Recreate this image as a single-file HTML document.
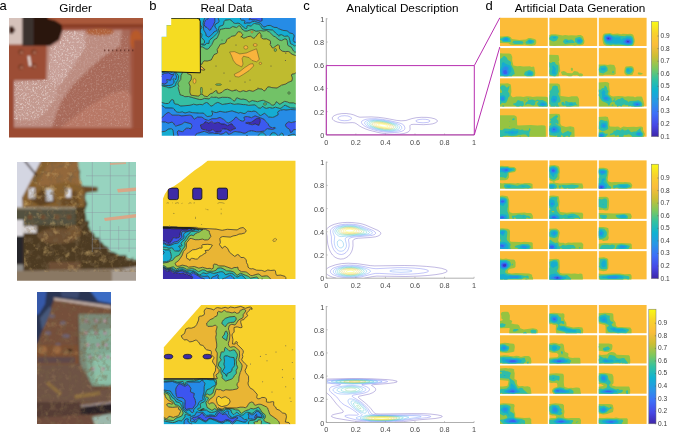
<!DOCTYPE html>
<html><head><meta charset="utf-8"><style>
html,body{margin:0;padding:0;background:#fff;width:685px;height:432px;overflow:hidden}
svg{display:block;will-change:transform;filter:blur(0.3px)}
</style></head><body>
<svg width="685" height="432" viewBox="0 0 685 432" font-family='"Liberation Sans", sans-serif'><text x="-0.6" y="9.9" font-size="13" text-anchor="start" fill="#000">a</text>
<text x="75.7" y="11.8" font-size="11.75" text-anchor="middle" fill="#000">Girder</text>
<text x="149.2" y="9.8" font-size="13" text-anchor="start" fill="#000">b</text>
<text x="226.5" y="11.8" font-size="11.75" text-anchor="middle" fill="#000">Real Data</text>
<text x="303.2" y="9.8" font-size="13" text-anchor="start" fill="#000">c</text>
<text x="402.5" y="11.8" font-size="11.75" text-anchor="middle" fill="#000">Analytical Description</text>
<text x="485.6" y="9.8" font-size="13" text-anchor="start" fill="#000">d</text>
<text x="580" y="11.8" font-size="11.75" text-anchor="middle" fill="#000">Artificial Data Generation</text>
<defs><filter id="bl1" x="-5%" y="-5%" width="110%" height="110%"><feGaussianBlur stdDeviation="1.2"/></filter><filter id="spk" x="0" y="0" width="100%" height="100%"><feTurbulence type="fractalNoise" baseFrequency="0.55" numOctaves="2" seed="4"/><feColorMatrix type="matrix" values="0 0 0 0 0.93  0 0 0 0 0.85  0 0 0 0 0.83  2.6 0 0 0 -1.25"/><feGaussianBlur stdDeviation="0.35"/></filter><filter id="mot" x="0" y="0" width="100%" height="100%"><feTurbulence type="fractalNoise" baseFrequency="0.16" numOctaves="3" seed="9"/><feColorMatrix type="matrix" values="0 0 0 0 0.18  0 0 0 0 0.12  0 0 0 0 0.06  2.2 0 0 0 -1.0"/></filter><filter id="mot2" x="0" y="0" width="100%" height="100%"><feTurbulence type="fractalNoise" baseFrequency="0.14" numOctaves="3" seed="21"/><feColorMatrix type="matrix" values="0 0 0 0 0.75  0 0 0 0 0.52  0 0 0 0 0.2  2.4 0 0 0 -1.3"/></filter></defs><clipPath id="cp1"><rect x="9" y="18" width="134" height="119.6"/></clipPath><g clip-path="url(#cp1)"><g filter="url(#bl1)"><rect x="5" y="14" width="142" height="128" fill="#a0543f"/><path d="M46 30 L130 30 L132 128 L14 128 L14 80 L46 80 Z" fill="#a86a5a"/><path d="M48 31 L122 30 L120 46 L104 56 L88 70 L72 86 L62 100 L56 114 L52 127 L14 127 L14 80 L46 80 Z" fill="#bc8c80"/><path d="M50 47.5 L60.5 41 L63.5 31 L84 31 L86 46 L76 62 L64 80 L54 92 L48 80 Z" fill="#c8a098"/><path d="M14 82 L46 79 L58 84 L56 98 L46 112 L36 120 L14 120 Z" fill="#c49a90"/><path d="M60 128 L86 108 L110 94 L126 90 L131 96 L131 128 Z" fill="#b87866"/><rect x="44" y="14" width="104" height="12" fill="#a9593a"/><rect x="60" y="24" width="84" height="4" fill="#8a3e28"/><ellipse cx="136" cy="40" rx="6" ry="10" fill="#b85a2c"/><ellipse cx="100" cy="32" rx="14" ry="3.5" fill="#b0643c"/><rect x="134" y="40" width="13" height="100" fill="#9a4e36"/><rect x="5" y="128" width="142" height="14" fill="#9c4c30"/><rect x="5" y="44" width="41" height="36" fill="#9c4e34"/><rect x="5" y="80" width="9" height="50" fill="#9a4a32"/><circle cx="21" cy="52" r="2.8" fill="#7a3a26"/><circle cx="21.6" cy="52.6" r="1.4" fill="#b87860"/><circle cx="34" cy="52" r="2.8" fill="#7a3a26"/><circle cx="34.6" cy="52.6" r="1.4" fill="#b87860"/><circle cx="21" cy="67" r="2.8" fill="#7a3a26"/><circle cx="21.6" cy="67.6" r="1.4" fill="#b87860"/><circle cx="34" cy="66" r="2.8" fill="#7a3a26"/><circle cx="34.6" cy="66.6" r="1.4" fill="#b87860"/><path d="M27.5 56 L30 56 L31.5 66 L29 66 Z" fill="#e8d8d4"/><rect x="5" y="14" width="17.8" height="30.5" fill="#d6c2bb"/><path d="M9 27 L12.5 26 L15.3 30 L12.5 34 L9 33 Z" fill="#3a1c16"/><path d="M22.6 14 L47.5 14 L48 18.8 L55 20.5 L61.5 24.5 L62.5 30 L59 40 L50 45.8 L22.6 45.8 Z" fill="#2c130e"/><rect x="22.6" y="14" width="11.2" height="31.8" fill="#3a302d"/></g><clipPath id="cp1b"><path d="M63 30 L104 29 L128 36 L130 126 L16 126 L16 82 L48 80 L50 47.5 L60.5 41 Z"/></clipPath><clipPath id="cp1c"><path d="M14 82 L46 79 L58 84 L56 98 L46 112 L36 120 L14 120 Z M50 47.5 L60.5 41 L63.5 31 L84 31 L86 46 L76 62 L64 80 L54 92 L48 80 Z"/></clipPath><rect x="9" y="18" width="134" height="120" filter="url(#spk)" clip-path="url(#cp1b)" opacity="0.25"/><rect x="9" y="18" width="134" height="120" filter="url(#spk)" clip-path="url(#cp1c)" opacity="0.5"/><rect x="104" y="49.5" width="1.4" height="1.8" fill="#5a2a20" opacity="0.7"/><rect x="108" y="49.5" width="1.4" height="1.8" fill="#5a2a20" opacity="0.7"/><rect x="112" y="49.5" width="1.4" height="1.8" fill="#5a2a20" opacity="0.7"/><rect x="116" y="49.5" width="1.4" height="1.8" fill="#5a2a20" opacity="0.7"/><rect x="120" y="49.5" width="1.4" height="1.8" fill="#5a2a20" opacity="0.7"/><rect x="124" y="49.5" width="1.4" height="1.8" fill="#5a2a20" opacity="0.7"/><rect x="128" y="49.5" width="1.4" height="1.8" fill="#5a2a20" opacity="0.7"/><rect x="132" y="49.5" width="1.4" height="1.8" fill="#5a2a20" opacity="0.7"/></g><clipPath id="cp2"><rect x="17" y="162" width="119" height="118.7"/></clipPath><g clip-path="url(#cp2)"><g filter="url(#bl1)"><rect x="13" y="158" width="127" height="127" fill="#4e3a24"/><path d="M76 158 L140 158 L138.9 261.1 L138.4 259.7 L137.2 259.2 L133.9 260.7 L132.7 260.0 L133.6 257.3 L129.4 259.7 L126.7 258.6 L126.3 255.1 L122.4 255.1 L118.8 254.9 L116.3 253.5 L113.9 252.1 L110.8 251.8 L108.4 250.8 L108.5 247.4 L106.2 246.3 L103.8 245.3 L102.8 242.9 L100.0 241.3 L99.4 237.6 L95.1 237.6 L94.2 234.1 L92.1 231.9 L89.7 229.9 L89.8 227.2 L88.1 226.4 L89.2 222.7 L88.8 220.6 L85.9 221.0 L86.3 218.0 L85.6 214.3 L85.0 210.6 L87.4 203.7 L85.9 200.8 L85.0 197.4 L86.5 191.5 L84.1 190.6 L85.2 186.1 L82.1 185.9 L80.6 184.1 L80.1 181.3 L79.5 178.5 L79.4 175.4 L80.3 171.4 L79.1 169.4 L77.5 167.8 L76.0 166.2 L77.0 162.0 L76 158 Z" fill="#97d3bf"/><path d="M83 186 L97.6 187 L97.6 191.6 L84 193 Z" fill="#6a4a28"/><path d="M13 158 L42.5 158 L42.5 162.3 L22.2 197.6 L23.5 208 L13 208 Z" fill="#d4d6e2"/><path d="M42.5 158 L76.5 158 L79.5 178 L84.5 192 L84.5 207 L22.5 207 L22.2 197.6 Z" fill="#86602e"/><path d="M48 164 L78 160 L80 185 L64 182 L50 186 L36 186 Z" fill="#93683a"/><path d="M30 200 L46 186 L56 202 L40 206 Z" fill="#5e4224"/><path d="M60 200 L76 190 L80 205 L62 206 Z" fill="#6a4c28"/><line x1="24" y1="160" x2="37" y2="176" stroke="#3a2a24" stroke-width="1.5"/><rect x="28.6" y="188" width="6.5" height="10.5" fill="#d8d8e0"/><rect x="46" y="188.6" width="6.8" height="12.5" fill="#c4c8d2"/><rect x="65.7" y="188.6" width="5.5" height="9" fill="#dcdce4"/><rect x="13" y="207.6" width="62.8" height="17.5" fill="#52513f"/><rect x="13" y="207" width="62.8" height="2.2" fill="#9a8e78"/><circle cx="30" cy="217" r="2.6" fill="#6e4e30"/><circle cx="43" cy="217" r="2.6" fill="#6e4e30"/><circle cx="57" cy="217" r="2.6" fill="#6e4e30"/><circle cx="69" cy="217" r="2.6" fill="#6e4e30"/><rect x="13" y="220" width="10.4" height="16" fill="#dedbe0"/><rect x="22" y="226" width="14.7" height="7" fill="#d6d2d2"/><rect x="13" y="236" width="10.4" height="28.4" fill="#25252b"/><rect x="13" y="264.4" width="10.4" height="20" fill="#8e8c8a"/><ellipse cx="58" cy="236" rx="20" ry="8" fill="#6c5030"/><ellipse cx="74" cy="232" rx="7" ry="7" fill="#745430"/><rect x="48.6" y="262" width="32" height="9" fill="#6e5036"/><path d="M13 271 L140 268 L140 285 L13 285 Z" fill="#8a7864"/><path d="M112 270 L140 266 L140 285 L112 285 Z" fill="#a89e94"/></g><clipPath id="cp2b"><path d="M42.5 162 L77 162 L80 178 L85 189 L84.4 217.9 L90.2 229.4 L101.8 243.9 L113.4 252.6 L130.7 258.4 L136 260 L136 272 L24 272 L24 207 L22.2 197.6 Z"/></clipPath><rect x="17" y="162" width="119" height="119" filter="url(#mot)" clip-path="url(#cp2b)" opacity="0.7"/><rect x="17" y="162" width="119" height="119" filter="url(#mot2)" clip-path="url(#cp2b)" opacity="0.6"/><line x1="92.3" y1="162" x2="92.3" y2="252" stroke="#8a8f9e" stroke-width="0.7" opacity="0.65"/><line x1="110.3" y1="162" x2="110.3" y2="252" stroke="#8a8f9e" stroke-width="0.7" opacity="0.65"/><line x1="129.1" y1="162" x2="129.1" y2="252" stroke="#8a8f9e" stroke-width="0.7" opacity="0.65"/><line x1="86" y1="175.8" x2="136" y2="175.8" stroke="#8a8f9e" stroke-width="0.7" opacity="0.55"/><line x1="86" y1="194.6" x2="136" y2="194.6" stroke="#8a8f9e" stroke-width="0.7" opacity="0.55"/><line x1="86" y1="212.6" x2="136" y2="212.6" stroke="#8a8f9e" stroke-width="0.7" opacity="0.55"/><line x1="92" y1="230.4" x2="136" y2="230.4" stroke="#8a8f9e" stroke-width="0.7" opacity="0.55"/><line x1="92" y1="239.3" x2="136" y2="239.3" stroke="#8a8f9e" stroke-width="0.7" opacity="0.55"/><line x1="92" y1="248.1" x2="136" y2="248.1" stroke="#8a8f9e" stroke-width="0.7" opacity="0.55"/><line x1="100" y1="226" x2="100" y2="250" stroke="#8a8f9e" stroke-width="0.7" opacity="0.55"/><line x1="118.7" y1="226" x2="118.7" y2="250" stroke="#8a8f9e" stroke-width="0.7" opacity="0.55"/><path d="M117 189 L136 187.5 L136 191 L118 192.5 Z" fill="#e0a282" opacity="0.9"/><path d="M104 218 L136 214 L136 217.5 L105 221 Z" fill="#e0a282" opacity="0.9"/><path d="M110 163 L126 162.3 L126 164 L110 165 Z" fill="#e0a282" opacity="0.8"/></g><clipPath id="cp3"><rect x="37" y="292" width="74" height="132"/></clipPath><g clip-path="url(#cp3)"><g filter="url(#bl1)"><rect x="33" y="288" width="82" height="140" fill="#6a4a38"/><path d="M33 288 L115 288 L115 307 L54.3 298.5 L37.1 344.6 L33 346 Z" fill="#2b3552"/><path d="M33 288 L47 288 L45 304 L39 314 L33 316 Z" fill="#3558a8"/><path d="M40 318 L50 306 L53 312 L42 330 Z" fill="#46587a"/><path d="M88 288 L115 288 L115 304 L98 301 Z" fill="#3b6cc4"/><path d="M60 290 L80 290 L78 298 L62 297 Z" fill="#3a4a70"/><path d="M53.5 297.5 L111 305.6 L111 309 L54.5 300.8 Z" fill="#b7a49c"/><path d="M55 300.5 L111 309 L111 316 L78 314 L76 345 L37.1 345 Z" fill="#74503a"/><ellipse cx="52" cy="316" rx="3" ry="2" fill="#6e6270"/><ellipse cx="63" cy="323" rx="3" ry="2" fill="#6e6270"/><ellipse cx="48" cy="333" rx="3" ry="2" fill="#6e6270"/><ellipse cx="66" cy="336" rx="4" ry="2" fill="#6e6270"/><ellipse cx="58" cy="345" rx="3" ry="2" fill="#6e6270"/><ellipse cx="44" cy="354" rx="3" ry="2" fill="#6e6270"/><path d="M78.6 314 L115 314 L115 386 L88 386 L80 362 Z" fill="#7a8a78"/><path d="M86 332 L115 328 L115 386 L90 386 L86 360 Z" fill="#80a892"/><path d="M93 356 L115 352 L115 384 L95 384 Z" fill="#8cc0a8"/><circle cx="86" cy="321" r="1.7" fill="#b08aa0"/><circle cx="96" cy="321" r="1.7" fill="#b08aa0"/><circle cx="105" cy="321" r="1.7" fill="#b08aa0"/><circle cx="86" cy="333" r="1.7" fill="#b08aa0"/><circle cx="96" cy="333" r="1.7" fill="#b08aa0"/><circle cx="105" cy="333" r="1.7" fill="#b08aa0"/><circle cx="88" cy="345" r="1.7" fill="#b08aa0"/><circle cx="98" cy="345" r="1.7" fill="#b08aa0"/><circle cx="106" cy="345" r="1.7" fill="#b08aa0"/><circle cx="90" cy="357" r="1.7" fill="#b08aa0"/><circle cx="100" cy="357" r="1.7" fill="#b08aa0"/><circle cx="108" cy="357" r="1.7" fill="#b08aa0"/><circle cx="93" cy="369" r="1.7" fill="#b08aa0"/><circle cx="103" cy="369" r="1.7" fill="#b08aa0"/><rect x="33" y="345" width="45" height="19" fill="#7c5032"/><circle cx="43" cy="350" r="4" fill="#9c6a40"/><circle cx="57" cy="350" r="4" fill="#9a6840"/><ellipse cx="69.8" cy="350.5" rx="2.5" ry="1.6" fill="#1e1414"/><rect x="37" y="357" width="38" height="6" fill="#5e4a48"/><path d="M33 364 L80 364 L95 390 L115 388 L115 402 L33 402 Z" fill="#6e5244"/><path d="M48 381 L62 393 L60 396 L46 384 Z" fill="#9a7a40" opacity="0.7"/><path d="M74 395 L100 391 L100 395 L75 399 Z" fill="#9a7a40" opacity="0.7"/><path d="M33 402 L80 402 L82 417 L33 419 Z" fill="#563e36"/><path d="M80 405 L115 402 L115 413 L82 417 Z" fill="#2c2426"/><path d="M80 405 L115 401 L115 403 L82 407 Z" fill="#a09090"/><path d="M33 418 L115 413 L115 428 L33 428 Z" fill="#6e4c3c"/><path d="M92 417 L115 413 L115 428 L96 428 Z" fill="#9cb8ac"/></g><clipPath id="cp3b"><path d="M55 301 L111 309 L111 424 L37 424 L37 345 Z"/></clipPath><rect x="37" y="292" width="74" height="132" filter="url(#mot)" clip-path="url(#cp3b)" opacity="0.6"/><rect x="37" y="292" width="74" height="132" filter="url(#mot2)" clip-path="url(#cp3b)" opacity="0.22"/></g>
<g><clipPath id="cb1"><rect x="161.5" y="18.0" width="134.5" height="118.0"/></clipPath><g clip-path="url(#cb1)"><path d="M256.4 118.5L259.0 118.4L259.8 118.6L260.2 119.2L260.4 120.8L259.0 125.4L255.2 124.0L252.2 124.8L245.7 123.0L247.8 122.3L250.0 122.5L251.4 122.2L256.4 118.5ZM211.6 121.5L212.2 121.5L213.2 123.0L214.0 123.3L217.8 122.3L220.0 122.9L220.8 123.9L224.5 124.1L227.5 125.6L231.2 123.8L232.0 123.9L234.2 127.0L235.9 128.2L232.0 129.9L230.5 131.0L226.8 129.3L223.0 128.7L221.5 129.8L220.8 131.7L217.0 132.0L215.5 131.9L213.2 129.8L212.5 129.6L209.7 131.2L208.8 131.3L205.0 129.6L202.8 129.5L201.8 129.0L200.5 126.0L200.5 124.9L203.5 124.0L205.0 121.9L205.8 121.9L208.8 123.1L211.6 121.5Z" fill="#3d2fb4" fill-rule="evenodd"/>
<path d="M208.1 18.8L208.9 18.0L214.8 18.0L214.8 21.8L213.2 25.7L211.6 27.8L210.4 30.0L209.5 30.4L207.4 27.8L205.0 26.7L204.2 25.5L204.3 23.2L205.5 20.2L206.5 19.3L208.1 18.8ZM249.6 18.8L250.1 18.0L261.9 18.0L262.2 20.2L261.7 21.0L260.5 21.3L256.0 19.8L252.2 19.9L250.8 19.3L249.2 19.7L249.6 18.8ZM168.1 72.8L169.8 73.3L172.0 74.8L173.5 73.8L173.7 75.0L172.0 76.9L170.5 80.3L166.7 79.5L166.6 80.2L167.5 81.8L166.6 83.2L164.5 84.0L161.5 83.3L161.5 74.9L164.3 73.5L168.1 72.8ZM168.0 112.5L169.0 112.6L171.2 114.6L172.8 115.2L178.8 115.2L181.8 115.9L189.2 115.2L190.8 115.4L192.2 116.1L193.5 118.5L194.5 119.0L197.5 117.1L202.0 117.2L204.7 119.2L208.0 120.4L208.8 120.4L211.8 118.7L216.2 118.7L220.0 117.4L223.8 119.5L226.6 122.2L228.2 123.0L230.2 122.2L233.3 120.0L235.8 117.0L236.5 117.1L239.5 120.2L242.5 121.2L244.0 120.9L244.8 120.0L244.0 117.7L244.2 117.0L244.8 116.7L247.8 116.6L251.5 117.7L255.2 115.8L264.2 119.3L265.8 121.5L268.1 123.8L269.1 126.0L269.8 126.8L272.5 127.8L274.8 127.4L275.5 128.2L272.5 129.5L267.2 128.7L264.2 131.1L259.0 131.8L256.8 131.8L251.5 130.7L248.5 131.4L245.5 133.0L244.0 133.3L241.0 132.3L235.0 131.5L233.5 132.0L231.2 133.5L228.2 134.1L226.8 132.0L226.0 131.7L223.8 133.4L220.8 134.3L218.5 133.5L214.8 133.5L212.5 132.9L208.8 133.1L204.2 131.3L197.5 133.4L196.0 134.2L195.2 135.8L178.1 135.8L177.2 132.0L178.0 130.8L178.8 130.6L181.0 131.5L182.5 131.6L184.0 130.7L185.1 129.0L186.3 128.3L188.5 128.2L190.8 128.9L191.8 126.7L191.6 124.5L190.8 123.4L187.8 123.1L184.8 122.1L181.8 124.2L175.8 126.1L174.6 125.2L173.5 123.0L172.0 122.1L168.2 123.1L165.2 122.0L161.5 121.8L161.5 117.8L162.9 117.0L165.5 114.0L168.0 112.5ZM211.7 121.3L208.8 123.1L205.8 121.9L205.0 121.9L203.5 124.0L200.5 124.9L200.5 126.0L201.8 129.0L202.8 129.5L205.0 129.6L208.8 131.3L209.7 131.2L212.5 129.6L213.2 129.8L215.5 131.9L217.0 132.0L220.8 131.7L221.5 129.8L223.0 128.7L226.8 129.3L230.5 131.0L232.0 129.9L235.9 128.2L234.2 127.0L232.0 123.9L231.2 123.8L227.5 125.6L224.5 124.1L220.8 123.9L220.0 122.9L217.8 122.3L214.0 123.3L211.7 121.3ZM256.8 118.4L251.4 122.2L250.0 122.5L247.8 122.3L245.7 123.0L252.2 124.8L255.2 124.0L259.0 125.4L260.4 120.8L260.2 119.2L259.7 118.5L256.8 118.4ZM288.1 122.2L289.0 121.9L290.5 122.5L292.0 122.6L295.8 121.5L295.8 129.6L293.5 129.7L292.1 132.0L291.2 132.4L290.5 132.5L290.1 130.5L289.2 129.0L286.8 127.6L285.5 126.0L285.5 124.5L286.0 123.8L288.1 122.2Z" fill="#3c5af0" fill-rule="evenodd"/>
<path d="M204.9 18.0L208.9 18.0L208.1 18.8L206.5 19.3L205.5 20.2L204.5 22.5L204.2 24.8L205.0 26.7L207.2 27.6L209.5 30.4L210.4 30.0L211.6 27.8L213.2 25.7L214.8 21.8L214.8 18.0L218.1 18.0L218.9 20.2L218.9 21.8L218.5 22.5L215.6 24.0L214.9 25.5L215.0 27.0L216.8 29.2L216.7 30.8L214.0 31.9L211.8 34.6L208.8 37.0L206.3 36.0L205.6 33.0L203.7 30.0L203.1 23.2L203.8 20.2L204.9 18.0ZM240.3 18.0L250.1 18.0L249.1 19.5L249.2 19.7L250.8 19.3L252.2 19.9L256.0 19.8L260.5 21.3L261.7 21.0L262.2 20.2L261.9 18.0L295.8 18.0L295.8 42.3L294.2 42.1L293.3 40.5L293.3 39.0L294.3 36.0L293.5 34.4L292.8 33.7L289.8 33.0L287.1 30.8L283.0 30.4L278.5 28.7L277.0 27.5L274.0 27.4L270.2 25.4L267.2 25.6L265.0 26.9L263.5 27.0L260.3 23.2L254.5 21.4L252.2 21.7L250.0 23.0L247.0 22.9L244.8 23.5L244.1 23.2L244.8 21.7L244.8 20.8L244.0 20.3L241.5 20.2L240.7 19.5L240.3 18.0ZM166.5 71.2L168.2 70.6L169.0 70.7L171.3 72.0L172.0 72.0L172.8 71.4L174.2 71.8L176.6 76.5L176.5 78.1L175.8 79.5L175.0 79.5L174.2 78.7L173.5 78.9L173.2 79.5L174.1 81.0L173.5 83.5L172.0 84.8L169.8 85.6L163.8 85.3L161.5 84.6L161.5 83.3L164.5 84.0L166.6 83.2L167.5 81.8L166.6 80.2L166.8 79.5L170.5 80.3L172.0 76.9L173.7 75.0L173.5 73.8L172.0 74.8L168.3 72.7L164.3 73.5L161.5 74.9L161.5 72.8L166.5 71.2ZM161.5 76.5L161.5 76.2L161.5 76.9L161.5 76.5ZM161.5 105.8L161.5 105.4L162.5 105.8L165.2 107.9L172.0 108.0L173.5 108.4L174.2 109.0L175.3 111.0L177.2 112.2L179.5 112.4L182.5 111.9L184.0 112.7L185.5 112.9L189.2 111.9L192.2 112.6L199.8 113.2L202.8 113.1L204.2 113.5L206.4 116.2L207.2 116.5L210.6 116.2L212.0 115.5L212.6 114.0L212.3 112.5L211.7 111.8L211.8 110.9L214.0 112.2L216.2 112.6L220.0 111.3L225.2 112.3L232.0 110.9L238.8 113.1L240.2 112.4L244.0 113.6L245.5 113.2L247.8 111.2L251.5 111.6L253.8 111.1L255.2 111.3L256.8 112.1L259.0 114.8L260.3 115.5L261.2 115.4L264.2 113.3L265.0 113.6L268.6 117.0L272.5 117.4L274.0 117.0L278.1 114.8L278.3 114.0L277.6 112.5L277.8 111.8L280.3 110.2L283.8 109.6L286.0 110.0L290.5 109.5L295.8 109.8L295.8 121.5L291.2 122.6L289.0 121.9L288.2 122.1L286.0 123.8L285.4 125.2L286.6 127.5L289.0 128.9L289.8 129.8L290.5 132.5L292.1 132.0L293.5 129.7L295.8 129.6L295.8 135.3L294.2 134.3L292.8 134.3L287.7 135.8L283.7 135.8L283.0 133.8L281.5 133.2L278.6 135.8L278.0 135.8L275.5 133.2L273.2 132.7L271.8 133.0L269.8 135.8L266.1 135.8L264.2 133.4L263.2 132.8L262.0 132.6L260.5 133.1L257.6 135.8L195.2 135.8L196.0 134.2L197.5 133.4L204.2 131.3L208.8 133.1L212.5 132.9L214.8 133.5L218.5 133.5L220.8 134.3L223.8 133.4L226.0 131.7L226.8 132.0L228.2 134.1L229.0 134.1L231.2 133.5L233.5 132.0L235.0 131.5L241.0 132.3L244.0 133.3L245.5 133.0L248.5 131.4L251.5 130.7L256.8 131.8L259.0 131.8L264.2 131.1L267.2 128.7L272.5 129.5L275.5 128.2L274.8 127.4L272.5 127.8L269.8 126.8L269.1 126.0L268.1 123.8L265.8 121.5L264.2 119.3L255.2 115.8L251.5 117.7L247.8 116.6L244.8 116.7L244.2 117.0L244.0 117.8L244.8 120.0L244.0 120.9L242.5 121.2L239.5 120.2L236.5 117.1L235.8 117.0L233.3 120.0L230.2 122.2L228.2 123.0L226.6 122.2L223.8 119.5L220.0 117.4L216.2 118.7L211.8 118.7L208.8 120.4L208.0 120.4L204.7 119.2L202.0 117.2L197.5 117.1L194.5 119.0L193.5 118.5L192.2 116.1L190.8 115.4L189.2 115.2L181.8 115.9L178.8 115.2L172.8 115.2L172.0 115.1L169.8 113.1L168.2 112.4L165.5 114.0L162.9 117.0L161.5 117.8L161.5 105.8ZM161.5 122.2L161.5 121.8L164.5 121.9L168.2 123.1L172.0 122.1L173.5 123.0L175.0 125.7L176.5 126.1L178.8 125.0L182.5 123.9L184.8 122.1L187.8 123.1L190.8 123.4L191.6 124.5L191.8 126.8L190.8 128.9L188.5 128.2L186.2 128.3L185.1 129.0L184.0 130.7L182.5 131.6L181.0 131.5L178.8 130.6L178.0 130.8L177.2 132.0L178.1 135.8L173.7 135.8L173.1 130.5L172.1 129.0L171.2 128.6L168.2 129.2L165.2 131.3L161.5 131.8L161.5 122.2Z" fill="#268ce6" fill-rule="evenodd"/>
<path d="M161.5 18.0L174.7 18.0L175.0 24.8L176.3 27.0L176.1 33.0L177.7 36.8L177.4 40.5L177.8 43.5L177.1 45.8L176.9 48.8L175.1 53.2L175.2 54.8L176.5 58.5L174.8 61.5L175.3 66.8L174.7 69.0L174.9 70.5L176.2 72.8L178.6 75.8L178.4 78.8L177.9 80.2L175.9 83.2L175.6 85.5L170.5 87.7L168.2 87.7L166.8 86.9L163.0 86.2L161.5 85.5L161.5 84.6L163.8 85.3L169.0 85.6L172.0 84.8L173.7 83.2L174.1 81.0L173.2 79.5L173.5 78.9L174.2 78.7L175.0 79.5L175.7 79.5L176.6 77.2L176.3 75.8L174.5 72.0L173.5 71.5L172.8 71.4L172.0 72.0L171.2 72.0L169.0 70.7L167.5 70.7L164.8 72.0L161.5 72.8L161.5 18.0ZM199.6 18.0L204.9 18.0L203.8 20.2L203.1 23.2L203.7 30.0L205.6 33.0L206.3 36.0L208.0 36.9L208.8 37.0L211.1 35.2L214.0 31.9L216.7 30.8L216.8 29.2L215.0 27.0L214.9 25.5L215.6 24.0L218.5 22.5L218.9 21.8L218.9 20.2L218.1 18.0L240.3 18.0L240.7 19.5L241.5 20.2L244.0 20.3L244.8 20.8L244.8 21.8L244.1 23.2L244.8 23.5L247.0 22.9L250.0 23.0L252.2 21.7L254.5 21.4L260.3 23.2L263.5 27.0L265.0 26.9L267.2 25.6L270.2 25.4L274.0 27.4L277.0 27.5L278.5 28.7L283.0 30.4L286.0 30.5L287.5 30.9L289.8 33.0L292.8 33.7L294.1 35.2L294.2 36.8L293.3 39.0L293.3 40.5L294.2 42.1L295.8 42.3L295.8 45.7L294.2 45.8L292.8 44.6L290.5 43.6L289.1 37.5L288.2 36.3L287.5 36.0L284.5 36.4L281.5 34.7L278.5 35.4L275.5 33.0L273.7 30.8L272.5 30.0L263.5 29.2L261.9 28.5L260.3 25.5L259.0 24.4L254.5 23.5L253.4 24.0L251.5 25.7L250.8 26.0L247.8 25.5L246.9 26.2L246.9 27.8L246.5 28.5L245.5 28.5L243.2 27.0L240.2 23.8L238.0 23.1L235.8 23.5L234.2 23.2L232.8 22.2L231.2 20.2L229.8 19.6L225.0 20.2L223.9 21.8L223.6 24.0L223.0 25.2L219.2 26.5L217.8 32.6L213.2 37.1L209.9 39.8L209.4 40.5L208.9 43.5L206.5 43.3L205.1 45.0L202.8 45.0L201.3 44.2L203.5 43.8L204.2 43.2L204.6 42.0L204.3 40.5L201.5 37.5L202.0 34.2L201.6 33.8L199.8 33.5L199.1 33.0L198.2 31.5L198.3 30.8L198.9 30.0L201.2 28.8L201.8 27.8L201.2 25.6L199.4 24.0L199.7 21.8L199.3 19.5L199.6 18.0ZM176.9 21.0L178.0 20.3L178.8 20.6L179.2 21.8L178.8 22.4L177.7 22.5L176.7 21.8L176.9 21.0ZM171.5 99.8L172.8 99.6L173.5 100.2L174.2 103.3L175.0 104.0L178.0 104.4L180.0 105.8L181.0 106.0L190.0 105.3L193.8 104.2L196.8 104.9L199.8 104.4L202.8 104.7L205.0 103.0L206.5 102.5L208.0 103.0L210.2 105.7L211.8 106.0L213.2 105.2L215.2 103.5L217.8 102.4L219.1 102.8L222.2 104.5L230.5 103.2L234.2 104.4L238.0 103.9L243.2 104.6L245.5 104.6L248.5 105.4L254.5 104.9L256.0 105.6L258.2 107.7L260.5 108.4L262.0 106.6L262.8 106.5L265.0 108.0L266.5 108.4L269.5 107.5L272.5 108.2L275.5 107.2L280.0 108.5L281.5 108.0L283.8 105.7L285.2 105.2L290.5 107.8L295.8 108.2L295.8 109.8L290.5 109.5L286.0 110.0L283.8 109.6L280.3 110.2L277.8 111.8L277.6 112.5L278.3 114.0L278.1 114.8L274.0 117.0L272.5 117.4L268.6 117.0L265.0 113.6L264.2 113.3L261.2 115.4L260.3 115.5L259.0 114.8L256.8 112.1L255.2 111.3L253.8 111.1L251.5 111.6L247.8 111.2L245.5 113.2L244.0 113.6L240.2 112.4L238.8 113.1L232.0 110.9L225.2 112.3L220.0 111.3L216.2 112.6L214.0 112.2L211.8 110.9L211.7 111.7L212.3 112.5L212.6 114.0L212.0 115.5L210.6 116.2L207.2 116.5L206.4 116.2L204.2 113.5L202.8 113.1L199.8 113.2L192.2 112.6L189.2 111.9L185.5 112.9L184.0 112.7L182.5 111.9L179.5 112.4L177.2 112.2L175.3 111.0L174.2 109.0L173.5 108.4L172.0 108.0L165.2 107.9L163.0 106.1L161.5 105.4L161.5 102.3L165.3 103.5L168.2 103.5L169.0 103.2L170.5 100.6L171.5 99.8ZM168.6 129.0L171.2 128.6L172.8 129.7L173.4 132.0L173.7 135.8L161.5 135.8L161.5 131.8L163.8 131.7L165.4 131.2L167.1 129.8L168.6 129.0ZM261.4 132.8L263.5 132.9L266.1 135.8L257.6 135.8L259.9 133.5L261.4 132.8ZM272.5 132.8L275.5 133.2L278.0 135.8L269.8 135.8L271.3 133.5L272.5 132.8ZM281.0 133.5L281.5 133.2L282.7 133.5L283.7 135.8L278.6 135.8L281.0 133.5ZM293.4 134.2L294.2 134.3L295.8 135.3L295.8 135.8L287.7 135.8L291.2 134.5L293.4 134.2ZM246.2 135.8L247.7 135.8L246.2 135.8Z" fill="#15acd2" fill-rule="evenodd"/>
<path d="M174.7 18.0L184.3 18.0L185.0 20.2L185.5 23.2L185.3 24.8L183.2 27.8L182.8 30.0L183.2 32.2L185.8 36.0L185.9 40.5L185.5 41.6L184.4 42.8L185.2 44.2L185.2 45.8L183.2 48.8L182.1 51.8L182.3 52.5L184.3 54.0L183.6 58.5L184.3 63.0L184.5 67.5L184.0 69.5L181.0 75.6L180.7 79.5L178.4 82.5L177.9 84.0L178.9 86.2L178.2 87.8L180.2 94.9L183.2 95.7L184.8 96.7L188.5 96.5L199.8 99.6L202.0 99.5L204.2 98.4L208.8 98.9L209.5 98.7L211.0 97.2L214.0 97.4L215.5 97.1L218.5 98.1L222.2 97.3L229.0 97.6L230.8 98.2L233.1 100.5L234.2 101.0L235.3 100.5L236.3 98.2L237.2 97.9L241.0 99.4L243.2 99.1L246.4 99.8L247.5 100.5L248.5 101.9L249.2 102.0L252.2 100.5L257.5 101.7L262.0 100.4L263.5 100.4L269.5 103.1L271.8 105.0L272.5 105.2L273.9 105.0L274.9 104.2L276.2 101.9L277.0 101.8L279.2 104.1L280.0 104.1L283.8 101.6L285.2 101.4L289.0 102.8L293.5 102.9L295.8 103.9L295.8 108.2L290.5 107.8L285.2 105.2L283.8 105.7L281.5 108.0L280.0 108.5L275.5 107.2L272.5 108.2L269.5 107.5L266.5 108.4L265.0 108.0L262.8 106.5L262.0 106.6L260.5 108.4L258.2 107.7L256.0 105.6L254.5 104.9L248.5 105.4L245.5 104.6L243.2 104.6L238.0 103.9L234.2 104.4L230.5 103.2L222.2 104.5L219.1 102.8L217.8 102.4L215.2 103.5L213.2 105.2L211.8 106.0L210.2 105.7L208.0 103.0L206.5 102.5L205.0 103.0L202.8 104.7L199.8 104.4L196.8 104.9L193.7 104.2L190.0 105.3L181.0 106.0L180.0 105.8L178.0 104.4L175.0 104.0L174.2 103.3L173.5 100.2L172.0 99.5L170.6 100.5L169.4 102.8L168.2 103.5L165.3 103.5L161.5 102.3L161.5 85.5L163.0 86.2L166.8 86.9L168.2 87.7L171.2 87.6L175.6 85.5L175.9 83.2L177.9 80.2L178.4 78.8L178.6 75.8L176.5 73.3L174.7 69.8L175.3 66.8L174.8 61.5L176.5 58.5L175.2 54.8L175.1 53.2L176.9 48.8L177.1 45.8L177.9 42.8L177.4 40.5L177.7 36.8L176.1 33.0L176.3 27.0L175.0 24.8L174.7 18.0ZM177.2 20.7L176.7 21.8L177.7 22.5L178.8 22.4L179.2 21.8L178.8 20.6L178.0 20.3L177.2 20.7ZM195.1 18.0L199.6 18.0L199.3 19.5L199.7 21.8L199.4 24.0L201.2 25.6L201.8 27.8L201.2 28.8L198.9 30.0L198.3 30.8L198.2 31.5L199.1 33.0L199.8 33.5L201.6 33.8L202.0 34.2L201.5 37.5L204.3 40.5L204.6 42.0L204.2 43.2L203.5 43.8L201.3 44.2L202.8 45.0L205.1 45.0L206.5 43.3L208.9 43.5L209.4 40.5L209.9 39.8L213.2 37.1L217.8 32.6L219.2 26.5L223.0 25.2L223.6 24.0L223.9 21.8L225.0 20.2L229.8 19.6L231.2 20.2L232.8 22.2L234.2 23.2L235.8 23.5L238.0 23.1L240.2 23.8L243.2 27.0L245.5 28.5L246.5 28.5L246.9 27.8L246.9 26.2L247.7 25.5L250.8 26.0L252.2 25.3L253.8 23.8L255.2 23.5L259.6 24.8L260.5 25.9L261.2 27.8L262.8 28.9L272.6 30.0L273.7 30.8L275.5 33.0L278.5 35.4L281.5 34.7L284.5 36.4L287.5 36.0L288.2 36.3L289.1 37.5L290.5 43.6L292.8 44.6L294.2 45.8L295.8 45.7L295.8 52.1L294.2 51.8L293.5 51.1L291.3 47.2L288.4 45.8L287.7 45.0L287.2 40.5L286.2 39.0L284.5 39.0L281.5 40.6L279.2 40.0L275.5 37.0L273.2 35.8L269.5 32.2L266.5 30.5L263.5 31.0L260.5 30.6L256.0 31.3L253.0 29.8L251.5 29.5L247.0 31.1L244.8 31.0L242.0 29.2L240.3 26.2L239.5 25.8L238.8 25.8L236.5 27.6L232.8 26.5L229.8 28.4L225.2 28.4L220.0 29.5L219.0 33.8L217.0 38.2L214.1 39.8L211.8 44.6L208.8 48.4L207.2 49.3L205.8 49.0L202.8 47.2L200.5 46.6L199.4 45.8L197.8 43.5L196.6 40.5L196.4 38.2L197.1 34.5L196.3 31.5L196.3 28.5L195.5 27.0L193.8 25.4L193.1 23.2L195.1 18.0Z" fill="#36bea2" fill-rule="evenodd"/>
<path d="M184.3 18.0L191.9 18.0L191.1 19.5L188.8 20.2L188.1 21.0L188.3 22.5L189.4 24.0L189.8 25.5L189.6 27.0L188.2 30.0L188.5 30.8L191.5 31.2L192.1 32.2L191.5 33.5L189.2 35.0L188.8 36.0L188.8 38.2L189.9 45.0L188.3 48.8L188.1 50.2L188.9 53.2L191.5 55.3L192.0 56.2L191.6 57.8L188.6 60.0L188.3 60.8L188.7 62.2L190.0 64.1L190.3 65.2L189.8 66.8L187.5 69.8L187.1 72.0L187.8 73.9L190.8 74.8L191.5 76.5L191.2 79.5L189.2 82.3L189.0 83.2L190.2 86.2L189.8 92.2L190.9 95.2L198.2 96.2L199.0 96.0L200.1 94.5L201.3 94.0L202.0 94.1L204.3 96.0L207.2 96.7L210.2 93.8L212.7 93.0L215.5 90.7L216.2 90.5L216.9 90.8L217.2 93.0L219.2 93.4L222.2 92.2L224.5 89.8L227.5 89.2L232.0 91.0L236.5 90.0L238.8 91.5L240.2 91.8L243.2 90.6L246.2 91.6L249.2 90.4L253.0 91.4L258.2 88.7L262.0 89.0L263.8 90.8L265.0 90.8L266.9 87.8L268.0 86.9L269.5 86.9L271.8 87.6L277.0 88.0L281.5 85.2L285.8 84.0L287.9 82.5L292.0 80.8L292.4 78.0L291.3 75.0L292.0 74.1L294.2 73.8L295.8 72.8L295.8 103.9L293.5 102.9L289.8 102.9L286.0 101.5L284.5 101.4L280.0 104.1L279.2 104.1L277.0 101.8L276.2 101.9L274.9 104.2L273.9 105.0L272.5 105.2L271.8 105.0L269.5 103.1L263.5 100.4L262.0 100.4L257.5 101.7L252.2 100.5L249.2 102.0L248.5 101.9L247.5 100.5L246.4 99.8L243.2 99.1L241.0 99.4L237.2 97.9L236.3 98.2L235.3 100.5L234.2 101.0L233.1 100.5L230.8 98.2L227.5 97.4L222.2 97.3L218.5 98.1L216.2 97.2L213.2 97.4L211.8 97.1L211.0 97.2L209.5 98.7L208.8 98.9L204.2 98.4L202.0 99.5L199.8 99.6L188.5 96.5L184.8 96.7L183.2 95.7L180.2 94.9L178.2 87.8L178.9 86.2L177.9 84.0L178.4 82.5L180.7 79.5L181.0 75.6L184.0 69.5L184.5 67.5L184.3 63.0L183.6 58.5L184.3 54.0L182.3 52.5L182.1 51.8L183.2 48.8L185.2 45.8L185.2 44.2L184.4 42.8L185.5 41.6L185.9 40.5L185.8 36.0L183.6 33.0L182.8 30.8L183.2 27.8L185.5 24.0L185.2 21.0L184.3 18.0ZM193.6 18.0L195.1 18.0L193.1 23.2L193.8 25.4L195.5 27.0L196.3 28.5L196.3 31.5L197.1 34.5L196.4 38.2L196.8 40.9L197.8 43.5L199.4 45.8L200.5 46.6L202.8 47.2L205.8 49.0L207.2 49.3L208.8 48.4L211.8 44.6L214.1 39.8L217.0 38.2L219.0 33.8L220.0 29.5L225.2 28.4L229.8 28.4L232.8 26.5L236.5 27.6L238.8 25.8L239.5 25.8L240.3 26.2L242.0 29.2L244.8 31.0L247.0 31.1L251.5 29.5L253.0 29.8L256.0 31.3L260.5 30.6L263.5 31.0L266.5 30.5L269.5 32.2L273.2 35.8L275.5 37.0L279.2 40.0L281.5 40.6L284.5 39.0L286.2 39.0L287.2 40.5L287.7 45.0L288.4 45.8L291.3 47.2L293.5 51.1L294.3 51.8L295.8 52.1L295.8 55.7L291.2 53.9L290.3 52.5L288.2 51.4L285.2 51.7L282.2 51.2L279.5 48.8L279.4 45.8L278.5 44.9L277.3 45.0L273.2 48.0L272.5 48.0L270.2 44.6L270.6 42.0L270.2 40.6L266.5 38.9L263.5 39.0L261.7 38.2L261.2 37.5L260.9 34.5L259.8 32.5L258.6 33.0L255.0 37.5L253.8 38.2L253.0 38.1L250.8 36.3L250.0 36.3L247.8 36.6L244.8 38.0L243.2 38.1L241.8 36.8L240.8 36.8L242.5 35.6L242.7 34.5L242.3 33.8L240.6 32.2L238.8 31.7L237.6 32.2L236.3 34.5L235.0 35.7L231.2 36.4L230.3 37.5L227.5 38.8L226.7 39.8L226.0 42.0L225.2 43.1L224.5 43.5L220.3 44.2L217.2 49.5L217.6 52.5L217.3 53.2L214.0 54.7L211.2 60.0L207.2 61.0L204.0 60.8L202.8 62.2L202.0 64.2L200.5 64.4L199.6 63.0L199.3 61.5L196.5 58.5L196.2 54.8L196.6 50.2L194.7 45.8L192.9 42.8L192.9 42.0L194.2 39.8L194.1 36.0L194.8 31.5L194.3 29.2L192.2 26.0L191.6 23.2L193.6 18.0Z" fill="#72c267" fill-rule="evenodd"/>
<path d="M191.9 18.0L193.6 18.0L191.6 23.2L192.2 26.0L194.3 29.2L194.8 31.5L194.1 36.0L194.2 39.8L192.9 42.0L192.9 42.8L194.7 45.8L196.6 50.2L196.2 54.8L196.5 58.5L199.3 61.5L199.6 63.0L200.5 64.4L202.0 64.2L202.8 62.2L204.0 60.8L207.2 61.0L211.2 60.0L214.0 54.7L217.3 53.2L217.6 52.5L217.2 49.5L220.3 44.2L224.5 43.5L225.2 43.1L226.0 42.0L226.7 39.8L227.5 38.8L230.3 37.5L231.2 36.4L235.0 35.7L236.3 34.5L238.0 31.9L240.2 32.1L241.7 33.0L242.7 34.5L242.6 35.2L240.8 36.8L241.8 36.8L243.2 38.1L244.8 38.0L247.8 36.6L250.0 36.3L250.8 36.3L253.0 38.1L253.8 38.3L255.0 37.5L258.6 33.0L259.8 32.5L260.9 34.5L261.2 37.5L261.7 38.2L263.5 39.0L266.5 38.9L270.2 40.6L270.6 42.0L270.2 44.6L272.5 48.0L273.2 48.0L277.3 45.0L278.5 44.9L279.4 45.8L279.5 48.8L282.2 51.2L285.2 51.7L288.2 51.4L290.3 52.5L291.2 53.9L295.8 55.7L295.8 72.8L294.2 73.8L292.0 74.1L291.3 75.0L292.4 78.0L292.0 80.8L287.9 82.5L285.8 84.0L281.5 85.2L277.0 88.0L271.8 87.6L269.5 86.9L268.0 86.9L266.9 87.8L265.0 90.8L263.8 90.8L262.0 89.0L258.2 88.7L253.0 91.4L249.2 90.4L246.2 91.6L243.2 90.6L240.2 91.8L238.8 91.5L236.5 90.0L232.0 91.0L227.5 89.2L224.5 89.8L222.2 92.2L219.2 93.4L217.2 93.0L216.9 90.8L216.2 90.5L215.5 90.7L212.7 93.0L210.2 93.8L207.2 96.7L204.3 96.0L202.0 94.1L201.2 94.0L200.1 94.5L199.0 96.0L198.2 96.2L190.9 95.2L189.8 92.2L190.2 86.2L189.0 83.2L189.2 82.3L191.2 79.5L191.5 76.5L190.8 74.8L187.8 73.9L187.1 72.0L187.5 69.8L189.8 66.8L190.3 65.2L190.0 64.1L188.7 62.2L188.3 60.8L188.6 60.0L191.6 57.8L192.0 56.2L191.5 55.3L188.9 53.2L188.1 50.2L188.3 48.8L189.9 45.0L188.8 38.2L188.8 36.0L189.2 35.0L191.5 33.5L192.1 32.2L191.5 31.2L188.5 30.8L188.2 30.0L189.6 27.0L189.8 25.5L189.4 24.0L188.3 22.5L188.1 21.0L188.8 20.2L191.1 19.5L191.9 18.0ZM200.5 65.9L199.9 66.0L199.7 67.5L199.8 68.2L200.5 69.2L202.0 69.9L204.2 70.1L204.8 69.8L204.4 69.0L200.5 65.9Z" fill="#bfbb2f" fill-rule="evenodd"/>
<path d="M199.9 66.0L200.8 66.0L202.8 68.0L204.4 69.0L204.8 69.8L204.2 70.1L201.2 69.8L199.8 68.2L199.9 66.0Z" fill="#f9b43c" fill-rule="evenodd"/>
<path d="M256.8 118.4L251.4 122.2L250.0 122.5L247.8 122.3L245.7 123.0L252.2 124.8L255.2 124.0L259.0 125.4L260.4 120.8L260.2 119.2L259.7 118.5L256.8 118.4M211.7 121.3L208.8 123.1L205.8 121.9L205.0 121.9L203.5 124.0L200.5 124.9L200.5 126.0L201.8 129.0L202.8 129.5L205.0 129.6L208.8 131.3L209.7 131.2L212.5 129.6L213.2 129.8L215.5 131.9L217.0 132.0L220.8 131.7L221.5 129.8L223.0 128.7L226.8 129.3L230.5 131.0L232.0 129.9L235.9 128.2L234.2 127.0L232.0 123.9L231.2 123.8L227.5 125.6L224.5 124.1L220.8 123.9L220.0 122.9L217.8 122.3L214.0 123.3L211.7 121.3M208.9 18.0L208.1 18.8L206.5 19.3L205.5 20.2L204.5 22.5L204.2 24.8L205.0 26.7L207.2 27.6L209.5 30.4L210.4 30.0L211.6 27.8L213.2 25.7L214.8 21.8L214.8 18.0M250.1 18.0L249.1 19.5L249.2 19.7L250.8 19.3L252.2 19.9L256.0 19.8L260.5 21.3L261.7 21.0L262.2 20.2L261.9 18.0M161.5 76.2L161.5 76.9M161.5 83.3L164.5 84.0L166.6 83.2L167.5 81.8L166.6 80.2L166.7 79.5L170.5 80.3L172.0 76.9L173.7 75.0L173.5 73.8L172.0 74.8L168.3 72.7L164.3 73.5L161.5 74.9M161.5 121.8L165.2 122.0L168.2 123.1L172.0 122.1L173.5 123.0L174.6 125.2L175.8 126.1L181.8 124.2L184.8 122.1L191.1 123.8L191.8 125.2L191.8 126.8L190.8 128.9L188.5 128.2L186.2 128.3L185.1 129.0L184.0 130.7L182.5 131.6L181.0 131.5L178.8 130.6L178.0 130.8L177.2 132.0L178.1 135.8M295.8 121.5L291.2 122.6L289.0 121.9L288.2 122.1L286.0 123.8L285.4 125.2L286.6 127.5L289.0 128.9L289.8 129.8L290.5 132.5L292.1 132.0L293.5 129.7L295.8 129.6M195.2 135.8L196.0 134.2L197.5 133.4L204.2 131.3L208.8 133.1L212.5 132.9L214.8 133.5L218.5 133.5L220.8 134.3L223.8 133.4L226.0 131.7L226.8 132.0L228.2 134.1L229.0 134.1L231.2 133.5L233.5 132.0L235.0 131.5L241.0 132.3L244.0 133.3L245.5 133.0L248.5 131.4L251.5 130.7L256.8 131.8L259.0 131.8L264.2 131.1L267.2 128.7L272.5 129.5L275.5 128.2L274.8 127.4L272.5 127.8L269.8 126.8L269.1 126.0L268.1 123.8L265.8 121.5L264.2 119.3L255.2 115.8L251.5 117.7L247.8 116.6L244.8 116.7L244.2 117.0L244.0 117.8L244.8 120.0L244.0 120.9L242.5 121.2L239.5 120.2L236.5 117.1L235.8 117.0L233.3 120.0L230.2 122.2L228.2 123.0L226.6 122.2L223.8 119.5L220.0 117.4L216.2 118.7L211.8 118.7L208.8 120.4L208.0 120.4L204.7 119.2L202.0 117.2L197.5 117.1L194.5 119.0L193.5 118.5L192.2 116.1L190.8 115.4L189.2 115.2L181.8 115.9L178.8 115.2L172.8 115.2L172.0 115.1L169.8 113.1L168.2 112.4L165.5 114.0L162.9 117.0L161.5 117.8M204.9 18.0L203.8 20.2L203.1 23.2L203.7 30.0L205.6 33.0L206.3 36.0L208.8 37.0L211.8 34.6L214.0 31.9L216.7 30.8L216.8 29.2L215.0 27.0L214.9 25.5L215.6 24.0L218.5 22.5L218.9 21.8L218.9 20.2L218.1 18.0M240.3 18.0L240.7 19.5L241.5 20.2L244.0 20.3L244.8 20.8L244.8 21.8L244.1 23.2L244.8 23.5L247.0 22.9L250.0 23.0L252.2 21.7L254.5 21.4L260.3 23.2L263.5 27.0L265.0 26.9L267.2 25.6L270.2 25.4L274.0 27.4L277.0 27.5L278.5 28.7L283.0 30.4L287.1 30.8L289.8 33.0L292.8 33.7L293.5 34.4L294.3 36.0L293.3 39.0L293.3 40.5L294.2 42.1L295.8 42.3M161.5 84.6L163.8 85.3L169.0 85.6L172.0 84.8L173.7 83.2L174.1 81.0L173.2 79.5L173.5 78.9L174.2 78.7L175.0 79.5L175.7 79.5L176.6 77.2L176.3 75.8L174.5 72.0L173.5 71.5L172.8 71.4L172.0 72.0L171.2 72.0L169.0 70.7L167.5 70.7L164.8 72.0L161.5 72.8M295.8 109.8L290.5 109.5L286.0 110.0L283.8 109.6L280.3 110.2L277.8 111.8L277.6 112.5L278.3 114.0L278.1 114.8L274.0 117.0L272.5 117.4L268.6 117.0L265.0 113.6L264.2 113.3L261.2 115.4L260.3 115.5L259.0 114.8L256.8 112.1L255.2 111.3L253.8 111.1L251.5 111.6L247.8 111.2L245.5 113.2L244.0 113.6L240.2 112.4L238.8 113.1L232.0 110.9L225.2 112.3L220.0 111.3L216.2 112.6L214.0 112.2L211.8 110.9L211.7 111.7L212.3 112.5L212.6 114.0L212.0 115.5L210.6 116.2L207.2 116.5L206.4 116.2L204.2 113.5L202.8 113.1L199.8 113.2L192.2 112.6L189.2 111.9L185.5 112.9L184.0 112.7L182.5 111.9L179.5 112.4L177.2 112.2L175.3 111.0L174.2 109.0L173.5 108.4L172.0 108.0L165.2 107.9L163.0 106.1L161.5 105.4M161.5 131.8L165.2 131.3L168.2 129.2L171.2 128.6L172.1 129.0L173.1 130.5L173.7 135.8M246.2 135.8L247.7 135.7M257.6 135.8L260.5 133.1L262.0 132.6L263.2 132.8L264.2 133.4L266.1 135.8M269.8 135.8L271.8 133.0L273.2 132.7L275.5 133.2L278.0 135.8M278.6 135.8L281.5 133.2L283.0 133.8L283.7 135.8M287.7 135.8L292.8 134.3L294.2 134.3L295.8 135.3M199.6 18.0L199.3 19.5L199.7 21.8L199.4 24.0L201.2 25.6L201.8 27.8L201.2 28.8L198.9 30.0L198.3 30.8L198.2 31.5L199.1 33.0L199.8 33.5L201.6 33.8L202.0 34.2L201.5 37.5L204.3 40.5L204.6 42.0L204.2 43.2L203.5 43.8L201.3 44.2L202.8 45.0L205.1 45.0L206.5 43.3L208.9 43.5L209.4 40.5L209.9 39.8L213.2 37.1L217.8 32.6L219.2 26.5L223.0 25.2L223.6 24.0L223.9 21.8L225.0 20.2L229.8 19.6L231.2 20.2L232.8 22.2L234.2 23.2L235.8 23.5L238.0 23.1L240.2 23.8L243.2 27.0L245.5 28.5L246.5 28.5L246.9 27.8L246.9 26.2L247.8 25.5L250.8 26.0L251.5 25.7L253.4 24.0L254.5 23.5L259.0 24.4L260.3 25.5L261.9 28.5L263.5 29.2L272.5 30.0L273.7 30.8L275.5 33.0L278.5 35.4L281.5 34.7L284.5 36.4L287.5 36.0L288.2 36.3L289.1 37.5L290.5 43.6L292.8 44.6L294.2 45.8L295.8 45.7M177.2 20.7L176.7 21.8L177.7 22.5L178.8 22.4L179.2 21.8L178.8 20.6L178.0 20.3L177.2 20.7M161.5 85.5L163.0 86.2L166.8 86.9L168.2 87.7L171.2 87.6L175.6 85.5L175.9 83.2L177.9 80.2L178.4 78.8L178.6 75.8L176.5 73.3L174.7 69.8L175.3 66.8L174.8 61.5L176.5 58.5L175.2 54.8L175.1 53.2L176.9 48.8L177.1 45.8L177.9 42.8L177.4 40.5L177.7 36.8L176.1 33.0L176.3 27.0L175.0 24.8L174.7 18.0M295.8 108.2L290.5 107.8L285.2 105.2L283.8 105.7L281.5 108.0L280.0 108.5L275.5 107.2L272.5 108.2L269.5 107.5L266.5 108.4L265.0 108.0L262.8 106.5L262.0 106.6L260.5 108.4L258.2 107.7L256.0 105.6L254.5 104.9L248.5 105.4L245.5 104.6L243.2 104.6L238.0 103.9L234.2 104.4L230.5 103.2L222.2 104.5L219.1 102.8L217.8 102.4L215.2 103.5L213.2 105.2L211.8 106.0L210.2 105.7L208.0 103.0L206.5 102.5L205.0 103.0L202.8 104.7L199.8 104.4L196.8 104.9L193.7 104.2L190.0 105.3L181.0 106.0L180.0 105.8L178.0 104.4L175.0 104.0L174.2 103.3L173.5 100.2L172.0 99.5L170.6 100.5L169.4 102.8L168.2 103.5L165.3 103.5L161.5 102.3M195.1 18.0L193.1 23.2L193.8 25.4L195.5 27.0L196.3 28.5L196.3 31.5L197.1 34.5L196.4 38.2L196.6 40.5L197.8 43.5L199.4 45.8L200.5 46.6L202.8 47.2L205.8 49.0L207.2 49.3L208.8 48.4L211.8 44.6L214.1 39.8L217.0 38.2L219.0 33.8L220.0 29.5L225.2 28.4L229.8 28.4L232.8 26.5L236.5 27.6L238.8 25.8L239.5 25.8L240.3 26.2L242.0 29.2L244.8 31.0L247.0 31.1L251.5 29.5L253.0 29.8L256.0 31.3L260.5 30.6L263.5 31.0L266.5 30.5L269.5 32.2L273.2 35.8L275.5 37.0L279.2 40.0L281.5 40.6L284.5 39.0L286.2 39.0L287.2 40.5L287.7 45.0L288.4 45.8L291.3 47.2L293.5 51.1L294.3 51.8L295.8 52.1M295.8 103.9L293.5 102.9L289.8 102.9L286.0 101.5L284.5 101.4L280.0 104.1L279.2 104.1L277.0 101.8L276.2 101.9L274.9 104.2L273.9 105.0L272.5 105.2L271.8 105.0L269.5 103.1L263.5 100.4L262.0 100.4L257.5 101.7L252.2 100.5L249.2 102.0L248.5 101.9L247.5 100.5L246.4 99.8L243.2 99.1L241.0 99.4L237.2 97.9L236.3 98.2L235.3 100.5L234.2 101.0L233.1 100.5L230.8 98.2L227.5 97.4L222.2 97.3L218.5 98.1L216.2 97.2L213.2 97.4L211.8 97.1L211.0 97.2L209.5 98.7L208.8 98.9L204.2 98.4L202.0 99.5L199.8 99.6L188.5 96.5L184.8 96.7L183.2 95.7L180.2 94.9L178.2 87.8L178.9 86.2L177.9 84.0L178.4 82.5L180.7 79.5L181.0 75.6L184.0 69.5L184.5 67.5L184.3 63.0L183.6 58.5L184.3 54.0L182.3 52.5L182.1 51.8L183.2 48.8L185.2 45.8L185.2 44.2L184.4 42.8L185.5 41.6L185.9 40.5L185.8 36.0L183.6 33.0L182.8 30.8L183.2 27.8L185.5 24.0L185.2 21.0L184.3 18.0M193.6 18.0L191.6 23.2L192.2 26.0L194.3 29.2L194.8 31.5L194.1 36.0L194.2 39.8L192.9 42.0L192.9 42.8L194.7 45.8L196.6 50.2L196.2 54.8L196.5 58.5L199.3 61.5L199.6 63.0L200.5 64.4L202.0 64.2L202.8 62.2L204.0 60.8L207.2 61.0L211.2 60.0L214.0 54.7L217.3 53.2L217.6 52.5L217.2 49.5L220.3 44.2L224.5 43.5L225.2 43.1L226.0 42.0L226.7 39.8L227.5 38.8L230.3 37.5L231.2 36.4L235.0 35.7L236.3 34.5L237.6 32.2L238.8 31.7L240.6 32.2L242.3 33.8L242.7 34.5L242.5 35.6L240.8 36.8L241.8 36.8L243.2 38.1L244.8 38.0L247.8 36.6L250.0 36.3L250.8 36.3L253.0 38.1L253.8 38.3L255.0 37.5L258.6 33.0L259.8 32.5L260.9 34.5L261.2 37.5L261.7 38.2L263.5 39.0L266.5 38.9L270.2 40.6L270.6 42.0L270.2 44.6L272.5 48.0L273.2 48.0L277.3 45.0L278.5 44.9L279.4 45.8L279.5 48.8L282.2 51.2L285.2 51.7L288.2 51.4L290.3 52.5L291.2 53.9L295.8 55.7M295.8 72.8L294.2 73.8L292.0 74.1L291.3 75.0L292.4 78.0L292.0 80.8L287.9 82.5L285.8 84.0L281.5 85.2L277.0 88.0L271.8 87.6L269.5 86.9L268.0 86.9L266.9 87.8L265.0 90.8L263.8 90.8L262.0 89.0L258.2 88.7L253.0 91.4L249.2 90.4L246.2 91.6L243.2 90.6L240.2 91.8L238.8 91.5L236.5 90.0L232.0 91.0L227.5 89.2L224.5 89.8L222.2 92.2L219.2 93.4L217.2 93.0L216.9 90.8L216.2 90.5L215.5 90.7L212.7 93.0L210.2 93.8L207.2 96.7L204.3 96.0L202.0 94.1L201.2 94.0L200.1 94.5L199.0 96.0L198.2 96.2L190.9 95.2L189.8 92.2L190.2 86.2L189.0 83.2L189.2 82.3L191.2 79.5L191.5 76.5L190.8 74.8L187.8 73.9L187.1 72.0L187.5 69.8L189.8 66.8L190.3 65.2L190.0 64.1L188.7 62.2L188.3 60.8L188.6 60.0L191.6 57.8L192.0 56.2L191.5 55.3L188.9 53.2L188.1 50.2L188.3 48.8L189.9 45.0L188.8 38.2L188.8 36.0L189.2 35.0L191.5 33.5L192.1 32.2L191.5 31.2L188.5 30.8L188.2 30.0L189.6 27.0L189.8 25.5L189.4 24.0L188.3 22.5L188.1 21.0L188.8 20.2L191.1 19.5L191.9 18.0M199.9 66.0L200.8 66.0L202.8 68.0L204.4 69.0L204.8 69.8L204.2 70.1L201.2 69.8L199.8 68.2L199.9 66.0" fill="none" stroke="#1a1a1a" stroke-width="0.7" stroke-opacity="0.95" stroke-linejoin="round"/>
<path d="M229.6 52L234.3 51.6L239.8 53.9L246.3 53L251.9 50.6L256.5 48.8L257.9 53.9L259.3 59.4L256.5 61.8L251.9 60.4L249.1 57.6L243.5 56.2L242.1 58.5L243 64.1L241.7 66.9L236.1 64.1L233.3 60.4L231.5 55.7Z" fill="#f9b43c" stroke="#222" stroke-width="0.45" stroke-opacity="0.8" stroke-linejoin="round"/>
<path d="M234.3 74.3L239.8 71.5L244.4 67.8L250 64.1L252.8 63.6L253.7 65.9L249.1 70.6L243.5 74.3L238.9 77L235.2 76.6Z" fill="#f9b43c" stroke="#222" stroke-width="0.45" stroke-opacity="0.8" stroke-linejoin="round"/>
<ellipse cx="245.8" cy="47.4" rx="2" ry="1.8" fill="#f9b43c" stroke="#222" stroke-width="0.4" stroke-opacity="0.8"/>
<ellipse cx="255.2" cy="45" rx="2" ry="1.4" fill="#f9b43c" stroke="#222" stroke-width="0.4" stroke-opacity="0.8"/>
<ellipse cx="260.4" cy="63.4" rx="1.2" ry="1.1" fill="#f9b43c" stroke="#222" stroke-width="0.4" stroke-opacity="0.8"/>
<ellipse cx="194.5" cy="81" rx="1.5" ry="2.6" fill="#f9b43c" stroke="#222" stroke-width="0.4" stroke-opacity="0.8"/>
<ellipse cx="252" cy="32" rx="1.2" ry="1" fill="#f9b43c" stroke="#222" stroke-width="0.4" stroke-opacity="0.8"/>
<ellipse cx="218.5" cy="84.6" rx="3.0" ry="0.8" fill="#72c267" stroke="#222" stroke-width="0.45"/>
<ellipse cx="201.4" cy="90.6" rx="1.0" ry="3.6" fill="#72c267" stroke="#222" stroke-width="0.45"/>
<ellipse cx="275.3" cy="50" rx="1.2" ry="1.5" fill="#72c267" stroke="#222" stroke-width="0.45"/>
<ellipse cx="265" cy="104" rx="1.5" ry="1.2" fill="#72c267" stroke="#222" stroke-width="0.45"/>
<ellipse cx="289" cy="93" rx="1.2" ry="1.2" fill="#72c267" stroke="#222" stroke-width="0.45"/>
<circle cx="270.6" cy="43.3" r="0.6" fill="#444" fill-opacity="0.8"/>
<circle cx="285.8" cy="53.2" r="0.6" fill="#444" fill-opacity="0.8"/>
<circle cx="285.5" cy="60.5" r="0.6" fill="#444" fill-opacity="0.8"/>
<circle cx="271" cy="66" r="0.6" fill="#444" fill-opacity="0.8"/>
<circle cx="211" cy="89" r="0.6" fill="#444" fill-opacity="0.8"/>
<circle cx="245" cy="82" r="0.6" fill="#444" fill-opacity="0.8"/>
<circle cx="222" cy="40" r="0.6" fill="#444" fill-opacity="0.8"/>
<circle cx="236" cy="45" r="0.6" fill="#444" fill-opacity="0.8"/>
<circle cx="262" cy="36" r="0.6" fill="#444" fill-opacity="0.8"/>
<circle cx="279" cy="36" r="0.6" fill="#444" fill-opacity="0.8"/>
<circle cx="230" cy="81" r="0.6" fill="#444" fill-opacity="0.8"/>
<circle cx="250" cy="80" r="0.6" fill="#444" fill-opacity="0.8"/>
<circle cx="216" cy="66" r="0.6" fill="#444" fill-opacity="0.8"/>
<circle cx="258" cy="88" r="0.6" fill="#444" fill-opacity="0.8"/>
<circle cx="235" cy="90" r="0.6" fill="#444" fill-opacity="0.8"/>
<circle cx="224" cy="73" r="0.6" fill="#444" fill-opacity="0.8"/>
<path d="M171 18.2 L197 18.2 Q200 18.2 200.2 21.5 L200.4 72.8 L161.5 71.6 L161.5 36.8 L166.3 36.8 L166.3 25.2 L171 25.2 Z" fill="#f5dc22"/>
<path d="M171 18.2 L197 18.2 Q200 18.2 200.2 21.5 L200.4 72.8 L161.5 71.6" fill="none" stroke="#141414" stroke-width="1.0"/></g><path d="M160 17 L171.2 17 L171.2 25.1 L166.5 25.1 L166.5 36.7 L160 36.7 Z" fill="#fff"/></g>
<g><clipPath id="cb2"><path d="M207.9 160.6 L295.8 160.6 L295.8 279.6 L162.8 279.6 L162.8 199 L164.9 193.9 L168.3 189 L173.9 186.3 L180.8 181.4 L187.8 175.8 L194.7 170.3 L201.7 165.4 Z"/></clipPath><g clip-path="url(#cb2)"><path d="M162.8 228.1L170.2 228.1L171.1 228.6L173.3 228.8L188.7 228.8L185.8 230.4L182.3 230.0L180.8 230.7L179.3 237.4L176.3 238.1L173.3 237.5L171.1 241.8L169.2 243.1L168.1 243.2L165.1 241.1L162.8 240.9L162.8 228.1ZM162.8 269.4L162.8 268.9L164.3 269.3L166.6 271.3L167.3 271.5L168.8 270.8L170.3 270.7L171.8 272.0L174.8 273.2L177.1 273.0L180.8 273.7L183.1 273.1L192.1 276.2L192.8 276.9L192.6 277.6L192.0 279.1L162.8 279.1L162.8 269.4Z" fill="#3b2ba8" fill-rule="evenodd"/>
<path d="M162.8 228.1L169.6 227.9L177.8 228.5L187.6 228.4L190.5 228.8L191.9 229.6L186.1 231.4L182.3 231.5L181.8 231.8L181.5 233.3L182.0 236.3L181.6 237.8L179.3 239.4L177.8 241.3L174.1 242.0L170.3 244.4L168.1 244.7L164.3 242.8L162.8 242.8L162.8 240.9L165.1 241.1L167.8 243.1L169.2 243.1L171.2 241.6L173.3 237.5L176.3 238.1L179.3 237.4L180.8 230.7L182.3 230.0L185.8 230.3L188.7 228.8L173.3 228.8L171.1 228.6L170.2 228.1L162.8 228.1ZM162.8 268.6L162.8 268.0L164.3 268.4L167.3 270.2L170.3 269.8L172.6 271.2L174.8 272.0L182.3 271.0L185.3 272.5L188.1 273.1L189.8 274.2L191.3 274.1L192.8 273.2L193.6 273.2L201.1 277.7L204.8 279.1L192.0 279.1L192.8 276.9L192.1 276.2L190.6 275.9L188.0 274.6L183.1 273.1L180.0 273.7L177.8 273.0L174.1 273.1L170.3 270.7L168.8 270.8L167.3 271.5L166.6 271.3L164.5 269.4L162.8 268.9L162.8 268.6Z" fill="#3c55f0" fill-rule="evenodd"/>
<path d="M162.8 227.9L188.3 228.2L195.2 229.6L194.0 230.3L190.6 230.8L186.8 231.8L184.0 233.3L183.6 234.1L183.9 237.1L183.4 238.6L180.1 240.4L178.8 242.3L177.8 243.2L174.8 243.5L171.1 245.2L168.1 245.6L164.3 243.9L162.8 244.0L162.8 242.8L164.3 242.8L167.3 244.5L168.8 244.7L171.1 244.0L174.1 242.0L177.8 241.3L179.3 239.4L181.6 237.8L182.0 237.1L181.4 234.1L181.8 231.8L183.1 231.4L186.1 231.4L191.9 229.6L190.5 228.8L188.3 228.5L162.8 227.9ZM162.8 251.3L162.8 250.8L164.1 252.1L164.0 252.9L162.8 254.8L162.8 251.3ZM162.8 267.9L162.8 267.3L164.3 267.7L167.3 269.3L171.1 269.2L175.6 271.2L182.3 270.1L186.1 271.9L188.3 272.1L189.8 273.1L190.6 273.1L192.1 272.0L193.6 271.9L199.6 275.9L204.1 276.4L207.8 276.1L208.9 276.9L209.9 279.1L204.8 279.1L201.8 278.1L193.6 273.2L192.8 273.2L191.3 274.1L189.8 274.2L188.1 273.1L185.3 272.5L182.3 271.0L174.8 272.0L172.6 271.2L170.3 269.8L167.3 270.2L166.6 270.0L164.3 268.4L162.8 267.9ZM215.9 275.4L217.6 274.7L218.3 275.1L217.9 277.6L218.3 278.4L219.5 279.1L211.1 279.1L212.3 276.9L214.6 276.3L215.9 275.4ZM230.2 275.4L231.1 275.6L232.1 276.9L234.1 278.1L234.3 279.1L222.0 279.1L224.3 278.4L230.2 275.4Z" fill="#2589e6" fill-rule="evenodd"/>
<path d="M162.8 227.7L189.1 228.0L198.2 229.6L199.1 230.3L198.1 231.2L191.3 231.5L190.5 231.8L188.9 234.1L186.8 235.6L185.0 239.3L182.3 241.6L181.2 243.1L181.1 243.9L182.0 245.4L181.6 246.1L180.8 246.3L179.3 245.6L178.7 246.1L178.9 246.8L180.1 247.7L180.4 249.1L179.7 250.6L178.6 251.3L174.1 250.6L172.7 248.3L171.8 247.8L168.8 248.3L166.6 247.4L162.8 247.1L162.8 244.0L164.3 243.9L166.6 245.1L168.8 245.6L171.1 245.2L174.8 243.5L177.8 243.2L178.8 242.3L180.1 240.4L183.4 238.6L183.9 237.1L183.6 234.1L184.0 233.4L186.8 231.8L190.6 230.8L194.0 230.3L195.2 229.6L188.3 228.2L162.8 227.7ZM162.8 249.8L162.8 249.2L163.6 249.2L165.1 249.9L169.6 249.9L170.2 250.6L170.1 251.3L171.3 255.1L171.2 258.1L170.4 259.6L168.3 261.1L166.6 261.6L162.8 261.9L162.8 254.8L164.0 252.8L164.1 252.1L162.8 250.8L162.8 249.8ZM162.8 267.1L162.8 266.6L163.6 266.8L167.3 268.8L171.8 268.4L175.6 270.3L177.1 270.4L179.3 269.2L181.6 269.0L183.1 269.1L186.1 270.8L191.3 270.7L193.6 271.0L195.1 271.5L198.8 274.6L199.6 274.7L200.9 274.6L202.6 272.9L203.3 272.8L206.3 273.7L210.1 272.4L213.8 273.5L220.6 271.7L222.1 271.7L223.8 272.4L225.1 274.3L225.8 274.6L229.6 273.3L231.8 273.4L233.3 274.1L235.5 276.4L237.1 277.0L238.0 276.9L240.2 275.4L241.6 275.2L243.1 276.1L245.9 279.1L234.3 279.1L234.1 278.1L230.3 275.3L223.6 278.6L222.0 279.1L219.5 279.1L218.3 278.4L217.9 277.6L218.4 275.4L217.6 274.7L214.6 276.3L212.3 276.8L211.1 279.1L209.9 279.1L208.9 276.9L207.8 276.1L204.1 276.4L199.6 275.9L193.6 271.9L192.1 272.0L190.5 273.1L189.8 273.1L188.3 272.1L186.1 271.9L182.3 270.1L175.6 271.2L171.1 269.2L166.6 269.2L162.8 267.1Z" fill="#14aad4" fill-rule="evenodd"/>
<path d="M162.8 227.6L189.1 227.8L192.8 228.1L198.1 229.2L202.9 229.6L198.8 232.4L197.6 232.6L194.7 234.1L193.6 235.7L191.3 235.1L189.1 236.0L187.3 239.4L184.8 242.3L185.0 245.3L184.6 247.0L182.3 249.9L179.3 255.0L175.6 256.8L172.6 260.4L170.3 261.0L168.1 262.3L162.8 263.1L162.8 261.9L166.6 261.6L169.4 260.4L171.1 258.5L171.4 256.6L171.1 254.3L170.1 251.3L170.2 250.6L169.6 249.9L165.1 249.9L164.3 249.4L162.8 249.2L162.8 247.1L166.6 247.4L168.8 248.3L171.8 247.8L172.7 248.3L173.5 249.8L174.8 250.9L179.3 251.1L180.2 249.8L180.3 248.3L180.1 247.7L178.9 246.8L178.7 246.1L179.3 245.6L180.8 246.3L181.6 246.1L182.0 245.4L181.1 243.8L181.2 243.1L182.3 241.6L185.0 239.3L186.8 235.6L188.9 234.1L190.5 231.8L191.3 231.5L198.1 231.2L199.1 230.3L198.2 229.6L189.1 228.0L162.8 227.6ZM162.8 266.4L162.8 265.6L164.3 265.8L167.2 267.9L168.1 268.0L173.3 266.8L176.3 269.1L180.1 267.3L183.1 267.4L186.8 269.4L191.3 268.6L192.8 268.7L195.1 269.4L198.1 271.5L198.8 271.6L202.6 269.7L204.8 270.1L207.1 271.6L210.1 271.1L213.1 271.3L216.0 270.2L217.6 268.1L220.6 267.8L223.0 268.6L226.6 270.8L230.3 271.0L233.3 271.8L234.8 272.8L236.2 274.6L237.1 275.1L237.8 275.0L240.1 273.3L240.8 273.3L248.3 276.4L250.6 278.1L256.6 277.0L257.3 277.3L258.7 279.1L245.9 279.1L243.1 276.1L241.6 275.2L240.2 275.4L238.0 276.9L237.1 277.0L235.6 276.4L233.3 274.1L231.8 273.4L229.6 273.3L225.8 274.6L225.1 274.3L223.8 272.4L222.1 271.7L220.6 271.7L213.8 273.5L210.1 272.4L206.3 273.7L203.3 272.8L202.6 272.9L200.9 274.6L199.6 274.7L198.8 274.6L195.1 271.5L193.6 271.0L191.3 270.7L186.1 270.8L183.1 269.1L181.6 269.0L179.3 269.2L177.1 270.4L175.6 270.3L171.8 268.4L168.1 268.9L166.6 268.7L165.1 267.4L162.8 266.6L162.8 266.4ZM261.4 279.1L262.8 279.1L261.4 279.1Z" fill="#33bda6" fill-rule="evenodd"/>
<path d="M162.8 227.3L162.8 227.1L169.6 227.0L177.8 227.5L192.8 227.7L198.1 228.9L205.6 229.4L209.3 231.1L209.4 232.6L210.9 236.3L208.6 239.5L207.8 239.8L204.8 240.0L202.6 239.1L198.8 239.7L195.1 239.7L191.3 238.5L189.8 238.5L188.9 240.1L186.8 242.3L186.4 243.8L186.4 247.6L185.6 249.1L183.5 251.4L181.9 255.8L178.8 260.4L175.0 263.4L176.3 265.8L177.1 266.3L179.3 266.1L182.3 265.1L186.8 266.1L188.3 267.2L194.3 266.5L198.8 268.1L202.6 267.3L207.1 268.6L210.1 268.3L211.6 269.0L213.1 268.3L213.4 267.1L213.3 264.9L213.8 264.3L214.6 264.1L216.8 264.5L218.3 265.6L219.8 265.9L224.3 266.0L231.8 268.7L234.1 267.5L236.3 267.5L237.8 267.1L238.2 269.4L240.0 270.9L241.6 271.7L245.3 271.8L246.8 272.3L250.6 275.4L252.1 275.7L257.3 274.1L258.8 274.0L261.8 276.4L266.3 275.8L267.8 276.0L270.8 279.1L258.7 279.1L257.3 277.3L256.6 277.0L250.6 278.1L248.3 276.4L240.8 273.3L240.1 273.3L237.8 275.0L237.1 275.1L236.2 274.6L234.8 272.8L233.3 271.8L230.3 271.0L226.6 270.8L223.0 268.6L220.6 267.8L217.6 268.1L216.1 270.2L213.1 271.3L210.1 271.1L207.1 271.6L204.8 270.1L202.6 269.7L198.8 271.6L193.6 268.9L191.3 268.6L186.8 269.4L183.1 267.4L180.1 267.3L176.3 269.1L173.3 266.8L168.8 267.9L167.2 267.9L164.3 265.8L162.8 265.6L162.8 263.1L168.1 262.3L170.3 261.0L172.6 260.4L175.5 256.8L179.3 255.0L182.3 249.9L184.6 247.0L185.0 245.3L184.8 242.4L187.3 239.3L189.1 236.0L191.3 235.1L193.6 235.7L194.7 234.1L197.6 232.6L198.8 232.4L202.9 229.6L198.1 229.2L189.8 227.8L162.8 227.3Z" fill="#98c44e" fill-rule="evenodd"/>
<path d="M168.7 226.6L169.6 226.2L170.2 226.6L176.3 226.7L177.8 227.4L196.6 227.4L198.1 228.1L216.1 229.1L222.1 230.3L227.3 229.3L237.1 229.9L240.1 228.1L243.1 227.5L244.6 228.6L246.0 230.3L245.8 231.9L244.6 233.0L241.6 233.9L239.0 234.1L236.3 235.4L233.3 235.9L230.3 237.1L222.8 236.5L220.6 237.4L219.8 238.6L220.4 242.4L219.5 244.6L222.1 248.3L224.3 246.5L225.1 246.3L227.6 248.3L229.6 252.4L234.8 256.5L235.6 256.2L236.3 255.0L237.8 254.5L239.0 255.1L240.8 257.5L243.8 257.5L246.2 259.6L246.5 262.6L247.8 264.9L248.0 267.1L249.8 268.6L251.3 268.9L252.8 268.6L256.6 270.2L261.8 270.4L264.8 271.5L267.8 270.0L270.8 270.5L274.6 270.1L275.4 270.9L275.9 273.9L276.7 275.4L280.6 275.1L285.0 276.4L285.8 277.6L285.9 279.1L270.8 279.1L267.8 276.0L266.3 275.8L261.8 276.4L258.8 274.0L251.3 275.7L250.4 275.4L246.8 272.3L245.3 271.8L241.6 271.7L240.0 270.9L238.2 269.4L237.8 267.1L236.3 267.5L234.1 267.5L231.8 268.7L224.3 266.0L219.8 265.9L215.3 264.2L213.8 264.3L213.3 264.9L213.3 267.9L212.3 268.9L211.6 269.0L210.1 268.3L207.1 268.6L202.6 267.3L198.8 268.1L194.3 266.5L188.3 267.2L186.8 266.1L182.3 265.1L179.3 266.1L177.1 266.3L176.3 265.8L175.0 263.4L178.8 260.4L181.9 255.8L183.5 251.4L185.6 249.1L186.4 247.6L186.4 243.9L186.8 242.3L188.9 240.1L189.8 238.5L191.3 238.5L195.1 239.7L198.8 239.7L202.6 239.1L204.8 240.0L207.8 239.8L208.6 239.5L210.9 236.3L209.4 232.6L209.3 231.1L205.6 229.4L198.1 228.9L195.1 228.0L192.1 227.7L162.8 227.1L162.8 226.6L168.7 226.6ZM203.3 244.4L201.8 245.3L202.1 247.6L201.8 248.1L199.6 248.0L195.8 249.5L192.6 249.8L188.4 252.8L187.6 253.1L186.7 254.3L186.6 258.1L189.3 259.6L189.8 260.5L190.5 258.9L191.3 258.4L192.8 258.4L195.8 259.2L197.3 259.0L198.6 258.1L199.6 256.4L201.8 255.5L204.1 253.8L206.0 252.8L206.0 252.1L205.0 250.6L208.6 250.1L209.8 249.1L212.4 245.4L210.8 244.6L203.3 244.4Z" fill="#e9b534" fill-rule="evenodd"/>
<path d="M162.8 160.6L295.6 160.6L295.6 279.1L285.9 279.1L285.8 277.6L285.1 276.4L280.6 275.1L276.7 275.4L275.9 273.9L275.4 270.9L274.6 270.1L270.8 270.5L267.8 270.0L264.8 271.5L261.8 270.4L256.6 270.2L252.8 268.6L251.3 268.9L249.8 268.6L248.0 267.1L247.8 264.9L246.5 262.6L246.2 259.6L243.8 257.5L240.8 257.5L239.0 255.1L237.8 254.5L236.3 255.0L235.6 256.2L234.8 256.5L229.6 252.4L227.6 248.3L225.1 246.3L224.3 246.5L222.1 248.3L219.5 244.6L220.4 242.3L219.8 238.6L220.6 237.4L222.8 236.5L230.3 237.1L233.3 235.9L236.3 235.4L239.0 234.1L241.6 233.9L244.6 233.0L245.8 231.9L246.0 230.3L244.6 228.6L243.1 227.5L240.1 228.1L237.1 229.9L227.3 229.3L222.1 230.3L216.1 229.1L198.1 228.1L196.6 227.4L177.8 227.3L177.1 226.8L170.2 226.6L169.6 226.2L168.7 226.6L162.8 226.6L162.8 160.6ZM202.6 244.6L207.8 244.3L210.8 244.6L212.4 245.3L209.8 249.1L208.6 250.1L205.0 250.6L206.0 252.1L206.0 252.8L204.1 253.8L201.8 255.5L199.6 256.4L198.6 258.1L197.3 259.0L195.8 259.2L192.8 258.4L191.3 258.4L190.5 258.9L189.8 260.5L189.3 259.6L186.8 258.3L186.5 257.4L186.7 254.3L187.6 253.1L188.4 252.8L192.6 249.8L195.8 249.5L199.6 248.0L201.8 248.1L202.1 247.6L201.8 245.3L202.6 244.6Z" fill="#f8d12b" fill-rule="evenodd"/>
<path d="M162.8 240.9L165.1 241.1L167.8 243.1L169.2 243.1L171.2 241.6L173.3 237.5L176.3 238.1L179.3 237.4L180.8 230.7L182.3 230.0L185.8 230.3L188.7 228.8L173.3 228.8L171.1 228.6L170.2 228.1L162.8 228.1M192.0 279.1L192.8 276.9L192.1 276.2L190.6 275.9L186.8 274.2L184.6 273.8L183.1 273.1L180.0 273.7L177.8 273.0L174.1 273.1L170.3 270.7L168.8 270.8L167.3 271.5L166.6 271.3L164.5 269.4L162.8 268.9M162.8 242.8L164.3 242.8L167.3 244.5L168.8 244.7L171.1 244.0L174.1 242.0L177.8 241.3L179.3 239.4L181.6 237.8L182.0 237.1L181.4 234.1L181.8 231.8L183.1 231.4L186.1 231.4L191.9 229.6L190.5 228.8L188.3 228.5L162.8 227.9M204.8 279.1L201.1 277.7L193.6 273.2L192.8 273.2L191.3 274.1L189.8 274.2L188.1 273.1L185.3 272.5L182.3 271.0L174.8 272.0L172.6 271.2L170.3 269.8L167.3 270.2L166.6 270.0L164.3 268.4L162.8 268.0M162.8 244.0L164.3 243.9L166.6 245.1L168.8 245.6L171.1 245.2L174.8 243.5L177.8 243.2L178.8 242.3L180.1 240.4L183.4 238.6L183.9 237.1L183.6 234.1L184.0 233.4L186.8 231.8L190.6 230.8L194.0 230.3L195.2 229.6L188.3 228.2L162.8 227.7M162.8 254.8L164.0 252.8L164.1 252.1L162.8 250.8M209.9 279.1L208.9 276.9L207.8 276.1L204.1 276.4L199.6 275.9L193.6 271.9L192.1 272.0L190.5 273.1L189.8 273.1L188.3 272.1L186.1 271.9L182.3 270.1L175.6 271.2L171.1 269.2L166.6 269.2L164.7 267.9L162.8 267.3M219.5 279.1L218.3 278.4L217.9 277.6L218.4 275.4L217.6 274.7L214.6 276.3L212.3 276.9L211.1 279.1M234.3 279.1L234.1 278.1L230.3 275.3L224.3 278.4L222.0 279.1M162.8 247.1L166.6 247.4L168.8 248.3L171.8 247.8L172.7 248.3L173.5 249.8L174.8 250.9L179.3 251.1L180.2 249.8L180.3 248.3L180.1 247.7L178.9 246.8L178.7 246.1L179.3 245.6L180.8 246.3L181.6 246.1L182.0 245.4L181.1 243.8L181.2 243.1L182.3 241.6L185.0 239.3L186.8 235.6L188.9 234.1L190.5 231.8L191.3 231.5L198.1 231.2L199.1 230.3L198.2 229.6L189.1 228.0L162.8 227.6M162.8 261.9L166.6 261.6L168.3 261.1L170.4 259.6L171.2 258.1L171.4 256.6L171.1 254.3L170.1 251.3L170.2 250.6L169.6 249.9L165.1 249.9L164.3 249.4L162.8 249.2M245.9 279.1L243.1 276.1L241.6 275.2L240.2 275.4L238.0 276.9L237.1 277.0L235.6 276.4L233.3 274.1L231.8 273.4L229.6 273.3L225.8 274.6L225.1 274.3L223.8 272.4L222.1 271.7L220.6 271.7L213.8 273.5L210.1 272.4L206.3 273.7L203.3 272.8L202.6 272.9L200.9 274.6L199.6 274.7L198.8 274.6L195.1 271.5L193.6 271.0L191.3 270.7L186.1 270.8L183.1 269.1L181.6 269.0L179.3 269.2L177.1 270.4L175.6 270.3L171.8 268.4L168.1 268.9L166.6 268.7L165.1 267.4L162.8 266.6M162.8 263.1L168.1 262.3L170.3 261.0L172.6 260.4L175.5 256.8L179.3 255.0L182.3 249.9L184.6 247.0L185.0 245.3L184.8 242.4L187.3 239.3L189.1 236.0L191.3 235.1L193.6 235.7L194.7 234.1L197.6 232.6L198.8 232.4L202.9 229.6L198.1 229.2L189.8 227.8L162.8 227.4M258.7 279.1L257.3 277.3L256.6 277.0L250.6 278.1L248.3 276.4L240.8 273.3L240.1 273.3L237.8 275.0L237.1 275.1L236.2 274.6L234.8 272.8L233.3 271.8L230.3 271.0L226.6 270.8L223.0 268.6L220.6 267.8L217.6 268.1L216.1 270.2L213.1 271.3L210.1 271.1L207.1 271.6L204.8 270.1L202.6 269.7L198.8 271.6L198.1 271.5L195.1 269.4L192.8 268.7L191.3 268.6L186.8 269.4L183.1 267.4L180.1 267.3L176.3 269.1L173.3 266.8L168.8 267.9L167.3 267.9L164.3 265.8L162.8 265.6M262.8 279.1L261.4 279.1M270.8 279.1L267.8 276.0L266.3 275.8L261.8 276.4L258.8 274.0L257.3 274.1L252.1 275.7L250.6 275.4L246.8 272.3L245.3 271.8L241.6 271.7L240.0 270.9L238.2 269.4L237.8 267.1L236.3 267.5L234.1 267.5L231.8 268.7L224.3 266.0L219.8 265.9L218.3 265.6L216.8 264.5L214.6 264.1L213.8 264.3L213.3 264.9L213.4 267.1L213.1 268.3L211.6 269.0L210.1 268.3L207.1 268.6L202.6 267.3L198.8 268.1L194.3 266.5L188.3 267.2L186.8 266.1L182.3 265.1L179.3 266.1L177.1 266.3L176.3 265.8L175.0 263.4L178.8 260.4L181.9 255.8L183.5 251.4L185.6 249.1L186.4 247.6L186.4 243.9L186.8 242.3L188.9 240.1L189.8 238.5L191.3 238.5L195.1 239.7L198.8 239.7L202.6 239.1L204.8 240.0L207.8 239.8L208.6 239.5L210.9 236.3L209.4 232.6L209.3 231.1L205.6 229.4L198.1 228.9L192.8 227.7L162.8 227.1M202.6 244.6L207.8 244.3L210.8 244.6L212.4 245.3L209.8 249.1L208.6 250.1L205.0 250.6L206.0 252.1L206.0 252.8L204.1 253.8L201.8 255.5L199.6 256.4L198.6 258.1L197.3 259.0L195.8 259.2L192.8 258.4L191.3 258.4L190.5 258.9L189.8 260.5L189.3 259.6L186.8 258.3L186.5 257.4L186.7 254.3L187.6 253.1L188.4 252.8L192.6 249.8L195.8 249.5L199.6 248.0L201.8 248.1L202.1 247.6L201.8 245.3L202.6 244.6M285.9 279.1L285.8 277.6L285.1 276.4L280.6 275.1L276.7 275.4L275.9 273.9L275.4 270.9L274.6 270.1L270.8 270.5L267.8 270.0L264.8 271.5L261.8 270.4L256.6 270.2L252.8 268.6L251.3 268.9L249.8 268.6L248.0 267.1L247.8 264.9L246.5 262.6L246.2 259.6L243.8 257.5L240.8 257.5L239.0 255.1L237.8 254.5L236.3 255.0L235.6 256.2L234.8 256.5L229.6 252.4L227.6 248.3L225.1 246.3L224.3 246.5L222.1 248.3L219.5 244.6L220.4 242.3L219.8 238.6L220.6 237.4L222.8 236.5L230.3 237.1L233.3 235.9L236.3 235.4L239.0 234.1L241.6 233.9L244.6 233.0L245.8 231.9L246.0 230.3L244.6 228.6L243.1 227.5L240.1 228.1L237.1 229.9L227.3 229.3L222.1 230.3L216.1 229.1L198.1 228.1L196.6 227.4L177.8 227.3L177.1 226.8L170.2 226.6L169.6 226.2L168.7 226.6L162.8 226.6" fill="none" stroke="#1a1a1a" stroke-width="0.7" stroke-opacity="0.95" stroke-linejoin="round"/>
<ellipse cx="274.7" cy="240" rx="2" ry="1.3" transform="rotate(-30 274.7 240)" fill="#f3c630" stroke="#333" stroke-width="0.4"/>
<path d="M166.5 203.2 L168 202.6 L169 203.4 M172 203.2 L172.6 202.8 M175 203.4 L177.5 202.7 L179 203.3 M181.5 203.5 L182.5 203.2 M188.5 203.6 L190 202.7 L191.5 203.2 M193.5 203 L195 202.8 M217.5 203.4 L219.5 202.6 L222 202.7 L224.5 203.4 M205.5 209 L206.5 209.4 M207 209.6 L208.5 209.8 M173 213.4 L174.5 213.5 M195.5 216.8 L195.5 219 M221.2 208.5 L221.2 209.8 M221.2 212.8 L221.2 214.4 M201.4 224 L201.8 225" fill="none" stroke="#333" stroke-width="0.5" stroke-opacity="0.7"/>
<rect x="168.2" y="188.1" width="10.2" height="11.5" rx="1.8" fill="#3d2ba6" stroke="#111" stroke-width="0.8"/>
<rect x="192.7" y="188.1" width="9.2" height="11.5" rx="1.8" fill="#3d2ba6" stroke="#111" stroke-width="0.8"/>
<rect x="217.3" y="188.1" width="10.2" height="11.5" rx="1.8" fill="#3d2ba6" stroke="#111" stroke-width="0.8"/></g></g>
<g><clipPath id="cb3"><path d="M201.2 305 L295.9 305 L295.9 424.6 L163.6 424.6 L163.6 347.5 Z"/></clipPath><g clip-path="url(#cb3)"><path d="M178.3 384.5L180.1 383.8L183.8 385.8L185.3 386.2L187.6 384.7L188.3 384.7L190.9 388.2L190.4 391.2L190.7 392.0L194.4 393.5L193.6 396.5L195.3 400.2L195.7 403.2L195.2 404.8L192.8 408.5L192.1 408.8L188.3 408.6L186.1 409.6L185.1 407.8L184.8 406.2L185.2 401.0L184.6 399.7L183.0 398.0L180.8 397.5L177.8 397.7L176.6 396.5L175.8 392.8L175.7 389.0L176.6 386.8L178.3 384.5ZM201.6 413.0L202.6 413.3L204.4 416.0L205.6 417.0L210.1 416.1L215.3 416.5L216.4 416.0L218.3 413.0L219.1 412.3L220.6 412.9L222.1 414.5L225.9 413.9L226.6 414.3L228.1 416.8L229.6 417.8L231.8 418.6L236.3 417.2L237.7 417.5L237.2 419.0L236.3 419.3L232.6 422.4L228.9 420.0L225.8 419.9L223.6 421.3L221.3 421.9L218.9 421.2L216.9 420.0L210.8 418.3L208.6 418.4L206.7 420.5L205.6 420.9L204.0 420.5L200.4 418.0L198.1 417.9L196.6 418.8L195.1 420.3L194.3 420.3L192.5 419.0L192.2 418.2L192.7 417.5L195.8 417.1L199.6 415.4L200.7 414.5L201.6 413.0ZM256.3 414.5L256.6 414.2L256.9 416.0L256.1 417.5L255.1 418.1L254.5 417.5L256.3 414.5Z" fill="#3c55f0" fill-rule="evenodd"/>
<path d="M201.6 380.0L202.7 380.0L203.3 381.5L204.8 383.0L204.9 383.8L204.2 386.8L204.1 391.8L202.8 396.5L202.7 398.0L203.3 399.5L202.7 400.2L200.3 401.2L198.8 402.4L197.8 405.5L195.1 407.9L193.5 410.0L193.6 411.9L192.8 412.7L191.3 412.3L189.8 410.0L188.3 409.9L186.1 411.1L184.6 410.1L183.9 409.3L182.9 404.8L182.8 402.5L182.3 401.8L178.3 400.2L175.5 398.0L172.9 395.0L170.3 391.0L163.6 390.0L163.6 382.2L172.4 381.5L177.1 383.2L180.8 382.7L184.6 384.9L185.8 384.5L188.3 382.2L199.6 382.0L201.1 381.1L201.6 380.0ZM178.6 384.2L176.6 386.8L175.7 389.0L175.8 392.8L176.6 396.5L177.8 397.7L180.8 397.5L183.0 398.0L184.6 399.7L185.2 401.0L184.8 406.2L185.1 407.8L186.1 409.6L188.4 408.6L192.1 408.8L192.8 408.5L195.2 404.8L195.7 403.2L195.3 400.2L193.6 396.5L194.4 393.5L190.7 392.0L190.4 391.2L190.9 388.2L188.3 384.7L187.6 384.7L185.3 386.2L183.8 385.8L180.1 383.8L178.6 384.2ZM218.7 411.5L220.6 411.2L222.8 413.0L223.6 413.1L226.6 411.1L228.1 411.0L228.9 411.5L228.5 413.0L228.9 414.5L231.1 417.1L232.6 417.5L237.1 415.6L238.6 415.6L241.5 416.8L243.3 419.0L244.6 419.7L246.8 419.4L247.3 419.8L246.1 421.8L245.3 422.1L243.2 422.0L237.8 420.5L236.4 420.6L232.6 424.0L231.8 423.7L229.6 421.5L227.3 420.7L225.7 421.2L222.9 423.0L222.1 423.0L219.8 422.5L213.1 419.7L210.1 418.9L209.2 419.0L206.3 421.8L205.6 421.9L204.1 421.5L199.6 418.9L198.5 419.0L197.4 419.8L195.8 422.3L192.8 421.5L191.3 421.9L190.3 421.2L190.9 419.0L190.8 418.2L190.1 417.5L190.3 416.8L195.0 415.2L196.6 411.9L198.8 412.4L201.8 412.2L203.3 412.4L205.6 415.1L206.3 415.4L208.6 415.3L210.1 414.8L214.6 415.5L215.2 415.2L216.8 412.2L218.7 411.5ZM201.8 413.0L199.6 415.4L195.8 417.1L192.7 417.5L192.2 418.2L192.5 419.0L194.3 420.3L195.1 420.3L196.6 418.8L198.1 417.9L200.3 418.0L204.0 420.5L205.6 420.9L206.7 420.5L208.6 418.4L210.8 418.3L216.9 420.0L218.9 421.2L221.3 421.9L223.6 421.3L225.8 419.9L228.9 420.0L232.6 422.4L236.3 419.3L237.2 419.0L237.7 417.5L236.3 417.2L231.8 418.6L229.6 417.8L228.1 416.8L226.6 414.3L225.9 413.9L222.1 414.5L220.6 412.9L219.1 412.3L218.3 413.0L216.4 416.0L215.4 416.5L210.1 416.1L205.6 417.0L204.4 416.0L202.6 413.3L201.8 413.0ZM256.4 411.5L258.1 411.4L260.1 413.0L261.9 416.0L261.9 417.2L261.1 417.4L258.9 416.8L257.4 417.0L255.1 419.1L253.6 419.4L250.6 418.8L248.3 418.8L248.9 416.0L248.0 413.8L249.8 413.7L251.3 414.7L252.9 414.7L254.3 413.8L256.4 411.5ZM256.6 414.2L255.8 414.9L254.5 417.5L255.1 418.1L256.6 416.8L256.9 416.0L256.6 414.2ZM185.8 419.0L187.6 418.7L188.3 419.0L187.9 420.5L188.2 422.0L190.4 423.5L192.2 424.2L184.1 424.2L184.2 421.2L184.9 419.8L185.8 419.0Z" fill="#2589e6" fill-rule="evenodd"/>
<path d="M224.7 356.0L227.4 355.9L230.3 357.2L233.9 357.5L234.2 358.2L234.7 363.5L234.4 365.8L232.1 368.8L231.7 371.0L231.2 371.8L227.3 373.5L226.6 376.4L225.3 374.0L222.8 372.3L222.4 371.0L224.3 368.4L224.7 367.2L223.9 364.2L224.5 361.2L224.1 356.8L224.7 356.0ZM199.8 379.2L206.3 379.2L210.1 379.8L213.9 379.8L215.3 382.3L215.7 383.8L215.7 384.5L214.6 385.7L212.2 386.8L210.1 388.6L207.1 389.8L204.3 395.8L204.4 397.2L205.3 398.8L205.2 400.2L204.1 401.8L201.1 403.1L200.1 404.0L200.7 407.0L200.5 407.8L198.1 408.5L197.4 409.2L198.3 410.0L201.8 410.6L206.3 410.0L209.3 412.1L211.6 412.5L213.8 412.1L219.1 410.0L223.6 411.1L225.8 409.3L228.8 409.3L230.8 410.0L231.8 413.0L233.3 414.4L234.1 414.5L236.3 412.3L237.1 412.3L239.6 414.5L241.6 415.2L243.1 415.0L245.4 412.8L246.8 412.2L249.1 412.5L251.3 413.4L252.8 413.2L254.2 412.2L255.8 410.3L257.4 410.1L259.6 411.3L261.5 413.0L263.6 416.0L263.8 417.5L261.9 418.2L258.1 417.3L257.4 417.5L255.1 419.7L253.6 420.3L249.8 420.4L248.6 422.0L248.5 424.2L192.2 424.2L190.4 423.5L188.2 422.0L187.9 420.5L188.3 419.0L187.6 418.7L186.1 418.9L184.6 420.2L184.2 421.2L184.1 424.2L163.6 424.2L163.6 420.9L172.6 422.6L174.1 422.5L178.6 420.6L181.6 420.9L182.3 420.4L184.9 416.8L184.9 415.3L185.3 414.3L186.8 414.3L188.3 415.4L190.7 415.2L188.7 414.5L187.1 413.0L185.3 412.6L182.5 409.2L182.1 407.0L180.1 403.2L179.3 402.6L176.3 401.9L175.1 399.5L171.8 397.2L169.8 393.5L165.1 391.3L163.6 391.1L163.6 390.0L170.3 391.0L172.9 395.0L175.5 398.0L178.3 400.2L182.3 401.8L182.8 402.5L182.9 404.8L183.9 409.2L184.6 410.1L186.1 411.1L188.3 409.9L189.8 410.0L191.3 412.3L192.8 412.7L193.6 411.9L193.5 410.0L195.1 407.9L197.8 405.5L198.8 402.4L200.4 401.2L202.7 400.2L203.3 399.5L202.7 398.0L202.8 396.5L204.1 391.8L204.2 386.8L204.9 383.8L204.8 383.0L203.3 381.5L202.7 380.0L201.8 379.9L200.7 381.5L199.6 382.0L188.4 382.2L185.8 384.5L184.6 384.9L180.8 382.7L177.1 383.2L171.8 381.5L163.6 382.2L163.6 381.3L172.6 380.7L177.8 382.1L183.1 381.4L183.8 382.2L183.3 383.0L183.7 383.8L184.6 384.1L185.4 383.8L185.8 382.2L186.8 381.6L194.9 380.8L199.8 379.2ZM219.1 411.2L216.8 412.2L215.2 415.2L214.6 415.5L210.1 414.8L208.6 415.3L206.3 415.4L205.6 415.1L203.3 412.4L201.8 412.2L198.8 412.4L196.6 411.9L195.0 415.2L190.3 416.8L190.1 417.5L190.8 418.2L190.9 419.0L190.3 421.2L191.3 421.9L192.9 421.5L195.8 422.3L197.4 419.8L198.5 419.0L199.6 418.9L204.1 421.5L205.6 421.9L206.3 421.8L209.2 419.0L210.1 418.9L213.1 419.7L219.8 422.5L222.1 423.0L222.8 423.0L225.7 421.2L227.3 420.7L229.6 421.5L231.8 423.7L232.6 424.0L236.4 420.6L237.8 420.5L243.2 422.0L245.3 422.1L246.1 421.8L247.3 419.8L246.8 419.4L244.6 419.7L243.3 419.0L241.5 416.8L238.6 415.6L237.1 415.6L232.6 417.5L231.1 417.1L228.9 414.5L228.5 413.0L228.9 411.5L228.1 411.0L226.6 411.1L223.6 413.1L222.8 413.0L220.6 411.2L219.1 411.2ZM256.6 411.4L254.3 413.8L252.9 414.7L251.3 414.7L249.8 413.7L248.0 413.8L248.9 416.0L248.3 418.8L250.6 418.8L253.6 419.4L255.1 419.1L257.4 417.0L258.9 416.8L261.1 417.4L261.9 417.2L261.9 416.0L260.1 413.0L258.1 411.4L256.6 411.4Z" fill="#14aad4" fill-rule="evenodd"/>
<path d="M229.3 317.0L234.8 316.4L236.0 317.8L236.3 319.2L234.2 322.2L230.3 322.5L228.1 323.3L226.7 324.5L225.8 326.3L225.1 326.8L224.4 325.7L221.9 323.8L221.8 323.0L222.4 321.5L223.3 320.0L225.8 318.1L229.3 317.0ZM225.5 331.2L226.7 331.2L227.8 334.2L226.6 340.5L222.8 338.0L222.4 337.2L222.5 336.5L224.1 335.0L225.5 331.2ZM224.8 347.8L225.8 347.6L229.1 350.8L230.3 350.8L233.3 349.9L234.8 350.1L237.1 353.8L237.5 355.2L236.1 359.8L236.5 362.0L236.4 364.2L237.6 367.2L237.5 368.0L236.2 370.2L236.4 373.5L234.3 375.5L233.4 377.5L231.8 379.0L225.8 381.1L223.3 379.2L222.1 377.8L222.4 375.5L221.3 373.7L220.8 371.8L221.1 368.0L218.9 366.5L218.3 365.0L219.1 362.2L221.1 360.5L221.2 359.8L219.9 357.5L221.2 352.2L221.3 351.9L223.6 351.8L224.3 351.3L224.8 347.8ZM225.1 355.9L224.3 356.3L224.1 357.5L224.5 361.2L223.9 364.2L224.6 366.5L224.6 368.0L222.4 371.0L222.8 372.3L225.3 374.0L226.6 376.4L227.3 373.5L231.1 371.8L231.7 371.0L232.1 368.8L234.4 365.8L234.6 362.0L234.1 357.6L230.3 357.2L227.4 355.9L225.1 355.9ZM195.2 379.2L213.8 379.1L215.7 379.2L216.3 380.0L216.6 383.8L213.7 389.8L213.1 392.8L211.6 394.2L209.4 395.0L207.1 393.9L206.3 394.1L205.5 395.8L205.7 396.5L206.3 397.0L207.8 397.2L208.5 398.0L208.1 399.5L206.5 401.0L205.9 402.5L206.6 404.8L206.8 407.0L211.3 410.0L212.7 410.0L214.6 408.6L216.8 409.9L219.1 409.1L222.8 410.0L223.6 409.9L225.1 408.4L232.6 408.7L235.6 409.8L238.6 410.0L240.8 413.0L241.6 413.4L245.3 410.8L249.1 409.6L250.6 408.4L253.6 408.9L255.8 408.3L258.1 407.2L258.9 407.3L262.0 412.2L264.8 414.5L265.3 415.2L265.3 417.5L263.7 419.8L263.8 420.5L265.9 422.0L270.1 423.4L270.1 424.2L261.2 424.2L261.5 421.2L260.4 420.1L258.9 419.8L258.1 420.0L257.4 421.8L255.8 421.6L254.4 422.0L254.0 422.8L254.7 424.2L248.5 424.2L248.6 422.0L249.8 420.4L253.6 420.3L255.1 419.7L257.4 417.5L258.1 417.3L261.9 418.2L263.8 417.5L263.6 416.0L262.1 413.8L258.1 410.3L255.8 410.3L253.6 412.8L252.1 413.4L246.8 412.2L245.4 412.8L243.1 415.0L241.6 415.2L239.6 414.5L237.1 412.3L236.3 412.3L234.1 414.5L233.3 414.4L231.8 413.0L230.8 410.0L228.8 409.3L225.8 409.3L223.6 411.1L219.1 410.0L213.9 412.1L211.6 412.5L209.3 412.1L206.3 410.0L201.8 410.6L198.3 410.0L197.4 409.2L198.1 408.5L200.5 407.8L200.7 407.0L200.1 404.0L201.1 403.1L204.1 401.8L205.2 400.2L205.3 398.8L204.4 397.2L204.3 395.8L207.1 389.8L210.1 388.6L212.2 386.8L214.6 385.7L215.7 384.5L215.7 383.0L213.8 379.8L210.1 379.8L206.3 379.2L199.8 379.2L194.9 380.8L186.8 381.6L185.8 382.2L185.4 383.8L184.6 384.1L183.7 383.8L183.3 383.0L183.8 382.2L183.1 381.4L177.8 382.1L172.6 380.7L163.6 381.3L163.6 379.6L193.6 379.6L195.2 379.2ZM200.3 410.0L202.0 410.0L201.8 409.3L200.3 410.0ZM202.6 409.1L201.9 409.2L204.3 409.2L204.1 408.6L202.6 409.1ZM163.6 391.2L165.1 391.3L169.8 393.5L171.8 397.2L175.1 399.5L176.1 401.8L179.3 402.6L180.1 403.2L182.1 407.0L182.5 409.2L185.0 412.2L187.1 413.0L189.1 414.7L190.7 415.2L188.3 415.4L186.8 414.3L185.3 414.3L184.9 415.2L184.9 416.8L182.3 420.4L181.6 420.9L178.6 420.6L174.1 422.5L172.6 422.6L163.6 420.9L163.6 418.8L166.6 419.9L173.3 420.6L176.0 418.2L181.6 416.1L183.2 413.0L180.1 407.0L177.8 405.4L175.0 404.8L173.3 401.3L170.6 399.5L168.8 394.9L165.8 393.1L163.6 392.8L163.6 391.2Z" fill="#33bda6" fill-rule="evenodd"/>
<path d="M242.1 309.5L243.1 309.0L244.7 309.5L245.6 310.2L245.8 311.0L243.1 314.8L243.3 316.2L242.8 317.8L238.6 320.0L235.6 324.5L234.8 324.9L231.8 324.3L229.6 325.2L229.1 326.0L228.4 329.0L229.0 330.5L229.9 335.0L229.4 340.2L228.3 343.2L228.7 345.5L229.6 346.9L230.4 347.3L233.3 346.6L234.8 346.9L239.3 350.7L239.6 356.0L238.7 359.8L239.4 361.2L241.6 364.0L242.2 365.8L241.3 370.2L240.2 372.5L239.0 377.0L238.7 381.5L237.1 383.7L237.0 385.2L238.2 387.5L238.0 388.2L236.9 389.0L232.6 389.8L229.6 390.1L225.8 389.7L223.6 390.8L222.1 390.6L220.6 389.6L218.3 389.7L216.9 389.1L216.1 389.3L214.5 395.0L212.4 397.6L210.1 398.9L208.1 401.8L208.1 402.5L209.3 404.1L210.8 402.9L213.1 402.8L215.4 404.8L217.0 408.5L217.6 408.9L218.4 407.5L219.5 408.5L222.1 409.2L225.1 407.4L227.3 407.9L236.3 408.0L240.1 407.2L243.1 407.2L245.3 407.7L246.8 407.0L249.0 403.2L251.4 402.0L253.3 402.5L254.4 404.8L255.1 405.3L258.9 404.2L261.1 404.4L266.6 407.0L267.5 407.8L269.9 414.5L276.1 418.9L278.6 421.2L279.1 422.0L279.5 424.2L270.1 424.2L270.2 423.5L269.4 423.0L266.4 422.2L264.6 421.2L263.8 420.5L263.7 419.8L265.3 417.5L265.3 415.2L264.8 414.5L262.0 412.2L258.9 407.3L258.1 407.2L255.8 408.3L253.6 408.9L250.6 408.4L249.1 409.6L245.3 410.8L241.6 413.4L240.8 413.0L238.6 410.0L235.6 409.8L232.6 408.7L225.1 408.4L223.6 409.9L222.8 410.0L219.1 409.1L216.8 409.9L214.6 408.6L212.7 410.0L211.6 410.1L207.1 407.4L205.9 402.5L206.5 401.0L208.1 399.5L208.5 398.0L207.8 397.2L206.3 397.0L205.7 396.5L205.7 395.0L206.3 394.1L207.1 393.9L209.3 395.0L210.8 394.6L213.1 392.8L213.7 389.8L216.6 383.8L216.3 380.0L215.7 379.2L201.8 378.9L193.6 379.6L163.6 379.6L163.6 378.9L213.8 378.8L217.4 378.5L216.1 375.5L216.1 374.8L218.9 372.5L219.2 371.0L218.9 369.5L217.6 368.0L216.7 365.8L217.3 353.0L215.5 350.0L216.7 347.0L216.7 344.0L215.7 337.2L216.4 334.2L216.0 331.2L217.1 326.8L215.3 325.0L212.3 326.3L207.8 326.4L206.8 325.2L206.7 323.0L210.1 319.7L213.1 318.4L214.6 317.0L216.9 315.8L217.4 314.8L217.6 312.0L218.3 311.4L221.3 312.2L222.5 311.8L223.6 310.5L224.4 310.3L226.6 311.8L228.8 312.0L231.1 312.7L232.6 312.7L234.9 312.0L236.3 313.2L237.1 313.4L239.4 312.5L240.3 310.2L242.1 309.5ZM229.6 316.9L225.8 318.1L223.3 320.0L222.4 321.5L221.8 323.0L221.9 323.8L224.3 325.7L225.1 326.8L225.8 326.3L226.7 324.5L228.1 323.3L230.3 322.5L234.2 322.2L236.3 319.2L236.0 317.8L234.8 316.4L229.6 316.9ZM225.8 331.0L225.0 332.0L224.1 335.0L222.5 336.5L222.4 337.2L222.8 338.0L226.6 340.5L227.8 334.2L226.7 331.2L225.8 331.0ZM225.1 347.5L224.6 348.5L224.3 351.3L223.6 351.8L221.4 351.9L221.2 352.2L219.9 357.5L221.2 359.8L221.1 360.5L219.1 362.2L218.3 365.0L218.9 366.5L221.1 368.0L220.8 371.8L221.3 373.7L222.4 375.5L222.1 377.8L223.3 379.2L225.8 381.1L231.8 379.0L233.4 377.5L234.3 375.5L236.4 373.5L236.2 370.2L237.5 368.0L237.6 367.2L236.4 364.2L236.5 362.0L236.1 359.8L237.5 355.2L237.1 353.8L234.8 350.1L233.3 349.9L230.3 350.8L229.1 350.8L225.9 347.6L225.1 347.5ZM163.6 393.5L163.6 392.8L165.1 392.8L168.2 394.2L169.6 396.4L170.6 399.5L173.3 401.3L175.0 404.8L177.8 405.4L180.1 407.0L183.2 413.0L181.6 416.1L176.0 418.2L173.3 420.6L166.6 419.9L163.6 418.8L163.6 417.1L165.0 418.2L166.6 418.5L167.7 418.2L168.8 416.4L170.3 416.4L173.3 417.5L175.6 416.5L177.8 416.1L179.2 414.5L180.5 411.5L180.1 409.9L178.4 409.2L178.7 407.8L177.8 406.9L172.6 407.4L168.8 407.0L166.9 405.5L166.6 404.8L167.3 403.8L168.8 403.4L171.9 404.1L172.6 404.0L172.8 403.2L171.8 402.0L168.8 400.6L166.1 398.0L165.4 396.5L164.9 394.2L163.6 393.9L163.6 393.5ZM201.9 409.2L204.1 408.6L204.3 409.2L201.9 409.2ZM200.3 410.0L201.8 409.3L202.0 410.0L200.3 410.0ZM257.8 420.5L258.9 419.8L261.1 420.7L261.5 421.2L261.2 424.2L254.7 424.2L254.0 422.8L254.4 422.0L255.8 421.6L257.4 421.8L257.8 420.5Z" fill="#98c44e" fill-rule="evenodd"/>
<path d="M239.3 306.5L241.6 306.5L245.3 308.3L249.1 307.1L250.6 307.1L252.0 308.0L252.3 308.8L252.1 309.4L250.6 308.8L249.8 309.2L249.5 310.2L246.8 312.9L246.7 314.0L247.6 315.5L247.4 316.2L245.3 317.6L243.8 319.7L241.5 320.0L240.8 320.7L240.7 322.2L242.0 326.8L241.9 327.5L240.1 327.7L237.1 326.8L234.0 327.5L234.2 332.0L232.6 333.6L232.0 335.8L232.9 339.5L232.5 344.0L235.2 344.0L235.2 342.5L235.6 341.8L237.0 341.8L237.5 342.5L236.8 344.0L242.2 349.2L243.4 351.5L242.4 354.5L242.7 357.5L241.6 359.8L244.6 363.3L246.7 365.0L247.0 365.8L246.3 368.0L245.1 370.2L245.6 372.5L248.5 376.2L248.6 380.8L248.0 383.0L248.7 386.0L250.6 388.5L252.4 389.0L257.1 394.2L257.3 395.0L256.6 397.2L257.4 398.6L259.6 398.7L262.6 397.3L264.9 397.6L266.5 398.8L266.4 401.8L267.1 402.1L269.4 402.3L272.4 401.6L273.7 401.8L273.7 405.5L275.6 407.0L276.5 409.2L279.1 410.0L282.7 413.0L285.1 413.4L285.9 414.0L286.5 416.8L285.3 422.0L288.9 422.6L289.9 424.2L279.5 424.2L279.1 422.0L278.6 421.2L276.1 418.9L269.9 414.5L268.3 409.2L267.1 407.4L260.4 404.2L258.1 404.3L255.1 405.3L254.4 404.8L253.3 402.5L252.1 402.0L250.6 402.2L249.0 403.2L246.8 407.0L245.3 407.7L243.1 407.2L240.1 407.2L236.3 408.0L227.3 407.9L225.1 407.4L222.1 409.2L219.5 408.5L218.4 407.5L217.6 408.9L217.0 408.5L215.4 404.8L213.1 402.8L210.9 402.9L209.3 404.1L208.1 402.5L208.1 401.8L210.1 398.9L212.3 397.6L214.5 395.0L216.1 389.3L216.9 389.1L218.3 389.7L220.6 389.6L222.1 390.6L223.6 390.8L225.8 389.7L229.6 390.1L232.6 389.8L236.9 389.0L238.0 388.2L238.2 387.5L237.0 385.2L237.1 383.8L238.7 381.5L239.0 377.0L240.2 372.5L241.3 370.2L242.2 365.8L241.6 364.0L239.4 361.2L238.7 359.8L239.6 356.0L239.3 350.7L234.9 346.9L233.3 346.6L230.3 347.3L229.6 346.9L228.7 345.5L228.3 343.2L229.4 340.2L229.9 335.0L229.0 330.5L228.4 329.0L229.1 326.0L229.6 325.2L231.8 324.3L234.8 324.9L235.6 324.5L238.6 320.0L242.8 317.8L243.3 316.2L243.1 314.8L245.8 311.0L245.6 310.2L244.7 309.5L243.1 309.0L241.6 310.0L240.8 309.9L240.1 310.7L239.4 312.5L237.1 313.4L236.3 313.2L234.9 312.0L232.6 312.7L231.1 312.7L228.8 312.0L226.6 311.8L224.3 310.3L223.6 310.5L222.5 311.8L221.3 312.2L218.3 311.4L217.6 312.0L217.4 314.8L216.9 315.8L214.6 317.0L213.1 318.4L210.1 319.7L206.7 323.0L206.8 325.2L207.8 326.4L212.4 326.3L215.3 325.0L217.1 326.8L216.0 331.2L216.4 334.2L215.7 337.2L216.7 344.0L216.7 347.0L215.5 350.0L217.3 353.0L216.7 365.8L217.6 368.0L218.9 369.5L219.2 371.0L218.9 372.5L216.1 374.8L216.1 375.5L217.4 378.5L213.8 378.8L163.6 378.9L163.6 378.5L214.1 378.5L213.6 374.0L215.4 371.0L215.7 367.2L215.3 365.7L212.6 362.0L212.6 360.5L213.9 358.2L213.9 357.5L211.3 354.5L211.4 351.5L211.0 350.8L206.4 349.7L205.6 349.2L204.1 346.6L202.8 345.5L200.2 344.8L198.4 341.8L196.3 340.2L195.1 340.2L192.8 341.4L189.8 341.9L186.8 339.7L184.6 339.9L183.8 339.6L182.3 338.0L181.2 335.8L184.5 333.5L185.8 329.0L188.3 328.0L191.3 328.2L195.0 326.8L196.7 324.5L198.6 320.0L198.8 317.0L199.6 316.2L201.9 316.0L204.1 314.8L204.5 314.0L204.1 311.0L205.5 308.8L206.4 308.2L210.9 308.8L213.8 309.9L215.9 308.0L216.9 307.7L221.4 308.3L225.1 307.3L228.1 308.2L230.3 307.0L234.8 307.8L239.3 306.5ZM218.3 396.3L217.6 396.7L216.8 398.0L216.4 400.2L217.2 403.2L218.1 404.8L221.4 406.5L222.1 406.6L226.9 405.5L229.0 404.0L230.1 401.8L229.1 398.8L228.1 398.5L225.8 396.8L224.3 396.9L221.3 398.1L219.3 396.5L218.3 396.3ZM163.6 394.2L163.6 393.9L164.9 394.2L165.4 396.5L166.1 398.0L168.8 400.6L171.8 402.0L172.8 403.2L172.6 404.0L171.9 404.1L168.8 403.4L167.3 403.8L166.6 405.0L168.1 406.7L172.6 407.4L177.8 406.9L178.7 407.8L178.4 409.2L180.1 409.9L180.5 411.5L179.2 414.5L177.8 416.1L175.6 416.5L173.3 417.5L170.3 416.4L168.8 416.4L167.7 418.2L166.6 418.5L165.0 418.2L163.6 417.1L163.6 394.2Z" fill="#e9b534" fill-rule="evenodd"/>
<path d="M163.6 305.0L295.6 305.0L295.6 424.2L289.9 424.2L288.9 422.6L285.3 422.0L286.5 416.8L285.9 414.0L285.1 413.4L282.7 413.0L279.1 410.0L276.5 409.2L275.6 407.0L273.7 405.5L273.7 401.8L272.4 401.6L269.4 402.3L267.1 402.1L266.4 401.8L266.5 398.8L264.9 397.6L261.9 397.4L260.4 398.4L258.9 398.8L257.4 398.6L256.8 398.0L256.8 396.5L257.3 395.0L257.1 394.2L252.4 389.0L250.6 388.5L248.4 385.2L248.0 383.0L248.6 380.8L248.5 376.2L245.6 372.5L245.1 370.2L246.3 368.0L247.0 365.8L246.7 365.0L244.6 363.3L241.6 359.8L242.8 356.8L242.4 354.5L243.4 352.2L243.2 350.8L242.2 349.2L236.8 344.0L237.5 342.5L237.0 341.8L235.6 341.8L235.2 342.5L235.2 344.0L232.5 344.0L232.9 339.5L232.0 335.0L232.6 333.6L234.2 332.0L234.0 327.5L237.1 326.8L240.1 327.7L241.9 327.5L242.0 326.8L240.7 322.2L240.8 320.8L241.5 320.0L243.8 319.7L245.3 317.6L247.4 316.2L247.6 315.5L246.7 314.0L246.8 312.9L249.5 310.2L249.8 309.2L250.6 308.8L252.1 309.4L252.0 308.0L249.8 307.0L245.3 308.3L241.6 306.5L240.1 306.4L234.8 307.8L230.3 307.0L228.1 308.2L225.1 307.3L221.4 308.3L216.9 307.7L215.9 308.0L213.8 309.9L210.9 308.8L206.4 308.2L205.5 308.8L204.1 311.0L204.5 314.0L204.1 314.8L201.8 316.0L199.6 316.2L198.8 317.0L198.6 320.0L196.7 324.5L195.0 326.8L191.3 328.2L188.3 328.0L185.8 329.0L184.5 333.5L181.2 335.8L182.3 338.0L183.8 339.6L184.6 339.9L186.9 339.7L189.8 341.9L192.8 341.4L195.1 340.2L196.3 340.2L198.4 341.8L200.2 344.8L202.8 345.5L204.1 346.6L205.6 349.2L206.4 349.7L211.0 350.8L211.4 351.5L211.3 354.5L213.9 357.5L213.9 358.2L212.6 360.5L212.6 362.0L215.3 365.7L215.7 367.2L215.4 371.0L213.6 374.0L214.1 378.5L163.6 378.5L163.6 305.0ZM217.9 396.5L219.1 396.4L221.3 398.1L224.3 396.9L225.8 396.8L228.1 398.5L228.8 398.6L229.5 399.5L230.1 401.8L229.0 404.0L226.9 405.5L222.1 406.6L221.3 406.5L218.1 404.8L217.2 403.2L216.4 400.2L216.8 398.0L217.9 396.5Z" fill="#f8d12b" fill-rule="evenodd"/>
<path d="M178.6 384.2L176.6 386.8L175.7 389.0L175.8 392.8L176.6 396.5L177.8 397.7L180.8 397.5L183.0 398.0L184.6 399.7L185.2 401.0L184.8 406.2L185.1 407.8L186.1 409.6L188.4 408.6L192.1 408.8L192.8 408.5L195.2 404.8L195.7 403.2L195.3 400.2L193.6 396.5L194.4 393.5L190.7 392.0L190.4 391.2L190.9 388.2L188.3 384.7L187.6 384.7L185.3 386.2L183.8 385.8L180.1 383.8L178.6 384.2M201.8 413.0L199.6 415.4L195.8 417.1L192.7 417.5L192.2 418.2L192.5 419.0L194.3 420.3L195.1 420.3L196.6 418.8L198.1 417.9L200.3 418.0L204.0 420.5L205.6 420.9L206.7 420.5L208.6 418.4L210.8 418.3L216.9 420.0L218.9 421.2L221.3 421.9L223.6 421.3L225.8 419.9L228.9 420.0L232.6 422.4L236.3 419.3L237.2 419.0L237.7 417.5L236.3 417.2L231.8 418.6L229.6 417.8L228.1 416.8L226.6 414.3L225.9 413.9L222.1 414.5L220.6 412.9L219.1 412.3L218.3 413.0L216.4 416.0L215.4 416.5L210.1 416.1L205.6 417.0L204.4 416.0L202.6 413.3L201.8 413.0M256.6 414.2L255.8 414.9L254.5 417.5L255.1 418.1L256.6 416.8L256.9 416.0L256.6 414.2M163.6 390.0L170.3 391.0L172.9 395.0L175.5 398.0L178.3 400.2L182.3 401.8L182.8 402.5L182.9 404.8L183.9 409.2L184.6 410.1L186.1 411.1L188.3 409.9L189.8 410.0L191.3 412.3L192.8 412.7L193.6 411.9L193.5 410.0L195.1 407.9L197.8 405.5L198.8 402.4L200.4 401.2L202.7 400.2L203.3 399.5L202.7 398.0L202.8 396.5L204.1 391.8L204.2 386.8L204.9 383.8L204.8 383.0L203.3 381.5L202.7 380.0L201.8 379.9L200.7 381.5L199.6 382.0L188.4 382.2L185.8 384.5L184.6 384.9L180.8 382.7L177.1 383.2L172.4 381.5L163.6 382.2M219.1 411.2L216.8 412.2L215.2 415.2L214.6 415.5L210.1 414.8L208.6 415.3L206.3 415.4L205.6 415.1L203.3 412.4L201.8 412.2L198.8 412.4L196.6 411.9L195.0 415.2L190.3 416.8L190.1 417.5L190.8 418.2L190.9 419.0L190.3 421.2L191.3 421.9L192.9 421.5L195.8 422.3L197.4 419.8L198.5 419.0L199.6 418.9L204.1 421.5L205.6 421.9L206.3 421.8L209.2 419.0L210.1 418.9L213.1 419.7L219.8 422.5L222.1 423.0L222.8 423.0L225.7 421.2L227.3 420.7L229.6 421.5L231.8 423.7L232.6 424.0L236.4 420.6L237.8 420.5L243.2 422.0L245.3 422.1L246.1 421.8L247.3 419.8L246.8 419.4L244.6 419.7L243.3 419.0L241.5 416.8L238.6 415.6L237.1 415.6L232.6 417.5L231.1 417.1L228.9 414.5L228.5 413.0L228.9 411.5L228.1 411.0L226.6 411.1L223.6 413.1L222.8 413.0L220.6 411.2L219.1 411.2M256.6 411.4L254.3 413.8L252.9 414.7L251.3 414.7L249.8 413.7L248.0 413.8L248.9 416.0L248.3 418.8L250.6 418.8L253.6 419.4L255.1 419.1L257.4 417.0L258.9 416.8L261.1 417.4L261.9 417.2L261.9 416.0L260.1 413.0L258.1 411.4L256.6 411.4M192.2 424.2L190.4 423.5L188.2 422.0L187.9 420.5L188.3 419.0L187.6 418.7L186.1 418.9L184.6 420.2L184.2 421.2L184.1 424.2M225.1 355.9L224.3 356.3L224.1 357.5L224.5 361.2L223.9 364.2L224.6 366.5L224.6 368.0L222.4 371.0L222.8 372.3L225.3 374.0L226.6 376.4L227.3 373.5L231.1 371.8L231.7 371.0L232.1 368.8L234.4 365.8L234.6 362.0L234.1 357.6L230.3 357.2L227.4 355.9L225.1 355.9M163.6 391.1L165.1 391.3L169.8 393.5L171.8 397.2L175.1 399.5L176.1 401.8L179.3 402.6L180.1 403.2L182.1 407.0L182.5 409.2L185.0 412.2L187.1 413.0L189.1 414.7L190.7 415.2L188.3 415.4L186.8 414.3L185.3 414.3L184.9 415.2L184.9 416.8L182.3 420.4L181.6 420.9L178.6 420.6L174.1 422.5L172.6 422.6L163.6 420.9M248.5 424.2L248.6 422.0L249.7 420.5L253.6 420.3L255.1 419.7L257.4 417.5L258.1 417.3L262.6 418.1L263.8 417.5L263.6 416.0L261.5 413.0L259.6 411.3L257.4 410.1L255.8 410.3L254.2 412.2L252.8 413.2L251.3 413.4L249.1 412.5L246.8 412.2L245.4 412.8L243.1 415.0L241.6 415.2L239.6 414.5L237.1 412.3L236.3 412.3L234.1 414.5L233.3 414.4L231.8 413.0L230.8 410.0L228.8 409.3L225.8 409.3L223.6 411.1L219.1 410.0L213.9 412.1L211.6 412.5L209.3 412.1L206.3 410.0L200.3 410.6L198.8 410.3L197.4 409.2L198.1 408.5L200.5 407.8L200.7 407.0L200.1 404.0L201.1 403.1L204.1 401.8L205.2 400.2L205.3 398.8L204.4 397.2L204.3 395.8L207.1 389.7L210.1 388.6L212.2 386.8L214.6 385.7L215.7 384.5L215.7 383.0L213.8 379.8L210.1 379.8L206.3 379.2L199.8 379.2L194.9 380.8L186.8 381.6L185.8 382.2L185.4 383.8L184.6 384.1L183.7 383.8L183.3 383.0L183.8 382.2L183.1 381.4L177.8 382.1L172.6 380.7L163.6 381.3M229.6 316.9L225.8 318.1L223.3 320.0L222.4 321.5L221.8 323.0L221.9 323.8L224.3 325.7L225.1 326.8L225.8 326.3L226.7 324.5L228.1 323.3L230.3 322.5L234.2 322.2L236.3 319.2L236.0 317.8L234.8 316.4L229.6 316.9M225.8 331.0L225.0 332.0L224.1 335.0L222.5 336.5L222.4 337.2L222.8 338.0L226.6 340.5L227.8 334.2L226.7 331.2L225.8 331.0M225.1 347.5L224.6 348.5L224.3 351.3L223.6 351.8L221.4 351.9L221.2 352.2L219.9 357.5L221.2 359.8L221.1 360.5L219.1 362.2L218.3 365.0L218.9 366.5L221.1 368.0L220.8 371.8L221.3 373.7L222.4 375.5L222.1 377.8L223.3 379.2L225.8 381.1L231.8 379.0L233.4 377.5L234.3 375.5L236.4 373.5L236.2 370.2L237.5 368.0L237.6 367.2L236.4 364.2L236.5 362.0L236.1 359.8L237.5 355.2L237.1 353.8L234.8 350.1L233.3 349.9L230.3 350.8L229.1 350.8L225.9 347.6L225.1 347.5M163.6 392.8L165.1 392.8L168.2 394.2L169.6 396.4L170.6 399.5L173.3 401.3L175.0 404.8L177.8 405.4L180.1 407.0L182.3 410.8L183.2 413.0L181.6 416.1L176.0 418.2L173.3 420.6L166.6 419.9L163.6 418.8M201.9 409.2L204.1 408.6L204.3 409.2L201.9 409.2M200.3 410.0L201.8 409.3L202.0 410.0L200.3 410.0M254.7 424.2L254.0 422.8L254.4 422.0L255.8 421.6L257.4 421.8L258.1 420.0L258.9 419.8L260.4 420.1L261.5 421.2L261.2 424.2M270.1 424.2L270.1 423.4L265.9 422.0L263.8 420.5L263.7 419.8L265.3 417.5L265.3 415.2L264.8 414.5L262.0 412.2L258.9 407.3L258.1 407.2L255.8 408.3L253.6 408.9L250.6 408.4L249.1 409.6L245.3 410.8L241.6 413.4L240.8 413.0L238.6 410.0L235.6 409.8L232.6 408.7L225.1 408.4L223.6 409.9L222.8 410.0L219.1 409.1L216.8 409.9L214.6 408.6L212.7 410.0L211.6 410.1L207.1 407.4L205.9 402.5L206.5 401.0L208.1 399.5L208.5 398.0L207.8 397.2L206.3 397.0L205.7 396.5L205.7 395.0L206.3 394.1L207.1 393.9L209.3 395.0L210.8 394.6L213.1 392.8L213.7 389.8L216.6 383.8L216.3 380.0L215.7 379.2L201.8 378.9L193.6 379.6L163.6 379.6M163.6 393.9L164.9 394.2L165.4 396.5L166.1 398.0L168.8 400.6L171.8 402.0L172.8 403.2L172.6 404.0L171.9 404.1L168.8 403.4L167.3 403.8L166.6 404.8L166.9 405.5L168.8 407.0L172.6 407.4L177.8 406.9L178.7 407.8L178.4 409.2L180.1 409.9L180.5 411.5L179.2 414.5L177.8 416.1L175.6 416.5L173.3 417.5L170.3 416.4L168.8 416.4L167.7 418.2L166.6 418.5L165.0 418.2L163.6 417.1M279.5 424.2L279.1 422.0L278.6 421.2L276.1 418.9L269.9 414.5L267.5 407.8L266.6 407.0L261.1 404.4L258.9 404.2L255.1 405.3L254.4 404.8L253.3 402.5L251.3 402.0L249.0 403.2L246.8 407.0L245.3 407.7L243.1 407.2L240.1 407.2L236.3 408.0L227.3 407.9L225.1 407.4L222.1 409.2L219.5 408.5L218.4 407.5L217.6 408.9L217.0 408.5L215.4 404.8L213.1 402.8L210.9 402.9L209.3 404.1L208.1 402.5L208.1 401.8L210.1 398.9L212.3 397.6L214.5 395.0L216.1 389.3L216.9 389.1L218.3 389.7L220.6 389.6L222.1 390.6L223.6 390.8L225.8 389.7L229.6 390.1L232.6 389.8L236.9 389.0L238.0 388.2L238.2 387.5L237.0 385.2L237.1 383.8L238.7 381.5L239.0 377.0L240.2 372.5L241.3 370.2L242.2 365.8L241.6 364.0L239.4 361.2L238.7 359.8L239.6 356.0L239.3 350.7L234.9 346.9L233.3 346.6L230.3 347.3L229.6 346.9L228.7 345.5L228.3 343.2L229.4 340.2L229.9 335.0L229.0 330.5L228.4 329.0L229.1 326.0L229.6 325.2L231.8 324.3L234.8 324.9L235.6 324.5L238.6 320.0L242.8 317.8L243.3 316.2L243.1 314.8L245.8 311.0L245.6 310.2L244.7 309.5L243.1 309.0L241.6 310.0L240.8 309.9L240.1 310.7L239.4 312.5L237.1 313.4L236.3 313.2L234.9 312.0L232.6 312.7L231.1 312.7L228.8 312.0L226.6 311.8L224.3 310.3L223.6 310.5L222.5 311.8L221.3 312.2L218.3 311.4L217.6 312.0L217.4 314.8L216.9 315.8L214.6 317.0L213.1 318.4L210.1 319.7L206.7 323.0L206.8 325.2L207.8 326.4L212.4 326.3L215.3 325.0L217.1 326.8L216.0 331.2L216.4 334.2L215.7 337.2L216.7 344.0L216.7 347.0L215.5 350.0L217.3 353.0L216.7 365.8L217.6 368.0L218.9 369.5L219.2 371.0L218.9 372.5L216.1 374.8L216.1 375.5L217.4 378.5L213.8 378.8L163.6 378.9M217.9 396.5L219.1 396.4L221.3 398.1L224.3 396.9L225.8 396.8L228.1 398.5L228.8 398.6L229.5 399.5L230.1 401.8L229.0 404.0L226.9 405.5L222.1 406.6L221.3 406.5L218.1 404.8L217.2 403.2L216.4 400.2L216.8 398.0L217.9 396.5M289.9 424.2L288.9 422.6L285.3 422.0L286.5 416.8L285.9 414.0L285.1 413.4L282.7 413.0L279.1 410.0L276.5 409.2L275.6 407.0L273.7 405.5L273.7 401.8L272.4 401.6L269.4 402.3L267.1 402.1L266.4 401.8L266.5 398.8L264.9 397.6L261.9 397.4L260.4 398.4L258.9 398.8L257.4 398.6L256.8 398.0L256.8 396.5L257.3 395.0L257.1 394.2L252.4 389.0L250.6 388.5L248.4 385.2L248.0 383.0L248.6 380.8L248.5 376.2L245.6 372.5L245.1 370.2L246.3 368.0L247.0 365.8L246.7 365.0L244.6 363.3L241.6 359.8L242.8 356.8L242.4 354.5L243.4 352.2L243.2 350.8L242.2 349.2L236.8 344.0L237.5 342.5L237.0 341.8L235.6 341.8L235.2 342.5L235.2 344.0L232.5 344.0L232.9 339.5L232.0 335.0L232.6 333.6L234.2 332.0L234.0 327.5L237.1 326.8L240.1 327.7L241.9 327.5L242.0 326.8L240.7 322.2L240.8 320.8L241.5 320.0L243.8 319.7L245.3 317.6L247.4 316.2L247.6 315.5L246.7 314.0L246.8 312.9L249.5 310.2L249.8 309.2L250.6 308.8L252.1 309.4L252.0 308.0L250.6 307.1L249.1 307.1L245.3 308.3L240.8 306.4L234.8 307.8L230.3 307.0L228.1 308.2L225.1 307.3L221.4 308.3L217.6 307.6L215.9 308.0L213.8 309.9L210.9 308.8L206.4 308.2L205.5 308.8L204.1 311.0L204.5 314.0L204.1 314.8L201.8 316.0L199.6 316.2L198.8 317.0L198.6 320.0L196.7 324.5L195.0 326.8L191.3 328.2L188.3 328.0L185.8 329.0L184.5 333.5L181.2 335.8L182.3 338.0L183.8 339.6L184.6 339.9L186.9 339.7L189.8 341.9L192.8 341.4L195.1 340.2L196.3 340.2L198.4 341.8L200.2 344.8L202.8 345.5L204.1 346.6L205.6 349.2L206.4 349.7L211.0 350.8L211.4 351.5L211.3 354.5L213.9 357.5L213.9 358.2L212.6 360.5L212.6 362.0L215.3 365.7L215.7 367.2L215.4 371.0L213.6 374.0L214.1 378.5L163.6 378.5" fill="none" stroke="#1a1a1a" stroke-width="0.7" stroke-opacity="0.95" stroke-linejoin="round"/>
<circle cx="285.7" cy="345.8" r="0.55" fill="#555" fill-opacity="0.75"/>
<circle cx="260.4" cy="356.4" r="0.55" fill="#555" fill-opacity="0.75"/>
<circle cx="266" cy="354.5" r="0.55" fill="#555" fill-opacity="0.75"/>
<circle cx="267" cy="360.8" r="0.55" fill="#555" fill-opacity="0.75"/>
<circle cx="292.3" cy="349.8" r="0.55" fill="#555" fill-opacity="0.75"/>
<circle cx="292.3" cy="362.5" r="0.55" fill="#555" fill-opacity="0.75"/>
<circle cx="250.5" cy="364" r="0.55" fill="#555" fill-opacity="0.75"/>
<circle cx="282.4" cy="369.6" r="0.55" fill="#555" fill-opacity="0.75"/>
<circle cx="282.4" cy="377.3" r="0.55" fill="#555" fill-opacity="0.75"/>
<circle cx="293.4" cy="378.8" r="0.55" fill="#555" fill-opacity="0.75"/>
<circle cx="285.7" cy="386.7" r="0.55" fill="#555" fill-opacity="0.75"/>
<circle cx="262.6" cy="381.7" r="0.55" fill="#555" fill-opacity="0.75"/>
<circle cx="290" cy="398" r="0.55" fill="#555" fill-opacity="0.75"/>
<circle cx="291" cy="401.5" r="0.55" fill="#555" fill-opacity="0.75"/>
<circle cx="276" cy="352" r="0.55" fill="#555" fill-opacity="0.75"/>
<circle cx="272" cy="392" r="0.55" fill="#555" fill-opacity="0.75"/>
<ellipse cx="168.5" cy="356.6" rx="4.3" ry="2.3" fill="#3d2ba6" stroke="#111" stroke-width="0.7"/>
<ellipse cx="187.6" cy="356.6" rx="4.3" ry="2.3" fill="#3d2ba6" stroke="#111" stroke-width="0.7"/>
<ellipse cx="207.3" cy="356.6" rx="4.3" ry="2.3" fill="#3d2ba6" stroke="#111" stroke-width="0.7"/></g></g>
<clipPath id="cc1"><rect x="326.3" y="18.8" width="147.8" height="116.10000000000001"/></clipPath><g clip-path="url(#cc1)"><path d="M341.7 113.6L346.3 113.5L350.7 114.1L353.5 114.8L357.9 116.7L359.9 117.2L371.1 116.9L378.3 117.3L385.1 118.2L396.7 120.4L401.1 120.8L405.9 120.5L411.9 118.6L416.3 117.7L421.5 117.3L427.1 117.4L431.1 117.9L434.7 118.8L436.9 120.0L437.2 120.4L437.4 121.2L436.9 122.0L435.1 123.0L432.7 123.8L429.5 124.3L423.5 124.7L413.9 124.3L411.5 124.5L410.7 124.8L410.0 125.6L409.9 126.4L410.1 129.2L409.7 130.4L408.7 131.6L407.1 132.5L403.9 133.5L399.5 134.1L394.7 134.3L389.5 134.1L383.9 133.5L378.7 132.6L369.1 130.2L365.5 128.9L361.9 127.3L359.5 125.9L356.2 123.6L354.7 122.9L352.3 122.6L344.3 123.0L339.9 122.6L337.5 122.1L335.1 121.2L333.7 120.4L332.5 119.2L332.3 118.0L332.5 117.2L333.2 116.4L334.3 115.6L337.5 114.3L341.7 113.6" fill="none" stroke="#3e26a8" stroke-width="0.4" stroke-opacity="0.8"/><path d="M341.3 116.0L344.7 115.7L347.9 116.0L350.7 117.1L351.2 117.6L351.5 118.4L351.1 119.2L350.6 119.6L347.9 120.5L344.3 120.7L341.1 120.4L339.5 119.8L338.5 119.2L338.2 118.8L338.0 118.0L338.5 117.2L339.1 116.8L341.3 116.0M369.8 118.8L375.9 118.7L382.7 119.4L389.5 120.6L399.5 123.0L402.2 124.0L403.8 125.2L404.8 127.2L404.8 128.8L404.4 129.6L403.6 130.4L401.5 131.4L398.3 132.2L394.3 132.5L389.5 132.4L383.5 131.9L378.3 131.0L373.5 129.8L368.7 128.1L365.1 126.4L362.4 124.4L361.5 122.8L361.4 122.0L361.8 121.2L363.1 120.3L365.9 119.3L369.8 118.8M422.5 119.2L425.5 119.3L427.9 119.7L429.6 120.4L429.9 120.8L429.9 121.2L428.8 122.0L427.5 122.4L423.1 122.8L418.5 122.4L417.0 122.0L415.9 121.2L415.9 120.8L416.3 120.4L417.5 119.9L419.9 119.4L422.5 119.2" fill="none" stroke="#464ced" stroke-width="0.4" stroke-opacity="0.8"/><path d="M369.6 120.0L374.3 119.6L379.9 119.9L385.5 120.7L391.9 122.1L397.1 123.7L399.9 125.0L401.1 126.0L401.6 126.8L401.8 128.4L400.9 129.6L399.1 130.6L396.3 131.2L393.1 131.5L388.7 131.5L384.3 131.1L375.9 129.5L371.9 128.2L368.7 126.9L366.6 125.6L364.9 124.0L364.6 122.8L365.2 121.6L367.1 120.6L369.6 120.0" fill="none" stroke="#3978f8" stroke-width="0.4" stroke-opacity="0.8"/><path d="M375.1 120.4L379.1 120.5L383.5 121.0L387.9 121.9L392.3 123.0L395.9 124.3L397.9 125.4L399.3 126.8L399.5 128.0L399.0 128.8L397.9 129.6L395.1 130.4L390.3 130.8L384.7 130.5L378.7 129.5L373.1 127.8L369.2 126.0L367.7 124.8L367.1 124.0L367.0 122.8L367.6 122.0L368.3 121.6L371.1 120.7L375.1 120.4" fill="none" stroke="#1da0e2" stroke-width="0.4" stroke-opacity="0.8"/><path d="M373.4 121.2L377.1 121.0L381.5 121.3L385.5 121.9L389.9 123.0L393.9 124.4L396.2 125.6L397.3 126.8L397.4 128.0L396.6 128.8L394.8 129.6L389.9 130.2L383.5 129.8L376.7 128.3L371.5 126.3L369.9 125.2L368.9 124.0L369.1 122.8L369.9 122.2L371.3 121.6L373.4 121.2" fill="none" stroke="#1abdba" stroke-width="0.4" stroke-opacity="0.8"/><path d="M373.2 122.0L375.9 121.6L379.5 121.7L383.5 122.1L387.5 122.9L391.1 124.0L393.8 125.2L395.3 126.4L395.6 127.6L394.9 128.4L393.9 128.9L389.9 129.6L384.3 129.3L378.7 128.3L374.1 126.8L372.3 125.8L371.1 124.8L370.7 124.0L370.8 123.2L371.9 122.4L373.2 122.0" fill="none" stroke="#5dc978" stroke-width="0.4" stroke-opacity="0.8"/><path d="M375.1 122.4L377.5 122.2L380.7 122.3L387.1 123.3L389.9 124.2L392.1 125.2L393.6 126.4L393.8 127.2L393.3 128.0L392.5 128.4L389.1 129.0L384.3 128.8L379.1 127.9L374.9 126.4L373.5 125.6L372.6 124.8L372.4 124.0L372.8 123.2L375.1 122.4" fill="none" stroke="#bdc239" stroke-width="0.4" stroke-opacity="0.8"/><path d="M377.2 122.8L382.3 122.9L387.4 124.0L391.1 125.6L391.9 126.4L392.0 127.2L391.5 127.7L390.3 128.2L387.1 128.5L382.7 128.1L378.7 127.2L375.7 126.0L374.6 125.2L374.1 124.4L374.1 124.0L374.7 123.5L377.2 122.8" fill="none" stroke="#f5cb2e" stroke-width="0.4" stroke-opacity="0.8"/><path d="M377.2 123.6L380.7 123.3L385.3 124.0L388.7 125.2L389.9 126.0L390.1 126.8L389.8 127.2L388.9 127.6L386.7 127.9L383.9 127.7L380.7 127.2L378.2 126.4L376.2 125.2L376.0 124.4L376.3 124.0L377.2 123.6" fill="none" stroke="#f6e227" stroke-width="0.4" stroke-opacity="0.8"/><path d="M378.5 124.4L380.7 124.0L384.1 124.4L386.7 125.2L387.8 126.0L387.9 126.4L387.5 126.8L385.9 127.1L381.9 126.8L378.7 125.6L378.2 124.8L378.5 124.4" fill="none" stroke="#f9fb15" stroke-width="0.4" stroke-opacity="0.8"/></g><clipPath id="cc2"><rect x="326.3" y="162.2" width="147.8" height="116.0"/></clipPath><g clip-path="url(#cc2)"><path d="M326.3 230.4L327.1 228.6L328.7 227.0L331.1 225.6L334.3 224.3L338.3 223.3L342.3 222.7L347.1 222.4L351.9 222.5L359.1 223.3L362.3 224.0L365.9 225.2L377.9 230.4L379.9 231.8L380.6 232.6L380.8 233.4L380.3 234.6L379.3 235.4L377.9 236.1L375.5 236.8L370.3 237.5L358.6 238.2L355.9 238.6L353.9 239.4L353.2 240.2L352.9 241.0L353.0 245.8L352.5 249.0L351.7 251.4L350.4 253.8L348.3 256.2L345.9 257.8L343.5 258.8L340.7 259.1L337.9 258.6L335.1 257.3L332.5 255.0L330.6 252.2L329.0 248.6L327.8 244.2L327.4 241.0L327.1 236.2L326.3 232.4M326.3 269.3L327.9 267.9L329.9 266.8L335.5 264.8L341.5 263.6L348.3 263.2L357.5 263.7L370.3 265.6L374.7 265.9L404.3 265.5L415.1 265.7L426.3 266.4L434.7 267.2L441.5 268.3L445.9 269.7L446.7 270.2L447.2 271.0L446.7 271.8L446.1 272.2L442.3 273.5L435.9 274.6L427.9 275.5L418.3 276.1L405.9 276.5L376.7 276.1L372.3 276.6L364.4 278.2M336.3 278.2L332.7 277.2L330.3 276.3L327.9 275.0L326.3 273.7" fill="none" stroke="#3e26a8" stroke-width="0.4" stroke-opacity="0.8"/><path d="M345.2 224.2L349.5 224.1L353.5 224.3L357.1 224.8L360.7 225.6L365.1 227.2L373.2 230.6L375.3 232.2L375.6 233.4L375.1 234.1L374.4 234.6L371.1 235.6L354.3 237.0L351.9 237.4L349.6 238.2L348.8 239.0L348.5 239.8L349.1 243.8L349.1 246.2L348.5 248.6L347.5 250.7L345.9 252.6L343.9 253.9L341.5 254.5L339.1 254.2L337.1 253.3L335.3 251.8L333.8 249.8L332.5 247.0L331.4 242.2L331.4 236.6L330.4 232.2L330.5 230.6L331.0 229.4L332.0 228.2L335.1 226.4L339.9 224.9L345.2 224.2M343.2 265.4L349.5 265.0L356.3 265.3L361.9 266.1L371.9 268.3L375.9 268.7L397.1 267.7L405.9 267.7L414.3 268.1L420.3 268.6L425.2 269.4L427.8 270.2L428.6 271.0L428.4 271.4L427.1 272.1L423.5 272.9L417.9 273.6L410.7 274.1L396.7 274.3L379.5 273.4L375.5 273.4L371.9 274.1L361.1 276.9L356.3 277.6L351.1 277.9L343.9 277.6L337.5 276.4L333.1 274.7L331.7 273.8L330.7 272.6L330.4 271.4L330.8 270.2L331.9 269.0L333.1 268.2L337.5 266.5L343.2 265.4" fill="none" stroke="#464ced" stroke-width="0.4" stroke-opacity="0.8"/><path d="M343.1 225.4L347.1 225.0L351.1 225.1L355.1 225.5L358.3 226.1L362.7 227.5L369.9 230.5L371.9 231.8L372.4 232.6L372.4 233.0L371.9 233.7L371.1 234.2L368.7 234.8L351.9 236.3L347.7 237.0L345.9 237.8L345.4 238.2L345.1 239.0L346.4 244.2L346.4 246.2L345.9 247.8L344.9 249.4L343.5 250.6L341.9 251.2L339.9 251.2L338.3 250.6L336.9 249.4L335.7 247.8L334.9 245.8L334.4 243.8L334.2 241.8L334.7 236.6L333.0 232.6L332.9 231.0L333.3 229.8L333.9 229.0L335.9 227.5L339.1 226.3L343.1 225.4M345.1 266.2L352.7 266.0L360.3 266.9L364.7 268.0L368.4 269.4L370.3 270.6L370.5 271.4L369.9 272.2L368.0 273.4L363.1 275.3L357.9 276.4L351.9 277.0L345.9 276.8L340.3 276.0L335.9 274.4L334.3 273.4L333.6 272.6L333.3 271.8L333.5 270.6L334.5 269.4L335.7 268.6L339.9 267.1L345.1 266.2M396.1 269.8L406.3 269.8L409.9 270.2L411.6 270.6L412.1 271.0L411.6 271.4L409.1 271.9L401.1 272.3L392.7 271.9L390.3 271.4L389.8 271.0L390.3 270.6L392.0 270.2L396.1 269.8" fill="none" stroke="#3978f8" stroke-width="0.4" stroke-opacity="0.8"/><path d="M346.3 225.8L352.7 225.9L358.7 227.1L362.3 228.3L367.4 230.6L369.2 231.8L369.6 232.6L369.1 233.3L368.3 233.7L365.5 234.4L341.5 236.6L339.9 236.4L338.7 236.0L337.1 234.9L335.6 233.4L335.0 232.2L334.8 231.0L335.3 229.8L336.4 228.6L338.3 227.5L340.3 226.8L343.1 226.2L346.3 225.8M338.7 240.2L339.9 239.9L341.1 240.3L342.3 241.3L343.1 242.6L343.6 244.2L343.5 245.5L342.8 247.0L341.9 247.7L340.7 247.9L339.5 247.6L338.4 246.6L337.7 245.4L337.3 243.8L337.3 242.2L337.8 241.0L338.7 240.2M344.7 267.0L351.9 266.7L359.1 267.5L362.3 268.4L364.9 269.4L366.5 270.6L366.7 271.4L366.4 272.2L365.5 273.0L361.9 274.6L357.5 275.7L351.9 276.3L346.7 276.2L341.9 275.5L338.0 274.2L336.6 273.4L335.8 272.6L335.5 271.8L335.5 271.0L336.0 270.2L337.1 269.3L340.3 267.9L344.7 267.0" fill="none" stroke="#1da0e2" stroke-width="0.4" stroke-opacity="0.8"/><path d="M344.7 226.6L347.9 226.3L351.1 226.4L354.3 226.7L357.1 227.3L360.8 228.6L365.1 230.6L366.7 231.8L366.8 232.6L365.4 233.4L362.3 234.0L351.9 234.9L345.1 235.2L342.3 235.1L340.3 234.7L338.4 233.8L337.1 232.6L336.7 231.8L336.6 230.6L337.0 229.8L337.8 229.0L340.7 227.5L344.7 226.6M347.0 267.4L353.1 267.4L359.1 268.3L361.4 269.0L363.0 269.8L364.0 270.6L364.2 271.0L364.2 271.8L363.6 272.6L362.4 273.4L359.5 274.5L355.5 275.3L350.7 275.7L345.9 275.5L341.9 274.7L339.1 273.6L338.1 273.0L337.5 272.2L337.3 271.4L337.6 270.6L338.4 269.8L339.5 269.1L342.7 268.0L347.0 267.4" fill="none" stroke="#1abdba" stroke-width="0.4" stroke-opacity="0.8"/><path d="M346.2 227.0L351.5 227.0L356.7 227.9L359.8 229.0L362.3 230.2L364.0 231.4L364.2 232.2L362.8 233.0L359.9 233.5L352.7 234.3L347.1 234.5L344.3 234.4L341.9 234.0L339.9 233.2L338.6 232.2L338.2 231.4L338.2 230.6L338.6 229.8L339.5 229.0L342.3 227.7L346.2 227.0M345.2 268.2L351.1 267.8L357.1 268.5L359.5 269.2L361.1 270.0L362.1 271.0L362.1 271.8L360.9 273.0L358.3 274.1L354.7 274.8L350.7 275.1L346.7 275.0L343.1 274.3L340.6 273.4L339.2 272.2L339.1 271.0L340.2 269.8L342.3 268.9L345.2 268.2" fill="none" stroke="#5dc978" stroke-width="0.4" stroke-opacity="0.8"/><path d="M348.4 227.4L352.7 227.6L356.8 228.6L360.3 230.2L361.4 231.0L361.6 231.8L360.4 232.6L357.5 233.2L352.3 233.8L347.5 233.9L344.7 233.7L342.3 233.2L340.7 232.4L339.8 231.4L339.8 230.6L340.2 229.8L341.9 228.6L344.7 227.8L348.4 227.4M346.5 268.6L351.5 268.4L356.3 269.0L359.5 270.2L360.2 271.0L360.3 271.8L358.9 273.0L356.8 273.8L353.9 274.4L350.7 274.6L347.5 274.5L344.3 273.9L341.9 273.0L340.9 272.2L340.7 271.8L340.7 271.0L341.5 270.2L343.5 269.3L346.5 268.6" fill="none" stroke="#bdc239" stroke-width="0.4" stroke-opacity="0.8"/><path d="M345.8 228.2L349.9 227.9L354.3 228.5L357.7 229.8L358.9 230.6L359.3 231.4L358.3 232.2L356.7 232.6L353.1 233.2L349.1 233.4L344.3 232.9L342.4 232.2L341.5 231.4L341.3 231.0L341.5 230.2L342.3 229.4L343.9 228.7L345.8 228.2M348.0 269.0L351.9 268.9L355.5 269.5L358.0 270.6L358.4 271.0L358.4 271.8L357.6 272.6L355.7 273.4L353.1 273.9L350.3 274.1L347.5 273.9L344.9 273.4L343.1 272.6L342.3 271.8L342.4 271.0L343.5 270.1L345.5 269.4L348.0 269.0" fill="none" stroke="#f5cb2e" stroke-width="0.4" stroke-opacity="0.8"/><path d="M347.3 228.6L350.3 228.5L353.5 229.0L355.7 229.8L356.8 230.6L357.0 231.0L356.9 231.4L356.3 231.8L355.1 232.2L352.7 232.6L349.5 232.8L345.1 232.3L343.8 231.8L343.1 231.0L343.2 230.2L344.2 229.4L347.3 228.6M347.0 269.8L350.3 269.5L353.5 269.8L355.9 270.6L356.6 271.4L356.1 272.2L355.4 272.6L353.9 273.1L351.5 273.4L347.5 273.3L345.9 272.9L344.5 272.2L344.2 271.8L344.3 271.0L345.5 270.2L347.0 269.8" fill="none" stroke="#f6e227" stroke-width="0.4" stroke-opacity="0.8"/><path d="M347.0 229.4L349.5 229.2L351.9 229.4L354.1 230.2L354.5 230.6L354.5 231.0L354.0 231.4L352.9 231.8L349.5 232.1L346.7 231.8L345.2 231.0L345.0 230.6L345.3 230.2L347.0 229.4M347.5 270.6L349.5 270.3L351.5 270.3L353.1 270.6L353.9 271.0L354.2 271.4L354.1 271.8L353.5 272.2L352.3 272.5L348.7 272.6L347.1 272.2L346.5 271.8L346.4 271.4L346.7 271.0L347.5 270.6" fill="none" stroke="#f9fb15" stroke-width="0.4" stroke-opacity="0.8"/></g><clipPath id="cc3"><rect x="326.3" y="306.6" width="147.8" height="115.89999999999998"/></clipPath><g clip-path="url(#cc3)"><path d="M326.3 379.1L351.1 378.5L370.3 378.7L387.1 379.6L392.7 380.2L396.3 381.0L397.1 381.4L397.1 381.8L396.3 382.2L393.5 382.8L387.1 383.6L373.9 384.6L371.8 385.0L371.5 385.4L374.5 387.4L375.5 388.6L375.7 389.4L375.6 390.2L374.7 391.4L372.7 392.7L369.5 394.0L359.3 396.2L358.6 396.6L358.4 397.0L358.5 397.4L359.2 398.2L364.7 402.5L367.9 405.4L370.9 408.6L373.9 412.6L375.0 413.4L376.3 413.8L380.7 414.0L411.9 413.6L423.9 413.7L430.7 414.1L437.5 414.9L441.4 415.8L442.1 416.2L442.2 416.6L441.8 417.0L440.3 417.6L435.1 418.5L419.3 419.8L403.5 421.6L394.6 422.2M366.2 422.2L357.1 421.5L351.9 420.9L336.3 418.3L333.5 417.5L331.9 416.8L331.4 416.2L331.5 415.8L332.4 415.0L334.8 414.2L341.9 412.7L343.0 412.2L343.3 411.4L342.5 410.2L336.7 404.2L330.8 396.6L326.3 392.5" fill="none" stroke="#3e26a8" stroke-width="0.4" stroke-opacity="0.8"/><path d="M326.3 380.3L340.7 379.5L359.9 379.2L377.5 379.9L383.1 380.4L386.6 381.0L387.5 381.4L387.5 381.8L384.3 382.6L362.0 384.6L361.6 385.0L366.3 386.6L368.5 387.8L369.5 389.0L369.5 389.8L369.1 390.6L367.5 391.8L365.1 392.8L361.9 393.6L353.8 395.0L352.7 395.4L352.2 395.8L352.1 396.2L352.8 397.0L359.9 401.2L363.8 404.2L368.1 408.6L371.2 413.4L371.9 413.9L373.1 414.4L378.3 414.9L419.5 414.9L427.5 415.5L429.9 416.0L430.5 416.2L430.8 416.6L429.9 417.1L426.7 417.7L413.9 419.0L401.5 420.7L394.7 421.3L385.9 421.6L373.9 421.7L367.1 421.3L356.3 419.9L349.6 418.2L346.0 417.0L344.8 416.2L345.1 415.8L346.1 415.4L348.7 415.0L356.7 415.2L357.9 415.0L358.3 414.6L358.4 414.2L356.8 412.6L352.3 409.4L349.1 407.4L344.3 404.9L342.3 403.5L340.2 401.4L336.8 397.0L331.1 392.4L330.2 391.4L329.5 390.2L329.6 388.6L330.2 387.8L331.3 387.0L333.5 386.3L340.1 385.0L340.6 384.6L338.8 384.2L326.3 383.0" fill="none" stroke="#464ced" stroke-width="0.4" stroke-opacity="0.8"/><path d="M344.0 379.8L357.5 379.6L370.7 380.0L379.5 380.8L382.0 381.4L382.0 381.8L378.7 382.6L373.5 383.1L352.3 384.1L347.1 383.9L332.7 382.9L328.7 382.4L326.8 381.8L326.9 381.4L328.0 381.0L330.7 380.6L344.0 379.8M348.9 385.4L355.1 385.5L361.1 386.5L364.7 388.0L365.7 389.0L365.8 389.8L365.3 390.6L364.1 391.4L360.6 392.6L354.3 393.6L346.7 394.2L340.7 394.0L337.5 393.5L334.7 392.2L333.5 391.1L333.0 390.2L333.1 389.4L333.7 388.6L336.4 387.4L342.7 386.1L348.9 385.4M349.4 399.0L351.5 398.9L354.3 399.6L357.5 401.1L360.7 403.1L363.9 405.8L366.4 408.6L367.9 411.0L369.0 413.8L369.9 414.5L371.1 414.8L376.7 415.4L414.7 415.7L419.9 416.1L421.2 416.6L420.3 417.0L411.1 418.3L401.9 420.0L391.1 421.0L382.3 421.2L372.3 421.1L365.1 420.4L359.2 419.4L356.8 418.6L356.2 418.2L356.1 417.8L357.1 417.2L361.3 415.8L361.9 415.4L362.2 415.0L362.2 414.6L361.4 413.8L354.3 408.9L351.6 406.6L349.7 404.6L348.4 402.6L347.9 401.0L348.3 399.8L349.4 399.0" fill="none" stroke="#3978f8" stroke-width="0.4" stroke-opacity="0.8"/><path d="M342.8 380.2L354.7 379.9L366.7 380.2L375.9 381.0L377.6 381.4L377.6 381.8L375.1 382.4L369.5 382.9L353.1 383.5L338.7 382.9L333.5 382.3L331.4 381.8L331.5 381.4L333.2 381.0L342.8 380.2M345.7 386.6L351.9 386.3L357.5 386.8L359.9 387.4L361.8 388.2L362.6 389.0L362.7 389.8L361.4 391.0L358.7 391.9L354.3 392.6L349.1 393.0L344.7 392.8L340.5 392.2L338.1 391.4L337.5 391.0L336.9 390.2L337.1 389.4L337.5 389.0L339.0 388.2L341.9 387.3L345.7 386.6M351.8 401.0L353.5 400.8L355.9 401.5L358.7 402.9L361.6 405.0L364.0 407.4L365.5 409.4L366.3 411.4L366.2 412.2L365.9 412.8L365.1 413.2L364.3 413.2L361.9 412.5L358.7 410.8L355.7 408.6L353.1 406.2L351.4 403.8L351.0 402.2L351.2 401.4L351.8 401.0M365.6 415.4L367.5 415.2L375.1 415.7L396.3 416.0L405.9 416.5L408.8 417.0L408.6 417.4L406.5 418.2L400.3 419.6L393.9 420.4L385.9 420.8L375.5 420.8L369.1 420.5L362.6 419.4L361.1 418.9L360.0 418.2L360.1 417.8L360.6 417.4L365.6 415.4" fill="none" stroke="#1da0e2" stroke-width="0.4" stroke-opacity="0.8"/><path d="M341.9 380.6L352.3 380.2L363.5 380.4L372.0 381.0L373.7 381.4L373.7 381.8L372.1 382.2L367.1 382.7L353.9 383.1L342.3 382.7L337.2 382.2L335.7 381.8L335.9 381.4L337.8 381.0L341.9 380.6M346.5 387.4L351.1 387.1L355.9 387.5L357.9 388.0L359.2 388.6L359.6 389.0L359.8 389.8L358.9 390.6L356.5 391.4L350.3 392.0L347.1 391.9L344.3 391.6L342.3 391.0L341.1 390.2L341.1 389.4L342.1 388.6L344.3 387.8L346.5 387.4M353.7 403.0L354.7 402.7L356.3 403.0L358.2 403.8L360.0 405.0L361.9 406.6L363.2 408.2L364.0 409.8L363.9 410.8L363.1 411.2L361.5 411.0L359.5 410.1L357.3 408.6L355.5 407.0L354.2 405.4L353.5 403.8L353.7 403.0M366.4 416.2L369.5 415.9L392.7 416.2L401.1 416.9L403.1 417.4L403.3 417.8L402.8 418.2L400.4 419.0L396.3 419.7L390.3 420.3L383.1 420.5L374.7 420.4L369.1 420.1L364.7 419.3L362.9 418.6L362.5 418.2L362.6 417.8L363.5 417.2L366.4 416.2" fill="none" stroke="#1abdba" stroke-width="0.4" stroke-opacity="0.8"/><path d="M348.6 380.6L356.7 380.5L363.9 380.7L368.7 381.2L369.8 381.4L369.9 381.8L367.9 382.2L363.5 382.6L354.3 382.8L345.5 382.6L341.5 382.2L339.7 381.8L339.9 381.4L342.2 381.0L348.6 380.6M348.2 388.2L351.1 388.0L353.6 388.2L355.3 388.6L356.4 389.4L356.3 389.8L355.8 390.2L354.7 390.6L351.1 391.1L347.1 390.8L345.5 390.3L345.0 389.8L345.0 389.4L345.5 389.0L348.2 388.2M356.7 405.4L357.1 405.2L357.9 405.3L359.4 406.2L360.7 407.5L361.0 408.2L360.9 408.6L359.9 408.6L358.5 407.8L357.2 406.6L356.7 405.4M367.8 416.6L371.1 416.4L389.5 416.4L397.2 417.0L399.2 417.4L399.9 417.8L399.8 418.2L399.0 418.6L395.5 419.4L389.9 420.0L383.1 420.2L375.5 420.2L370.3 419.8L365.9 419.0L364.5 418.2L364.6 417.8L365.1 417.4L367.8 416.6" fill="none" stroke="#5dc978" stroke-width="0.4" stroke-opacity="0.8"/><path d="M347.4 381.0L354.3 380.8L361.1 380.9L365.7 381.4L365.8 381.8L361.9 382.3L354.3 382.5L347.1 382.3L343.7 381.8L344.0 381.4L347.4 381.0M381.0 416.6L387.5 416.7L393.1 417.0L395.8 417.4L397.0 417.8L397.1 418.2L395.0 419.0L392.3 419.4L387.5 419.8L381.5 420.0L375.1 419.8L370.7 419.5L367.9 419.0L366.4 418.2L366.5 417.8L367.2 417.4L369.5 416.9L381.0 416.6" fill="none" stroke="#bdc239" stroke-width="0.4" stroke-opacity="0.8"/><path d="M349.6 381.4L357.5 381.3L360.0 381.4L360.4 381.8L354.7 382.1L349.1 381.8L349.6 381.4M375.6 417.0L388.7 417.0L392.5 417.4L394.2 417.8L394.5 418.2L393.9 418.6L392.7 418.9L389.9 419.3L381.5 419.7L372.3 419.3L369.9 418.9L368.8 418.6L368.3 418.2L368.6 417.8L369.9 417.4L375.6 417.0" fill="none" stroke="#f5cb2e" stroke-width="0.4" stroke-opacity="0.8"/><path d="M374.6 417.4L386.3 417.2L390.3 417.6L391.3 417.8L391.9 418.2L391.3 418.6L389.2 419.0L381.5 419.4L373.2 419.0L371.2 418.6L370.7 418.2L371.3 417.8L374.6 417.4" fill="none" stroke="#f6e227" stroke-width="0.4" stroke-opacity="0.8"/><path d="M375.9 417.8L383.9 417.5L387.6 417.8L388.8 418.2L388.1 418.6L386.7 418.8L381.9 419.0L376.3 418.8L374.8 418.6L374.1 418.2L375.9 417.8" fill="none" stroke="#f9fb15" stroke-width="0.4" stroke-opacity="0.8"/></g>
<line x1="326.3" y1="18.2" x2="326.3" y2="134.9" stroke="#9a9a9a" stroke-width="0.8"/>
<line x1="326.3" y1="134.9" x2="474.1" y2="134.9" stroke="#9a9a9a" stroke-width="0.8"/>
<line x1="326.3" y1="134.9" x2="327.7" y2="134.9" stroke="#9a9a9a" stroke-width="0.6"/>
<line x1="326.3" y1="134.9" x2="326.3" y2="133.5" stroke="#9a9a9a" stroke-width="0.6"/>
<text x="324.2" y="137.9" font-size="7.3" text-anchor="end" fill="#4a4a4a">0</text>
<text x="326.3" y="144.5" font-size="7.3" text-anchor="middle" fill="#4a4a4a">0</text>
<line x1="326.3" y1="111.68" x2="327.7" y2="111.68" stroke="#9a9a9a" stroke-width="0.6"/>
<line x1="355.86" y1="134.9" x2="355.86" y2="133.5" stroke="#9a9a9a" stroke-width="0.6"/>
<text x="324.2" y="114.68" font-size="7.3" text-anchor="end" fill="#4a4a4a">0.2</text>
<text x="355.86" y="144.5" font-size="7.3" text-anchor="middle" fill="#4a4a4a">0.2</text>
<line x1="326.3" y1="88.46000000000001" x2="327.7" y2="88.46000000000001" stroke="#9a9a9a" stroke-width="0.6"/>
<line x1="385.42" y1="134.9" x2="385.42" y2="133.5" stroke="#9a9a9a" stroke-width="0.6"/>
<text x="324.2" y="91.46000000000001" font-size="7.3" text-anchor="end" fill="#4a4a4a">0.4</text>
<text x="385.42" y="144.5" font-size="7.3" text-anchor="middle" fill="#4a4a4a">0.4</text>
<line x1="326.3" y1="65.24000000000001" x2="327.7" y2="65.24000000000001" stroke="#9a9a9a" stroke-width="0.6"/>
<line x1="414.98" y1="134.9" x2="414.98" y2="133.5" stroke="#9a9a9a" stroke-width="0.6"/>
<text x="324.2" y="68.24000000000001" font-size="7.3" text-anchor="end" fill="#4a4a4a">0.6</text>
<text x="414.98" y="144.5" font-size="7.3" text-anchor="middle" fill="#4a4a4a">0.6</text>
<line x1="326.3" y1="42.019999999999996" x2="327.7" y2="42.019999999999996" stroke="#9a9a9a" stroke-width="0.6"/>
<line x1="444.54" y1="134.9" x2="444.54" y2="133.5" stroke="#9a9a9a" stroke-width="0.6"/>
<text x="324.2" y="45.019999999999996" font-size="7.3" text-anchor="end" fill="#4a4a4a">0.8</text>
<text x="444.54" y="144.5" font-size="7.3" text-anchor="middle" fill="#4a4a4a">0.8</text>
<line x1="326.3" y1="18.799999999999997" x2="327.7" y2="18.799999999999997" stroke="#9a9a9a" stroke-width="0.6"/>
<line x1="474.1" y1="134.9" x2="474.1" y2="133.5" stroke="#9a9a9a" stroke-width="0.6"/>
<text x="324.2" y="21.799999999999997" font-size="7.3" text-anchor="end" fill="#4a4a4a">1</text>
<text x="474.1" y="144.5" font-size="7.3" text-anchor="middle" fill="#4a4a4a">1</text>
<line x1="326.3" y1="161.6" x2="326.3" y2="278.2" stroke="#9a9a9a" stroke-width="0.8"/>
<line x1="326.3" y1="278.2" x2="474.1" y2="278.2" stroke="#9a9a9a" stroke-width="0.8"/>
<line x1="326.3" y1="278.2" x2="327.7" y2="278.2" stroke="#9a9a9a" stroke-width="0.6"/>
<line x1="326.3" y1="278.2" x2="326.3" y2="276.8" stroke="#9a9a9a" stroke-width="0.6"/>
<text x="324.2" y="281.2" font-size="7.3" text-anchor="end" fill="#4a4a4a">0</text>
<text x="326.3" y="287.8" font-size="7.3" text-anchor="middle" fill="#4a4a4a">0</text>
<line x1="326.3" y1="255.0" x2="327.7" y2="255.0" stroke="#9a9a9a" stroke-width="0.6"/>
<line x1="355.86" y1="278.2" x2="355.86" y2="276.8" stroke="#9a9a9a" stroke-width="0.6"/>
<text x="324.2" y="258.0" font-size="7.3" text-anchor="end" fill="#4a4a4a">0.2</text>
<text x="355.86" y="287.8" font-size="7.3" text-anchor="middle" fill="#4a4a4a">0.2</text>
<line x1="326.3" y1="231.79999999999998" x2="327.7" y2="231.79999999999998" stroke="#9a9a9a" stroke-width="0.6"/>
<line x1="385.42" y1="278.2" x2="385.42" y2="276.8" stroke="#9a9a9a" stroke-width="0.6"/>
<text x="324.2" y="234.79999999999998" font-size="7.3" text-anchor="end" fill="#4a4a4a">0.4</text>
<text x="385.42" y="287.8" font-size="7.3" text-anchor="middle" fill="#4a4a4a">0.4</text>
<line x1="326.3" y1="208.6" x2="327.7" y2="208.6" stroke="#9a9a9a" stroke-width="0.6"/>
<line x1="414.98" y1="278.2" x2="414.98" y2="276.8" stroke="#9a9a9a" stroke-width="0.6"/>
<text x="324.2" y="211.6" font-size="7.3" text-anchor="end" fill="#4a4a4a">0.6</text>
<text x="414.98" y="287.8" font-size="7.3" text-anchor="middle" fill="#4a4a4a">0.6</text>
<line x1="326.3" y1="185.39999999999998" x2="327.7" y2="185.39999999999998" stroke="#9a9a9a" stroke-width="0.6"/>
<line x1="444.54" y1="278.2" x2="444.54" y2="276.8" stroke="#9a9a9a" stroke-width="0.6"/>
<text x="324.2" y="188.39999999999998" font-size="7.3" text-anchor="end" fill="#4a4a4a">0.8</text>
<text x="444.54" y="287.8" font-size="7.3" text-anchor="middle" fill="#4a4a4a">0.8</text>
<line x1="326.3" y1="162.2" x2="327.7" y2="162.2" stroke="#9a9a9a" stroke-width="0.6"/>
<line x1="474.1" y1="278.2" x2="474.1" y2="276.8" stroke="#9a9a9a" stroke-width="0.6"/>
<text x="324.2" y="165.2" font-size="7.3" text-anchor="end" fill="#4a4a4a">1</text>
<text x="474.1" y="287.8" font-size="7.3" text-anchor="middle" fill="#4a4a4a">1</text>
<line x1="326.3" y1="306.0" x2="326.3" y2="422.5" stroke="#9a9a9a" stroke-width="0.8"/>
<line x1="326.3" y1="422.5" x2="474.1" y2="422.5" stroke="#9a9a9a" stroke-width="0.8"/>
<line x1="326.3" y1="422.5" x2="327.7" y2="422.5" stroke="#9a9a9a" stroke-width="0.6"/>
<line x1="326.3" y1="422.5" x2="326.3" y2="421.1" stroke="#9a9a9a" stroke-width="0.6"/>
<text x="324.2" y="425.5" font-size="7.3" text-anchor="end" fill="#4a4a4a">0</text>
<text x="326.3" y="432.1" font-size="7.3" text-anchor="middle" fill="#4a4a4a">0</text>
<line x1="326.3" y1="399.32" x2="327.7" y2="399.32" stroke="#9a9a9a" stroke-width="0.6"/>
<line x1="355.86" y1="422.5" x2="355.86" y2="421.1" stroke="#9a9a9a" stroke-width="0.6"/>
<text x="324.2" y="402.32" font-size="7.3" text-anchor="end" fill="#4a4a4a">0.2</text>
<text x="355.86" y="432.1" font-size="7.3" text-anchor="middle" fill="#4a4a4a">0.2</text>
<line x1="326.3" y1="376.14" x2="327.7" y2="376.14" stroke="#9a9a9a" stroke-width="0.6"/>
<line x1="385.42" y1="422.5" x2="385.42" y2="421.1" stroke="#9a9a9a" stroke-width="0.6"/>
<text x="324.2" y="379.14" font-size="7.3" text-anchor="end" fill="#4a4a4a">0.4</text>
<text x="385.42" y="432.1" font-size="7.3" text-anchor="middle" fill="#4a4a4a">0.4</text>
<line x1="326.3" y1="352.96000000000004" x2="327.7" y2="352.96000000000004" stroke="#9a9a9a" stroke-width="0.6"/>
<line x1="414.98" y1="422.5" x2="414.98" y2="421.1" stroke="#9a9a9a" stroke-width="0.6"/>
<text x="324.2" y="355.96000000000004" font-size="7.3" text-anchor="end" fill="#4a4a4a">0.6</text>
<text x="414.98" y="432.1" font-size="7.3" text-anchor="middle" fill="#4a4a4a">0.6</text>
<line x1="326.3" y1="329.78000000000003" x2="327.7" y2="329.78000000000003" stroke="#9a9a9a" stroke-width="0.6"/>
<line x1="444.54" y1="422.5" x2="444.54" y2="421.1" stroke="#9a9a9a" stroke-width="0.6"/>
<text x="324.2" y="332.78000000000003" font-size="7.3" text-anchor="end" fill="#4a4a4a">0.8</text>
<text x="444.54" y="432.1" font-size="7.3" text-anchor="middle" fill="#4a4a4a">0.8</text>
<line x1="326.3" y1="306.6" x2="327.7" y2="306.6" stroke="#9a9a9a" stroke-width="0.6"/>
<line x1="474.1" y1="422.5" x2="474.1" y2="421.1" stroke="#9a9a9a" stroke-width="0.6"/>
<text x="324.2" y="309.6" font-size="7.3" text-anchor="end" fill="#4a4a4a">1</text>
<text x="474.1" y="432.1" font-size="7.3" text-anchor="middle" fill="#4a4a4a">1</text>
<polyline points="326.3,134.9 326.3,65.6 474.3,65.6 474.3,134.9 326.3,134.9" fill="none" stroke="#b82fb0" stroke-width="1"/>
<line x1="474.3" y1="65.6" x2="499.8" y2="17.8" stroke="#b82fb0" stroke-width="1"/>
<line x1="474.3" y1="134.9" x2="499.8" y2="47" stroke="#b82fb0" stroke-width="1"/>
<rect x="500.0" y="17.8" width="47.8" height="28.2" fill="#fcbc38"/><path d="M502.2 36.4L507.5 36.0L510.5 36.9L511.9 38.9L519.4 39.9L526.1 39.6L528.4 38.1L530.6 38.0L534.4 39.0L535.8 39.8L536.3 40.8L536.2 43.0L535.1 44.9L531.4 45.7L526.1 45.1L524.6 44.4L522.4 45.1L513.4 45.1L510.5 44.7L508.2 43.2L500.0 43.0L500.0 36.5L502.2 36.4Z" fill="#96c341" fill-rule="evenodd"/><path d="M504.7 37.1L506.7 36.9L509.4 37.8L510.7 40.1L511.0 41.5L510.5 42.0L503.0 41.9L500.7 39.8L500.0 40.2L500.0 38.5L500.7 38.8L503.0 37.4L504.7 37.1ZM529.3 39.3L533.6 40.2L534.4 40.8L534.5 41.5L533.9 43.0L531.4 44.0L526.4 43.8L525.3 42.3L528.4 39.7L529.3 39.3ZM514.5 40.8L520.9 40.9L522.7 41.5L523.4 42.3L523.2 43.0L522.4 43.7L514.9 44.0L512.8 43.0L512.5 42.3L513.4 41.0L514.5 40.8Z" fill="#2ebda8" fill-rule="evenodd"/><path d="M505.1 37.8L507.5 37.8L508.5 38.6L508.7 40.1L508.1 40.8L506.7 41.2L503.0 40.7L502.6 40.1L503.0 38.8L505.1 37.8ZM528.5 40.8L529.1 40.3L530.6 40.2L532.2 40.8L532.6 41.5L531.4 42.8L529.9 42.9L528.6 42.3L528.3 41.5L528.5 40.8Z" fill="#16acd0" fill-rule="evenodd"/><path d="M505.9 38.6L506.7 38.6L507.4 39.3L506.8 40.1L505.2 40.1L504.5 39.3L505.9 38.6Z" fill="#2a8ce6" fill-rule="evenodd"/>
<rect x="549.4" y="17.8" width="47.8" height="28.2" fill="#fcbc38"/><path d="M549.4 34.9L551.6 34.3L555.4 34.2L562.8 35.5L565.1 35.1L568.8 35.6L571.1 35.2L576.3 35.6L578.5 34.9L580.8 35.0L583.0 36.4L584.4 40.8L584.4 42.3L583.9 43.8L583.0 44.8L579.3 45.6L577.0 45.3L574.8 45.7L571.8 45.2L565.1 45.8L557.6 45.7L554.6 46.0L549.4 45.4L549.4 34.9Z" fill="#96c341" fill-rule="evenodd"/><path d="M551.7 35.6L556.1 35.8L557.9 36.4L558.6 37.1L557.0 40.1L556.1 40.7L553.9 41.4L552.4 41.3L549.4 39.6L549.4 38.1L549.9 37.1L551.7 35.6ZM579.0 37.1L580.0 37.0L581.5 38.0L583.2 40.8L582.3 43.0L580.8 44.0L579.3 44.2L577.8 43.9L575.5 42.3L574.8 42.3L574.0 43.1L569.6 43.2L565.1 44.1L563.2 42.3L562.9 41.5L564.3 39.4L565.8 38.9L568.8 39.9L571.1 39.6L572.6 39.9L574.8 42.3L575.2 40.8L575.0 39.3L575.5 38.0L579.0 37.1Z" fill="#2ebda8" fill-rule="evenodd"/><path d="M552.7 37.1L554.6 36.7L556.1 37.1L556.0 37.8L555.4 38.3L553.9 38.6L552.8 37.8L552.7 37.1ZM577.3 39.3L579.3 38.7L580.8 39.0L582.0 40.8L581.6 42.3L580.0 43.1L577.8 42.7L577.0 41.9L576.7 40.8L577.3 39.3ZM565.8 40.8L567.3 40.8L568.6 41.5L568.1 42.0L566.6 41.9L565.7 41.5L565.8 40.8Z" fill="#16acd0" fill-rule="evenodd"/><path d="M578.5 40.1L580.1 40.1L580.4 40.8L580.0 41.6L579.3 42.0L578.1 41.5L577.9 40.8L578.5 40.1Z" fill="#2a8ce6" fill-rule="evenodd"/>
<rect x="598.8" y="17.8" width="47.8" height="28.2" fill="#fcbc38"/><path d="M604.7 33.4L610.0 33.0L613.0 33.9L617.5 33.6L621.2 34.2L622.7 33.7L627.9 34.1L630.2 33.8L632.4 34.3L633.5 35.6L634.6 39.3L634.7 41.5L634.0 44.5L632.9 46.0L614.8 46.0L613.0 45.5L611.6 46.0L606.3 45.7L603.8 44.5L603.1 43.0L602.3 39.3L602.7 35.6L603.6 34.1L604.7 33.4Z" fill="#96c341" fill-rule="evenodd"/><path d="M609.7 34.1L613.0 35.6L617.5 35.2L619.7 35.8L624.9 36.2L626.4 35.5L630.9 35.8L632.4 36.9L633.2 38.6L633.6 41.5L632.9 43.8L631.7 45.3L627.9 45.8L620.5 44.7L615.2 44.8L613.0 44.4L610.8 44.9L606.3 44.2L604.8 42.7L604.2 41.5L603.6 38.6L603.8 36.4L604.7 34.9L605.5 34.5L609.7 34.1Z" fill="#2ebda8" fill-rule="evenodd"/><path d="M605.3 35.6L609.3 35.0L615.2 37.4L619.7 37.2L620.5 37.4L620.6 38.6L621.2 39.4L622.0 39.3L623.4 38.0L624.9 38.2L627.2 37.1L629.4 37.3L630.9 37.8L631.8 38.6L632.6 40.8L632.7 42.3L631.7 44.2L628.7 44.9L625.7 44.7L619.0 43.2L616.0 43.8L613.0 43.3L609.3 43.3L606.3 42.2L605.5 41.5L604.4 37.8L604.7 36.4L605.3 35.6Z" fill="#16acd0" fill-rule="evenodd"/><path d="M606.0 36.4L608.5 35.8L610.0 36.1L612.5 37.8L612.7 38.6L612.2 40.1L611.5 40.8L609.3 41.3L607.0 41.1L605.4 38.6L605.4 37.1L606.0 36.4ZM627.1 38.6L630.2 39.0L630.9 39.5L631.9 41.5L631.7 42.8L630.9 43.6L628.7 44.1L626.4 44.0L623.9 43.0L623.2 42.3L623.3 41.5L624.7 40.1L627.1 38.6Z" fill="#2a8ce6" fill-rule="evenodd"/><path d="M606.8 37.1L608.5 36.7L610.0 37.0L611.0 38.6L610.9 39.3L609.8 40.1L607.8 40.3L606.2 38.6L606.2 37.8L606.8 37.1ZM626.4 40.1L627.9 39.7L629.4 40.1L630.3 40.8L630.7 42.3L630.0 43.0L628.7 43.3L626.4 43.0L625.5 42.3L625.3 41.5L626.4 40.1Z" fill="#3a5ef0" fill-rule="evenodd"/><path d="M607.8 37.8L608.8 37.8L609.4 38.6L608.5 39.3L607.8 39.0L607.4 38.6L607.8 37.8ZM627.9 40.8L629.0 41.5L628.7 42.3L627.4 42.3L626.8 41.5L627.9 40.8Z" fill="#3b34bf" fill-rule="evenodd"/>
<rect x="500.0" y="48.05" width="47.8" height="28.2" fill="#fcbc38"/><path d="M500.0 53.2L503.0 53.6L509.0 53.4L511.0 54.0L512.3 57.0L512.2 60.7L513.4 65.5L517.2 66.3L520.2 65.9L523.2 66.5L529.9 66.3L531.4 67.1L533.6 66.4L534.3 67.3L535.3 73.3L534.6 76.2L500.0 76.2L500.0 53.2Z" fill="#96c341" fill-rule="evenodd"/><path d="M503.3 56.2L504.5 56.0L506.7 57.4L507.9 59.9L510.5 61.4L511.1 62.1L511.0 64.4L513.7 69.6L514.8 74.0L512.7 74.9L512.0 76.2L500.0 76.2L500.0 58.9L502.1 57.7L503.3 56.2ZM528.3 70.3L529.9 69.9L532.9 71.5L533.6 72.4L533.5 74.8L532.2 76.2L526.7 76.2L524.2 74.8L524.0 74.0L524.6 73.3L524.9 71.8L526.1 71.5L528.3 70.3Z" fill="#2ebda8" fill-rule="evenodd"/><path d="M501.9 62.9L503.0 62.2L503.7 62.2L505.3 63.6L509.7 65.5L510.6 66.6L511.4 68.8L511.4 71.1L508.2 75.9L507.1 76.2L504.1 76.2L501.5 75.1L500.7 74.2L500.0 69.6L501.5 66.6L501.9 62.9ZM528.9 71.8L530.4 71.8L532.1 72.8L532.4 74.0L532.1 74.6L530.6 75.2L528.4 75.2L527.3 74.8L527.7 72.5L528.9 71.8Z" fill="#16acd0" fill-rule="evenodd"/><path d="M504.4 66.6L506.0 66.3L508.8 68.1L508.1 69.6L508.7 72.5L507.6 74.8L506.7 75.1L505.2 75.2L503.6 74.8L502.4 74.0L502.0 73.3L502.2 69.1L504.4 66.6Z" fill="#2a8ce6" fill-rule="evenodd"/><path d="M505.7 68.8L506.0 68.6L506.0 69.3L505.7 68.8ZM505.0 70.3L506.0 69.8L507.1 72.5L507.0 73.3L506.2 74.0L504.5 73.9L503.4 73.3L503.3 71.1L503.7 70.6L505.0 70.3Z" fill="#3a5ef0" fill-rule="evenodd"/>
<rect x="549.4" y="48.05" width="47.8" height="28.2" fill="#fcbc38"/><path d="M549.4 54.7L557.6 55.0L558.7 55.5L559.3 59.9L558.6 61.4L559.6 65.1L560.3 71.1L560.1 71.8L559.1 72.8L558.7 76.2L549.4 76.2L549.4 54.7ZM571.1 68.1L571.8 67.7L572.7 68.1L573.0 69.6L572.6 70.7L571.8 70.9L571.0 70.3L570.7 68.8L571.1 68.1ZM574.6 71.1L577.9 71.8L579.3 73.5L580.8 73.3L582.3 73.8L583.0 74.8L582.8 75.5L582.1 76.2L579.1 76.2L577.0 74.9L574.8 75.3L573.3 74.9L571.5 76.2L568.7 76.2L565.8 75.2L562.8 75.3L562.1 74.8L561.0 72.5L561.2 71.8L563.6 71.1L565.1 71.5L567.3 72.9L571.8 73.2L572.6 72.9L573.3 71.7L574.6 71.1Z" fill="#96c341" fill-rule="evenodd"/><path d="M549.4 62.1L550.9 63.2L552.4 62.1L554.6 62.1L556.1 64.4L557.6 64.9L558.4 65.8L558.4 70.3L557.4 74.0L555.4 76.2L553.9 76.2L550.9 75.3L550.0 74.8L549.6 74.0L549.4 71.3L549.8 68.1L549.4 67.3L549.4 62.1ZM550.1 63.4L550.1 63.6L550.1 63.4Z" fill="#2ebda8" fill-rule="evenodd"/><path d="M552.7 65.9L553.1 65.6L553.9 65.9L555.9 68.8L555.3 71.8L556.2 73.3L555.4 74.3L553.1 74.3L551.9 73.3L551.9 71.1L552.8 68.8L552.2 66.6L552.7 65.9Z" fill="#16acd0" fill-rule="evenodd"/>
<rect x="598.8" y="48.05" width="47.8" height="28.2" fill="#fcbc38"/><path d="M598.8 65.1L598.8 64.5L604.8 64.4L607.8 65.0L610.0 64.5L614.2 65.1L615.6 68.1L615.7 74.0L613.7 75.1L610.0 74.8L604.8 74.8L602.5 75.4L598.8 75.2L598.8 65.1ZM625.8 66.6L630.9 66.1L632.4 66.4L633.2 66.9L634.1 69.6L634.1 71.1L632.4 74.7L627.9 75.4L626.4 75.2L624.9 74.1L624.3 72.5L624.3 71.1L624.8 68.1L625.8 66.6ZM638.1 72.5L639.9 72.4L642.4 73.3L642.8 74.0L640.6 74.7L638.4 74.5L637.7 73.3L638.1 72.5Z" fill="#96c341" fill-rule="evenodd"/><path d="M601.0 65.9L604.8 65.6L606.5 66.6L607.6 68.1L607.7 70.3L607.3 71.1L603.3 73.5L599.5 72.5L598.8 69.9L598.9 68.8L600.0 66.6L601.0 65.9ZM609.7 66.6L610.3 66.6L609.7 66.6ZM626.5 68.1L627.9 67.5L630.2 67.4L631.7 67.8L632.6 68.8L632.9 70.3L632.6 71.1L631.7 72.4L629.6 74.0L627.6 74.0L625.8 72.5L625.6 71.8L625.6 70.3L626.5 68.1ZM612.8 71.1L613.0 70.5L613.8 71.8L613.9 72.5L613.0 73.1L612.1 72.5L612.8 71.1Z" fill="#2ebda8" fill-rule="evenodd"/><path d="M601.3 68.1L604.8 67.5L605.6 68.1L605.8 69.6L604.8 70.6L602.1 70.3L600.8 69.6L600.8 68.8L601.3 68.1ZM627.5 68.8L628.7 68.8L629.3 69.6L629.7 71.1L629.4 71.4L628.7 71.8L627.2 71.7L626.7 70.3L627.5 68.8Z" fill="#16acd0" fill-rule="evenodd"/>
<rect x="500.0" y="78.3" width="47.8" height="28.2" fill="#fcbc38"/><path d="M504.8 83.5L507.5 83.2L510.5 84.3L511.0 85.7L511.4 91.7L510.9 94.6L511.2 95.7L512.7 97.2L513.4 97.3L516.4 96.5L520.9 96.4L523.2 96.9L526.9 96.3L530.6 96.4L532.9 97.1L536.6 96.4L546.3 96.7L547.8 97.4L547.8 106.5L500.0 106.5L500.0 83.6L504.8 83.5Z" fill="#96c341" fill-rule="evenodd"/><path d="M501.3 85.7L502.2 85.2L504.5 85.5L505.2 85.9L506.0 87.1L506.7 87.4L507.8 87.2L509.0 86.0L509.5 86.5L508.0 91.7L509.2 93.1L509.7 96.1L508.3 97.6L507.0 101.3L506.0 102.6L505.2 103.2L502.2 102.8L500.0 104.7L500.0 92.8L501.5 93.0L502.0 91.7L501.9 90.9L500.0 87.9L500.2 87.2L501.3 85.7ZM527.6 98.3L528.6 98.3L528.8 99.1L528.4 99.5L527.7 99.1L527.6 98.3ZM524.0 99.8L525.5 99.8L525.4 100.4L524.6 100.4L524.0 99.8ZM530.7 99.8L532.9 99.5L535.1 100.7L538.1 99.6L538.8 100.3L542.6 100.0L545.6 101.6L547.0 102.8L547.6 105.8L547.0 106.5L538.8 106.5L537.2 104.3L537.1 103.5L538.5 101.3L538.1 100.7L535.8 101.4L535.3 102.0L535.2 104.3L533.6 105.4L532.1 105.3L529.9 104.3L527.6 104.0L526.9 104.0L526.1 104.9L525.4 105.0L525.1 104.3L526.1 102.0L526.9 101.9L528.4 100.1L530.7 99.8ZM517.6 100.6L517.9 100.1L518.7 100.2L521.3 101.3L523.2 101.3L524.0 104.3L523.8 105.0L522.4 106.4L520.2 105.7L519.2 106.5L516.7 106.5L514.9 105.2L513.4 104.7L513.1 104.3L513.4 103.4L515.7 103.0L517.6 100.6ZM502.5 105.8L503.0 105.1L503.7 105.4L504.4 106.5L502.2 106.5L502.5 105.8Z" fill="#2ebda8" fill-rule="evenodd"/><path d="M505.7 90.2L506.0 90.0L506.0 90.4L505.7 90.2ZM505.0 90.9L505.2 90.6L505.5 90.9L505.0 90.9ZM502.0 95.4L503.0 95.2L504.5 95.7L505.6 97.6L505.6 99.1L504.9 100.6L503.0 101.4L501.5 101.3L500.0 99.6L500.0 96.8L500.7 95.8L502.0 95.4ZM540.8 102.8L541.8 102.2L544.1 102.5L545.8 103.5L546.3 105.0L544.8 106.1L542.6 106.3L540.3 105.8L539.6 105.1L539.3 104.3L540.8 102.8Z" fill="#16acd0" fill-rule="evenodd"/><path d="M501.5 97.6L502.2 97.0L503.7 97.5L504.2 98.3L504.0 99.8L503.0 100.4L501.5 100.1L501.0 99.1L501.5 97.6ZM542.1 103.5L543.3 103.4L544.7 104.3L544.1 105.0L541.8 105.0L541.4 104.3L542.1 103.5Z" fill="#2a8ce6" fill-rule="evenodd"/>
<rect x="549.4" y="78.3" width="47.8" height="28.2" fill="#fcbc38"/><path d="M550.0 83.5L557.6 83.4L559.5 84.2L560.1 85.7L560.5 89.4L560.4 95.4L560.9 96.1L568.8 96.9L571.8 96.3L577.0 96.3L577.8 96.7L579.0 99.1L579.2 106.5L549.4 106.5L549.4 83.6L550.0 83.5Z" fill="#96c341" fill-rule="evenodd"/><path d="M553.8 85.7L555.4 85.4L557.6 86.3L558.0 88.7L559.0 90.9L559.1 91.7L558.0 93.9L559.8 97.6L560.6 100.6L560.1 102.0L558.2 102.8L557.7 103.5L558.4 105.4L559.1 105.7L559.4 106.5L556.3 106.5L555.4 105.9L554.8 106.5L550.3 106.5L550.8 105.8L550.7 105.0L549.4 104.1L549.4 96.3L550.1 93.1L549.5 91.7L551.9 88.7L552.4 86.6L553.8 85.7ZM565.3 101.3L566.6 101.2L568.8 102.3L571.1 102.1L574.0 102.4L574.8 101.9L575.5 102.0L576.3 104.2L577.0 104.5L577.3 105.0L577.0 105.4L575.5 105.0L573.3 106.0L570.5 106.5L566.6 106.5L565.1 105.3L563.6 105.8L562.8 105.5L561.6 104.3L561.4 102.8L562.1 102.1L563.6 102.1L564.4 102.8L564.3 103.6L565.1 104.0L565.4 102.8L564.8 102.0L565.3 101.3Z" fill="#2ebda8" fill-rule="evenodd"/><path d="M552.4 96.1L553.1 95.7L556.1 95.9L557.1 96.9L557.1 99.8L555.4 102.7L552.4 102.6L551.2 101.3L551.0 99.1L552.4 96.1ZM569.7 103.5L572.6 103.5L573.1 104.3L571.9 105.0L569.6 105.1L568.8 104.3L569.7 103.5Z" fill="#16acd0" fill-rule="evenodd"/><path d="M553.2 99.1L553.9 98.6L555.0 99.1L555.2 100.6L554.6 101.1L553.4 100.6L553.2 99.1Z" fill="#2a8ce6" fill-rule="evenodd"/>
<rect x="598.8" y="78.3" width="47.8" height="28.2" fill="#fcbc38"/><path d="M605.2 82.0L607.8 82.2L609.3 83.5L609.1 85.7L609.8 91.7L609.5 93.9L610.0 94.9L611.4 96.1L613.0 96.6L618.2 96.1L622.7 96.2L624.9 96.8L627.9 96.2L630.9 96.6L633.2 96.4L634.4 96.9L634.6 97.3L635.4 97.3L636.9 96.6L641.4 96.5L642.1 96.9L643.3 100.6L644.3 104.3L644.1 105.8L643.6 106.5L598.8 106.5L598.8 82.5L605.2 82.0Z" fill="#96c341" fill-rule="evenodd"/><path d="M604.6 85.7L605.5 85.8L607.2 87.9L607.2 89.4L608.4 90.9L608.4 91.7L607.8 93.1L607.7 94.6L611.5 98.3L611.7 100.6L612.2 101.1L614.3 99.8L614.5 98.3L615.3 98.3L615.2 99.6L614.5 100.6L615.2 101.0L618.2 98.9L619.7 98.9L622.0 97.7L622.7 97.7L624.6 99.8L627.2 100.8L628.7 102.3L629.3 101.3L630.2 100.9L635.4 100.8L638.4 100.3L640.6 101.3L642.1 102.9L642.5 105.0L641.8 106.5L632.0 106.5L630.2 105.8L628.7 106.5L627.9 105.0L625.7 105.2L624.9 104.5L624.2 104.5L622.5 105.0L621.6 106.5L619.0 105.8L618.1 106.5L617.1 106.5L616.7 105.0L615.2 104.2L614.8 103.5L614.5 101.4L613.7 101.7L612.2 101.5L610.1 103.5L609.3 105.4L608.5 105.5L607.9 105.0L608.0 104.3L607.3 103.5L605.5 102.5L603.3 101.8L601.8 100.8L600.1 98.3L599.5 96.4L598.8 96.0L598.8 94.5L599.3 93.1L598.8 91.8L598.8 89.6L600.3 89.9L602.5 88.0L604.1 87.9L604.6 85.7ZM611.9 105.0L613.0 104.4L613.6 105.0L612.2 106.1L611.8 105.8L611.9 105.0Z" fill="#2ebda8" fill-rule="evenodd"/><path d="M603.0 90.2L604.0 90.1L605.5 91.7L605.0 94.6L608.5 96.9L609.9 98.3L610.0 99.1L608.5 100.9L604.8 100.7L602.5 99.1L602.0 97.6L602.1 95.4L601.5 92.4L603.0 90.2ZM634.1 102.0L637.6 101.8L639.1 102.1L640.9 103.5L641.1 105.0L639.9 106.3L634.6 106.5L633.4 105.8L632.4 104.3L633.2 102.8L634.1 102.0Z" fill="#16acd0" fill-rule="evenodd"/><path d="M604.0 97.6L606.3 97.0L607.4 97.6L607.9 98.3L607.7 99.1L606.3 99.8L604.8 99.5L603.8 98.3L604.0 97.6ZM635.9 102.8L637.6 102.7L639.1 103.3L640.0 104.3L639.9 105.0L637.6 105.9L634.6 105.3L634.2 104.3L634.5 103.5L635.9 102.8Z" fill="#2a8ce6" fill-rule="evenodd"/><path d="M635.9 104.3L636.9 103.8L638.4 104.3L637.6 105.0L635.9 104.3Z" fill="#3a5ef0" fill-rule="evenodd"/>
<rect x="500.0" y="108.55" width="47.8" height="28.2" fill="#fcbc38"/><path d="M506.8 115.2L513.4 115.2L514.9 115.5L516.4 116.4L516.8 117.5L517.2 124.9L517.9 125.6L530.6 125.0L537.3 125.6L541.8 125.2L544.8 125.5L545.6 126.2L545.7 127.1L545.9 136.8L500.0 136.8L500.0 115.3L506.8 115.2Z" fill="#96c341" fill-rule="evenodd"/><path d="M507.4 116.7L508.1 116.7L507.4 116.7ZM512.4 118.9L513.4 118.3L514.2 118.3L514.8 118.9L514.2 120.0L512.7 120.2L512.2 119.7L512.4 118.9ZM509.4 121.9L509.7 121.6L510.2 121.9L509.4 121.9ZM508.9 126.4L509.7 126.1L510.0 126.4L509.7 126.7L508.9 126.4ZM511.8 128.6L514.9 128.3L515.7 129.0L517.9 129.1L520.2 129.9L522.4 129.5L523.9 130.5L524.6 130.6L528.4 130.4L528.9 130.1L529.2 128.6L529.9 128.3L530.6 130.1L529.9 131.0L529.4 133.0L529.4 136.0L528.9 136.8L528.1 136.8L525.8 134.5L522.4 134.4L520.2 135.1L518.7 134.7L517.2 135.5L514.9 135.9L511.9 136.2L506.7 135.6L505.2 136.1L503.7 136.0L502.4 136.8L500.0 136.8L500.0 130.0L502.2 130.2L504.5 128.6L509.0 128.7L510.5 129.3L511.8 128.6ZM519.3 136.8L520.2 136.1L521.0 136.8L519.3 136.8Z" fill="#2ebda8" fill-rule="evenodd"/><path d="M510.0 130.8L512.7 130.3L514.9 131.0L517.2 130.5L517.9 130.8L518.5 132.3L516.4 134.1L512.0 134.7L509.0 134.3L507.5 133.3L505.2 133.2L504.5 132.7L504.5 132.1L505.2 131.3L507.5 131.4L510.0 130.8Z" fill="#16acd0" fill-rule="evenodd"/><path d="M511.0 132.3L513.2 132.3L513.5 133.0L511.5 133.0L511.0 132.3Z" fill="#2a8ce6" fill-rule="evenodd"/>
<rect x="549.4" y="108.55" width="47.8" height="28.2" fill="#fcbc38"/><path d="M549.4 114.5L549.4 114.0L556.1 113.7L559.1 114.0L559.7 114.5L560.2 116.0L560.3 123.4L561.3 125.6L565.8 126.9L570.3 126.3L573.5 127.1L574.2 127.8L574.4 129.3L574.6 136.8L549.4 136.8L549.4 114.5Z" fill="#96c341" fill-rule="evenodd"/><path d="M556.1 115.2L556.9 115.2L557.9 116.0L558.1 116.7L556.7 118.2L556.7 118.9L558.4 120.8L558.5 123.4L558.4 124.1L557.6 124.4L556.1 123.0L555.5 123.4L555.9 124.1L556.9 124.5L558.0 125.6L559.1 125.9L560.5 127.1L560.9 127.8L561.1 131.6L562.1 133.1L562.8 133.5L564.3 132.5L568.1 130.8L569.0 131.6L571.5 132.3L571.4 134.5L570.3 135.3L569.8 136.0L569.9 136.8L568.4 136.8L568.2 136.0L567.3 135.8L565.8 136.0L565.3 136.8L563.3 136.8L562.1 135.0L561.3 135.0L560.9 136.8L557.1 136.8L557.2 135.3L556.9 135.1L556.1 135.9L555.4 136.0L549.4 134.9L549.4 125.9L551.1 124.9L551.3 124.1L550.9 123.1L549.9 122.7L549.6 121.9L550.8 121.2L550.9 120.4L549.8 118.9L551.6 118.4L553.1 117.0L556.1 115.2ZM569.8 127.8L570.5 127.8L570.3 128.7L569.8 128.6L569.8 127.8Z" fill="#2ebda8" fill-rule="evenodd"/><path d="M552.5 126.4L553.9 125.7L554.6 125.9L556.9 126.8L558.2 127.8L559.5 130.1L559.2 132.3L553.9 133.5L551.6 133.0L549.4 131.1L549.4 128.5L552.5 126.4Z" fill="#16acd0" fill-rule="evenodd"/><path d="M552.5 127.8L553.9 127.3L556.1 127.8L556.9 129.3L556.9 130.8L555.9 131.6L553.9 132.1L552.4 131.7L551.3 130.1L551.8 128.6L552.5 127.8Z" fill="#2a8ce6" fill-rule="evenodd"/><path d="M553.7 128.6L554.6 128.8L555.1 129.3L553.9 130.2L553.1 129.9L552.9 129.3L553.7 128.6Z" fill="#3a5ef0" fill-rule="evenodd"/>
<rect x="598.8" y="108.55" width="47.8" height="28.2" fill="#fcbc38"/><path d="M601.7 116.7L605.5 116.5L607.8 117.0L609.1 121.2L609.4 125.6L610.1 126.4L615.2 126.8L618.2 126.6L620.5 128.1L623.4 126.6L627.2 126.9L633.9 126.7L636.1 127.1L640.6 126.5L642.1 126.8L643.0 127.8L643.0 130.1L644.8 133.8L644.8 134.5L644.0 136.8L598.8 136.8L598.8 117.0L601.7 116.7Z" fill="#96c341" fill-rule="evenodd"/><path d="M601.0 119.7L605.5 120.9L607.0 120.8L607.9 122.7L607.8 124.9L608.3 128.6L607.0 129.7L603.3 131.3L601.8 131.1L598.8 128.8L599.1 122.6L600.0 120.4L601.0 119.7ZM639.7 128.6L640.6 128.3L640.9 128.6L640.4 130.1L643.2 133.8L642.5 136.8L632.1 136.8L630.9 135.1L628.7 134.3L626.4 134.9L624.2 134.8L623.4 135.8L623.4 136.8L619.1 136.8L619.0 135.5L618.2 135.0L616.9 135.3L616.0 136.5L614.5 134.5L612.2 134.7L610.8 135.3L609.8 134.5L610.0 133.8L611.5 133.5L613.4 132.3L613.7 130.5L615.2 130.9L616.7 129.6L620.5 130.6L622.0 129.3L622.7 129.2L624.2 130.5L626.4 130.2L627.9 129.2L629.2 130.1L630.2 131.6L631.7 132.3L633.9 131.5L636.1 131.4L639.7 128.6ZM601.2 132.3L602.5 131.7L605.5 133.8L607.8 133.8L607.8 134.5L605.8 136.8L598.8 136.8L598.8 132.4L601.2 132.3Z" fill="#2ebda8" fill-rule="evenodd"/><path d="M602.5 122.7L605.5 122.7L606.5 123.4L606.9 126.4L606.6 127.1L604.8 128.4L601.4 127.8L600.7 127.1L600.6 125.6L601.0 124.0L601.8 122.7L602.5 122.7ZM637.1 132.3L639.1 131.7L640.6 132.2L642.0 133.8L641.7 135.3L639.1 136.2L636.9 135.5L635.7 134.5L635.4 133.8L637.1 132.3ZM599.7 133.8L601.0 133.3L602.5 133.4L604.3 134.5L604.6 135.3L604.4 136.0L603.6 136.8L598.8 136.8L598.8 134.6L599.7 133.8Z" fill="#16acd0" fill-rule="evenodd"/><path d="M602.3 124.9L603.3 124.5L604.8 124.7L605.2 125.6L605.0 126.4L604.0 127.0L603.3 126.9L602.1 125.6L602.3 124.9ZM637.8 133.0L639.9 132.9L640.5 133.8L640.3 134.5L639.1 135.0L637.6 134.7L637.1 133.8L637.8 133.0ZM599.9 134.5L601.8 134.0L603.0 134.5L603.3 135.3L602.5 136.3L600.3 136.4L599.4 136.0L599.4 135.3L599.9 134.5Z" fill="#2a8ce6" fill-rule="evenodd"/><path d="M600.6 135.3L601.0 135.0L601.9 135.3L601.0 135.5L600.6 135.3Z" fill="#3a5ef0" fill-rule="evenodd"/>
<rect x="500.0" y="160.4" width="47.8" height="28.2" fill="#fcbc38"/><path d="M500.0 166.3L500.0 165.9L501.5 165.7L504.5 166.1L507.5 165.9L509.7 166.7L514.2 166.9L516.1 168.6L516.3 170.0L514.9 172.0L509.3 173.0L509.0 173.8L508.9 177.5L507.5 179.6L505.2 180.3L500.0 180.2L500.0 166.3ZM500.0 183.4L500.0 183.0L502.2 183.4L504.5 182.9L515.7 183.4L517.9 183.1L520.2 183.5L522.9 183.4L524.6 182.9L529.9 183.1L532.5 184.1L532.7 188.6L500.0 188.6L500.0 183.4Z" fill="#96c341" fill-rule="evenodd"/><path d="M500.1 167.1L502.2 166.8L505.2 167.3L507.5 166.9L509.7 167.9L513.4 167.9L514.6 168.6L514.9 170.0L514.2 170.8L508.6 172.3L507.8 173.0L507.5 175.7L506.0 178.0L505.2 178.3L503.7 177.3L502.2 177.4L501.5 177.0L500.0 177.2L500.0 174.8L500.5 174.5L500.0 173.8L500.1 167.1ZM504.2 184.9L505.2 184.3L509.7 184.3L517.2 185.8L521.7 184.5L526.9 184.5L529.9 185.8L530.8 187.1L530.6 187.7L528.2 188.6L526.1 188.3L523.2 188.6L505.5 188.6L503.9 186.4L504.2 184.9Z" fill="#2ebda8" fill-rule="evenodd"/><path d="M506.2 167.8L507.5 167.7L512.2 169.3L512.1 170.0L505.2 173.3L503.2 172.3L500.0 171.9L500.0 168.3L502.2 167.9L506.2 167.8ZM506.3 185.6L509.7 185.5L511.0 186.4L509.7 187.8L508.2 187.8L506.8 187.1L506.3 185.6ZM521.9 185.6L525.6 186.4L522.4 186.8L521.6 186.4L521.9 185.6Z" fill="#16acd0" fill-rule="evenodd"/><path d="M505.7 168.6L507.5 168.5L509.7 170.0L507.5 171.4L505.2 171.9L503.0 171.3L501.2 170.0L501.3 169.3L502.2 168.9L505.7 168.6Z" fill="#2a8ce6" fill-rule="evenodd"/><path d="M506.4 169.3L507.5 169.5L507.9 170.0L507.5 170.5L506.0 170.8L504.2 170.0L506.4 169.3Z" fill="#3a5ef0" fill-rule="evenodd"/>
<rect x="549.4" y="160.4" width="47.8" height="28.2" fill="#fcbc38"/><path d="M549.4 165.6L550.9 165.2L554.6 165.1L558.4 166.0L559.1 166.9L559.5 167.8L559.9 172.3L559.4 174.5L559.5 178.2L559.1 179.3L558.4 180.0L556.1 180.6L553.9 181.9L549.4 180.2L549.4 165.6ZM549.9 182.7L552.7 182.7L553.9 181.9L555.4 182.7L559.9 183.5L573.3 183.0L582.3 183.6L583.2 186.4L583.0 188.6L549.4 188.6L549.4 182.7L549.9 182.7Z" fill="#96c341" fill-rule="evenodd"/><path d="M551.6 166.3L553.9 166.1L556.9 167.1L558.0 168.6L558.7 171.5L558.4 173.0L557.6 174.0L557.4 176.7L555.6 179.0L553.9 179.9L550.8 179.0L549.4 177.6L549.4 167.2L551.6 166.3ZM549.4 184.1L553.1 183.8L554.6 184.1L556.7 185.6L557.0 187.1L555.9 188.6L549.4 188.6L549.4 184.1ZM562.8 184.9L566.6 185.3L571.8 184.5L577.8 185.2L578.6 185.6L578.7 186.4L577.8 187.5L575.5 187.9L574.6 188.6L568.5 188.6L567.3 188.1L566.4 188.6L563.8 188.6L561.3 186.0L560.2 187.9L560.4 188.6L559.3 188.6L559.6 187.9L558.7 186.4L558.7 185.6L561.3 185.6L562.8 184.9Z" fill="#2ebda8" fill-rule="evenodd"/><path d="M551.1 167.8L553.1 167.1L554.6 167.4L556.1 168.2L557.1 170.0L557.0 172.3L556.1 173.5L554.5 174.5L553.9 176.7L553.1 177.1L550.5 173.8L549.4 170.8L550.0 168.6L551.1 167.8ZM549.9 184.9L552.4 184.7L553.9 185.1L554.7 186.4L553.9 188.2L553.3 188.6L549.6 188.6L549.4 185.2L549.9 184.9Z" fill="#16acd0" fill-rule="evenodd"/><path d="M552.0 168.6L553.9 168.3L555.4 169.2L556.1 170.8L555.4 172.2L553.1 173.1L551.2 172.3L550.8 171.5L550.7 170.0L552.0 168.6ZM551.3 185.6L552.7 186.4L552.4 187.0L551.6 187.1L550.9 186.6L550.9 185.9L551.3 185.6Z" fill="#2a8ce6" fill-rule="evenodd"/><path d="M552.1 170.0L553.1 169.4L553.9 169.6L554.6 170.5L554.6 171.2L553.9 171.8L552.4 171.6L551.9 170.8L552.1 170.0Z" fill="#3a5ef0" fill-rule="evenodd"/>
<rect x="598.8" y="160.4" width="47.8" height="28.2" fill="#fcbc38"/><path d="M600.0 167.8L604.0 167.7L607.0 168.4L608.0 169.3L608.7 171.5L607.7 179.7L608.5 181.6L611.5 182.2L614.5 182.0L623.4 182.3L624.9 182.0L630.2 182.4L631.7 184.1L632.3 185.6L631.3 188.6L598.8 188.6L598.8 168.0L600.0 167.8Z" fill="#96c341" fill-rule="evenodd"/><path d="M598.8 169.3L603.3 168.8L607.0 170.2L607.4 171.5L607.1 175.2L606.2 177.5L606.5 181.2L607.1 182.7L609.3 185.7L611.2 187.1L611.0 188.6L598.8 188.6L598.8 178.3L599.3 177.5L599.5 175.2L598.8 174.3L598.8 169.3ZM620.8 184.1L627.2 183.8L630.2 185.2L630.6 186.4L630.2 187.1L626.9 188.6L619.0 188.4L616.7 187.5L613.7 188.6L613.3 187.9L613.1 185.6L613.7 185.2L616.0 185.2L618.2 184.3L620.8 184.1Z" fill="#2ebda8" fill-rule="evenodd"/><path d="M599.7 170.0L603.3 170.0L605.8 170.8L606.3 171.5L606.3 172.3L605.5 173.9L602.5 175.0L601.8 175.2L601.0 174.7L598.8 172.7L598.8 170.6L599.7 170.0ZM601.7 179.0L604.0 178.3L604.8 178.8L604.8 179.8L603.4 181.2L603.5 181.9L606.8 184.9L607.0 186.4L606.4 188.6L598.8 188.6L598.8 183.2L600.3 183.3L601.0 182.7L601.6 181.2L601.7 179.0ZM619.2 185.6L622.0 185.1L627.2 185.4L627.7 185.6L627.9 186.4L627.1 187.1L624.2 187.9L618.6 186.4L619.2 185.6Z" fill="#16acd0" fill-rule="evenodd"/><path d="M600.3 171.5L601.8 170.9L604.0 171.2L604.9 171.5L605.0 172.3L604.0 172.9L601.8 173.4L600.4 172.3L600.3 171.5ZM598.9 184.9L602.5 184.6L603.3 184.9L605.0 186.4L604.8 187.9L604.2 188.6L598.8 188.6L598.9 184.9Z" fill="#2a8ce6" fill-rule="evenodd"/><path d="M600.8 185.6L603.3 186.1L603.8 187.1L603.5 187.9L602.1 188.6L600.0 188.6L599.5 188.3L598.9 187.1L599.2 186.4L600.8 185.6Z" fill="#3a5ef0" fill-rule="evenodd"/><path d="M600.3 187.1L601.0 186.7L602.5 187.1L601.0 187.8L600.3 187.1Z" fill="#3b34bf" fill-rule="evenodd"/>
<rect x="500.0" y="190.65" width="47.8" height="28.2" fill="#fcbc38"/><path d="M500.8 195.8L502.2 195.6L506.0 195.9L507.8 196.6L509.2 200.3L509.1 209.2L509.4 211.4L509.9 212.2L512.7 213.2L524.6 212.6L526.9 213.0L530.6 213.0L531.8 213.7L532.9 215.9L532.9 218.8L500.0 218.8L500.0 196.1L500.8 195.8Z" fill="#96c341" fill-rule="evenodd"/><path d="M500.6 197.3L501.5 196.9L505.2 197.6L506.7 198.4L507.5 199.6L507.9 206.2L507.4 208.5L507.4 211.4L508.7 214.4L509.4 218.8L500.0 218.8L500.0 197.8L500.6 197.3ZM523.8 214.4L526.9 215.8L528.4 215.7L529.9 216.8L530.6 216.9L530.8 217.4L529.1 218.5L527.6 217.6L526.9 217.5L525.8 218.8L516.3 218.8L514.9 217.1L514.2 217.6L513.7 218.8L512.7 218.8L511.8 216.6L511.9 215.8L515.7 215.6L517.9 214.5L520.2 214.5L521.7 215.0L523.8 214.4Z" fill="#2ebda8" fill-rule="evenodd"/><path d="M500.8 198.8L501.5 198.5L504.5 198.6L506.0 199.5L506.4 200.3L506.2 202.5L504.1 204.8L503.7 205.7L503.0 205.9L500.0 204.8L500.0 199.4L500.8 198.8ZM500.4 214.4L502.2 213.9L506.0 214.7L506.7 215.2L507.4 216.6L507.5 218.8L500.0 218.8L500.0 214.5L500.4 214.4ZM522.8 216.6L523.9 216.2L524.6 216.6L524.2 217.4L523.2 217.5L522.5 217.4L522.8 216.6Z" fill="#16acd0" fill-rule="evenodd"/><path d="M501.4 199.6L504.5 199.8L505.4 201.0L505.2 202.1L503.0 203.6L500.5 203.3L500.0 202.8L500.0 200.6L501.4 199.6ZM500.6 215.9L502.2 215.6L503.7 215.9L505.5 216.6L505.9 217.4L505.6 218.1L504.2 218.8L500.0 218.8L500.0 216.1L500.6 215.9Z" fill="#2a8ce6" fill-rule="evenodd"/><path d="M501.2 201.0L502.2 200.6L503.7 200.8L504.1 201.8L503.0 202.5L501.9 202.5L501.0 201.8L501.2 201.0ZM501.2 216.6L503.0 216.6L504.0 217.4L503.6 218.1L501.5 218.4L500.8 218.1L500.5 217.4L501.2 216.6Z" fill="#3a5ef0" fill-rule="evenodd"/>
<rect x="549.4" y="190.65" width="47.8" height="28.2" fill="#fcbc38"/><path d="M550.5 195.8L553.1 195.6L557.6 195.9L558.8 196.6L559.5 201.8L558.9 207.7L559.8 211.4L560.6 212.1L566.6 212.7L571.8 212.2L582.3 212.8L583.2 214.4L582.9 218.8L549.4 218.8L549.4 196.0L550.5 195.8Z" fill="#96c341" fill-rule="evenodd"/><path d="M551.3 197.3L553.1 196.9L557.2 197.3L557.5 198.1L557.1 200.3L558.2 204.8L557.6 206.2L556.7 207.0L556.3 208.5L557.4 211.4L559.9 214.4L562.8 215.3L565.1 214.2L567.3 214.8L571.1 213.7L574.0 213.7L578.5 215.8L580.6 218.8L578.8 218.8L579.0 218.1L578.5 217.9L575.5 218.1L573.4 218.8L565.0 218.8L563.6 218.3L561.8 218.8L549.4 218.8L549.4 210.3L550.4 209.9L550.7 209.2L549.4 207.8L549.4 198.7L551.3 197.3ZM551.6 211.3L551.9 212.2L554.5 212.2L553.9 211.1L552.4 211.0L551.6 211.3Z" fill="#2ebda8" fill-rule="evenodd"/><path d="M550.9 199.6L551.6 199.4L553.9 200.2L554.6 201.0L555.0 204.8L552.4 207.5L550.9 207.0L549.4 205.5L549.4 200.4L550.9 199.6ZM551.8 214.4L553.9 213.9L557.6 215.1L559.3 216.6L559.6 217.4L559.4 218.9L549.4 218.8L549.4 215.6L551.8 214.4ZM570.6 215.9L573.3 215.8L573.6 216.6L571.1 217.0L568.8 218.0L567.7 217.4L567.5 216.6L568.1 216.3L570.6 215.9Z" fill="#16acd0" fill-rule="evenodd"/><path d="M550.8 203.3L551.6 202.7L552.4 202.7L553.4 203.3L553.6 204.0L553.1 204.6L551.6 204.9L550.9 204.1L550.8 203.3ZM552.1 215.9L553.9 215.5L556.9 216.1L557.8 216.6L558.2 217.4L557.9 218.1L556.3 218.8L551.8 218.8L550.2 218.1L549.8 217.4L552.1 215.9Z" fill="#2a8ce6" fill-rule="evenodd"/><path d="M552.6 216.6L554.6 216.5L556.0 217.4L555.4 218.1L553.1 218.3L551.9 217.4L552.6 216.6Z" fill="#3a5ef0" fill-rule="evenodd"/>
<rect x="598.8" y="190.65" width="47.8" height="28.2" fill="#fcbc38"/><path d="M598.8 197.3L598.8 196.9L605.5 196.7L607.0 196.9L608.4 198.1L609.1 201.0L609.0 205.5L608.5 209.2L607.8 210.2L605.5 210.5L602.5 209.7L598.8 210.1L598.8 197.3ZM598.8 213.7L598.8 213.1L599.5 213.1L613.7 213.5L627.2 213.3L630.2 213.6L630.9 214.0L631.8 216.6L631.0 218.9L598.8 218.8L598.8 213.7Z" fill="#96c341" fill-rule="evenodd"/><path d="M598.8 198.8L601.8 199.5L604.0 198.4L606.3 198.8L607.3 201.0L606.9 207.7L606.3 208.2L604.0 208.4L598.8 207.1L598.8 198.8ZM621.5 214.4L624.2 214.3L626.7 215.1L627.9 216.6L627.8 218.1L627.3 218.8L621.6 218.8L619.0 218.4L616.9 217.4L615.8 215.9L616.0 215.1L621.5 214.4ZM599.6 215.1L601.0 214.8L606.3 215.1L607.2 216.6L606.1 218.8L602.4 218.8L600.8 218.1L600.2 217.4L600.1 215.9L599.6 215.1Z" fill="#2ebda8" fill-rule="evenodd"/><path d="M602.9 204.0L603.4 204.0L603.7 204.8L603.3 205.0L602.4 204.8L602.9 204.0ZM622.8 215.1L625.7 215.8L626.2 216.6L626.2 217.4L624.9 217.9L622.7 217.9L619.7 217.4L619.1 216.6L620.5 215.6L622.8 215.1ZM602.4 216.6L604.9 216.6L604.6 217.4L604.0 217.6L603.0 217.4L602.4 216.6Z" fill="#16acd0" fill-rule="evenodd"/>
<rect x="500.0" y="220.9" width="47.8" height="28.2" fill="#fcbc38"/><path d="M502.0 228.3L507.5 228.8L509.5 229.8L510.0 231.3L509.8 239.5L510.1 240.9L510.8 241.7L519.4 241.9L520.9 242.2L523.9 241.8L531.4 242.2L532.1 242.4L532.7 243.2L532.9 249.1L500.0 249.1L500.0 228.5L502.0 228.3Z" fill="#96c341" fill-rule="evenodd"/><path d="M500.5 229.8L503.7 229.6L506.0 230.2L507.1 231.3L507.4 232.8L506.7 238.7L507.1 240.2L510.6 243.9L510.1 247.6L511.1 249.1L500.0 249.1L500.0 241.5L500.8 240.9L500.8 240.2L500.0 238.2L500.0 229.9L500.5 229.8ZM522.4 243.9L528.4 244.3L530.6 245.9L530.5 247.6L529.4 249.1L518.4 249.1L517.2 247.8L515.5 247.6L514.7 246.9L515.2 246.1L517.2 245.2L522.4 243.9Z" fill="#2ebda8" fill-rule="evenodd"/><path d="M501.9 230.5L503.7 230.6L505.2 231.3L505.4 232.0L503.7 235.6L503.0 235.8L502.2 235.5L500.0 233.8L500.0 232.0L500.4 231.3L501.9 230.5ZM501.1 242.4L503.7 241.7L506.7 242.9L508.5 245.4L508.3 249.1L500.0 249.1L500.0 242.8L501.1 242.4ZM521.2 245.4L523.2 244.9L525.4 245.2L528.6 246.1L529.2 246.9L529.1 247.3L528.4 248.0L525.4 249.1L521.7 248.6L519.4 247.7L519.1 246.9L521.2 245.4Z" fill="#16acd0" fill-rule="evenodd"/><path d="M501.6 232.0L503.0 231.6L503.7 232.0L503.0 233.7L502.2 233.8L501.5 233.4L501.3 232.8L501.6 232.0ZM500.1 243.9L501.5 243.5L504.6 243.9L505.7 244.6L505.8 246.1L503.7 248.5L501.5 248.6L500.0 247.5L500.1 243.9ZM522.2 246.1L525.4 245.9L526.9 246.9L526.1 248.0L524.6 248.2L522.1 247.6L521.5 246.9L522.2 246.1Z" fill="#2a8ce6" fill-rule="evenodd"/><path d="M500.4 245.4L501.5 244.8L503.8 245.4L504.0 246.1L502.9 246.9L500.7 246.3L500.4 245.4ZM524.3 246.9L525.3 246.9L524.3 246.9Z" fill="#3a5ef0" fill-rule="evenodd"/>
<rect x="549.4" y="220.9" width="47.8" height="28.2" fill="#fcbc38"/><path d="M549.4 229.1L549.4 228.8L556.1 228.5L557.6 229.2L559.0 230.5L559.8 232.8L558.2 240.2L558.7 241.7L559.4 242.4L560.6 242.8L563.6 242.8L565.1 243.4L568.1 242.4L571.8 242.8L574.0 242.4L581.5 242.5L582.4 243.2L583.3 244.6L583.0 249.1L549.4 249.1L549.4 229.1Z" fill="#96c341" fill-rule="evenodd"/><path d="M553.0 229.8L556.1 229.9L557.2 230.5L558.1 232.0L558.1 233.5L557.4 236.5L556.9 237.1L554.6 238.1L552.4 237.7L549.4 236.6L549.4 232.7L550.0 231.3L550.9 230.3L553.0 229.8ZM549.5 240.2L550.9 239.9L552.4 241.4L555.4 243.0L556.9 242.5L557.6 242.7L558.6 243.9L558.5 245.4L559.9 246.8L560.6 246.6L562.8 244.7L565.1 245.4L568.8 244.7L571.1 245.1L573.3 245.0L575.8 247.6L574.8 248.4L571.8 248.3L570.4 249.1L562.6 249.1L561.3 247.8L560.6 247.8L559.5 249.1L549.4 249.1L549.5 240.2ZM578.8 247.6L580.0 247.1L580.5 247.6L580.0 248.6L579.3 248.5L578.8 247.6Z" fill="#2ebda8" fill-rule="evenodd"/><path d="M552.7 231.3L554.6 230.7L556.9 232.0L557.2 232.8L556.4 235.0L553.9 236.5L552.4 236.0L550.9 234.3L551.2 232.0L552.7 231.3ZM549.4 243.2L553.1 243.7L556.1 245.1L557.1 246.1L557.4 247.6L556.3 249.1L549.4 249.1L549.4 243.2Z" fill="#16acd0" fill-rule="evenodd"/><path d="M553.4 232.8L553.9 232.3L554.6 232.3L555.3 232.8L555.5 233.5L554.6 234.4L553.9 234.4L553.3 233.5L553.4 232.8ZM551.2 244.6L553.1 244.7L555.0 246.1L555.2 247.6L554.1 249.1L551.0 249.1L549.4 248.3L549.4 245.1L551.2 244.6Z" fill="#2a8ce6" fill-rule="evenodd"/><path d="M550.2 246.1L552.4 245.5L553.6 246.1L553.9 246.9L553.1 248.2L551.6 248.4L550.2 247.6L549.8 246.9L550.2 246.1Z" fill="#3a5ef0" fill-rule="evenodd"/>
<rect x="598.8" y="220.9" width="47.8" height="28.2" fill="#fcbc38"/><path d="M598.8 227.6L598.8 227.0L599.5 226.9L603.3 227.0L606.3 227.5L608.3 228.3L608.8 231.3L608.4 235.7L608.8 238.0L607.8 240.3L603.3 241.0L601.8 240.1L598.8 240.1L598.8 227.6ZM602.5 243.2L604.8 242.9L610.0 243.3L619.0 243.3L621.2 242.9L630.9 243.4L631.7 244.6L631.9 249.1L598.8 249.1L598.8 243.8L602.5 243.2Z" fill="#96c341" fill-rule="evenodd"/><path d="M598.8 228.3L602.5 228.5L604.4 229.1L606.8 232.0L606.8 235.0L605.4 237.2L603.3 238.6L600.3 239.0L598.8 238.1L598.8 228.3ZM612.1 244.6L614.9 245.4L614.8 247.6L613.7 248.5L612.1 249.1L599.8 249.1L600.8 246.1L602.5 244.9L607.8 244.7L610.0 245.2L612.1 244.6ZM619.2 244.6L621.2 244.2L625.7 244.7L628.6 245.4L630.0 246.1L628.3 249.1L615.7 249.1L616.7 245.4L619.2 244.6Z" fill="#2ebda8" fill-rule="evenodd"/><path d="M600.7 229.8L601.8 229.9L602.5 230.4L604.3 232.8L603.3 236.3L602.5 236.9L600.3 236.8L598.8 236.3L598.8 231.3L599.2 230.5L600.7 229.8ZM620.1 245.4L621.2 245.1L624.9 245.4L627.0 246.1L627.3 246.9L626.4 247.9L623.4 248.8L619.0 248.8L618.2 247.8L618.2 246.9L618.7 246.1L620.1 245.4Z" fill="#16acd0" fill-rule="evenodd"/><path d="M600.6 232.0L601.8 231.7L602.7 232.8L601.8 234.7L601.0 235.2L600.0 235.0L599.6 234.3L600.0 232.8L600.6 232.0ZM620.9 246.1L624.2 246.1L625.4 246.9L623.4 247.8L620.3 247.6L619.9 246.9L620.9 246.1Z" fill="#2a8ce6" fill-rule="evenodd"/>
<rect x="500.0" y="251.15" width="47.8" height="28.2" fill="#fcbc38"/><path d="M500.0 259.3L500.0 258.6L503.0 259.0L506.0 258.6L510.5 259.6L513.4 259.4L514.6 260.1L515.6 262.3L515.5 266.7L514.2 268.1L510.5 268.7L508.6 269.7L507.7 271.2L508.2 272.7L511.2 273.5L515.7 273.1L529.1 273.5L532.1 274.7L532.2 276.4L532.9 277.6L533.1 279.4L500.0 279.4L500.0 259.3Z" fill="#96c341" fill-rule="evenodd"/><path d="M500.0 260.1L506.7 260.0L509.8 261.5L510.7 263.0L511.0 264.5L510.2 266.7L505.6 270.4L505.2 271.2L505.3 272.7L506.0 273.3L508.2 274.3L512.7 274.8L519.4 274.7L525.4 275.9L527.6 275.5L528.8 276.4L528.4 279.1L525.3 279.4L526.1 278.6L527.6 279.0L528.1 278.6L527.2 277.9L525.4 277.4L523.9 277.8L521.7 279.2L500.0 279.4L500.0 260.1ZM512.2 263.8L512.7 263.7L512.8 264.5L511.9 266.1L511.6 264.5L512.2 263.8Z" fill="#2ebda8" fill-rule="evenodd"/><path d="M500.0 261.5L500.0 260.9L501.5 260.9L505.2 261.0L506.7 261.5L509.0 264.5L508.5 266.7L506.7 268.5L503.7 269.7L503.0 269.7L500.7 268.5L500.0 267.9L500.0 261.5ZM501.4 274.2L503.7 274.0L507.5 275.8L510.5 275.3L512.7 275.6L517.9 275.5L520.9 276.3L521.6 277.1L521.0 277.9L517.9 278.7L514.2 278.6L510.5 279.0L508.2 278.5L507.3 279.4L503.9 279.4L503.7 278.9L503.0 278.6L502.5 279.4L500.0 279.1L500.0 274.5L501.4 274.2Z" fill="#16acd0" fill-rule="evenodd"/><path d="M502.1 262.3L505.2 262.0L507.0 263.0L508.0 265.2L506.7 267.6L503.7 268.5L501.1 267.5L500.6 266.7L500.5 264.5L501.1 263.0L502.1 262.3ZM509.6 276.4L517.2 276.3L518.0 276.4L518.9 277.1L517.3 277.9L510.5 277.8L509.3 277.1L509.6 276.4Z" fill="#2a8ce6" fill-rule="evenodd"/><path d="M504.1 263.0L506.0 263.2L507.0 264.5L506.7 266.5L505.2 267.6L503.0 267.5L502.1 266.7L501.5 265.6L501.5 264.5L502.1 263.8L504.1 263.0Z" fill="#3a5ef0" fill-rule="evenodd"/><path d="M502.9 264.5L505.2 264.0L506.0 264.5L506.0 266.0L505.2 266.8L503.7 266.8L502.7 265.2L502.9 264.5Z" fill="#3b34bf" fill-rule="evenodd"/>
<rect x="549.4" y="251.15" width="47.8" height="28.2" fill="#fcbc38"/><path d="M549.4 259.3L556.1 258.7L558.4 259.2L559.1 259.7L559.5 260.8L559.8 266.7L559.5 271.2L559.9 272.8L562.1 273.6L568.8 273.4L571.1 273.8L574.8 273.4L578.5 274.1L580.0 273.6L581.5 273.8L582.3 274.1L582.5 274.9L583.0 277.9L582.8 279.4L549.4 279.4L549.4 259.3Z" fill="#96c341" fill-rule="evenodd"/><path d="M553.7 260.1L556.9 260.2L558.2 263.0L558.4 267.5L556.8 271.2L559.1 274.0L560.4 274.9L562.8 275.5L564.3 275.6L566.6 275.1L567.3 275.3L570.4 277.9L571.1 278.6L571.1 279.4L549.4 279.4L549.4 268.1L549.7 267.5L549.4 261.7L553.7 260.1Z" fill="#2ebda8" fill-rule="evenodd"/><path d="M552.8 261.5L556.1 261.7L557.1 263.0L557.4 264.5L556.9 266.0L554.6 266.9L553.1 268.1L551.6 267.0L550.6 265.2L551.5 262.3L552.8 261.5ZM551.4 274.2L555.4 273.6L559.9 275.9L565.8 276.9L566.4 277.9L565.1 279.0L563.1 279.4L549.4 279.4L549.4 275.6L551.4 274.2Z" fill="#16acd0" fill-rule="evenodd"/><path d="M553.5 276.4L555.4 275.8L557.6 275.9L561.9 277.1L563.1 277.9L562.5 278.6L560.1 279.4L554.6 279.4L550.9 278.6L550.7 277.9L551.3 277.1L553.5 276.4Z" fill="#2a8ce6" fill-rule="evenodd"/><path d="M554.5 277.1L557.6 276.6L561.2 277.9L560.3 278.6L556.9 279.3L554.0 277.9L554.5 277.1Z" fill="#3a5ef0" fill-rule="evenodd"/><path d="M556.0 277.9L557.6 277.3L558.6 277.9L557.6 278.6L556.9 278.5L556.0 277.9Z" fill="#3b34bf" fill-rule="evenodd"/>
<rect x="598.8" y="251.15" width="47.8" height="28.2" fill="#fcbc38"/><path d="M598.8 257.8L604.0 257.2L607.0 258.2L608.2 259.3L608.5 263.8L608.3 268.2L607.4 269.7L606.3 270.7L603.3 271.3L598.8 270.3L598.8 257.8ZM598.8 274.2L598.8 273.6L601.8 274.1L613.0 273.5L619.7 273.6L624.9 274.3L630.2 273.9L631.3 274.9L631.7 277.1L631.4 279.4L598.8 279.4L598.8 274.2Z" fill="#96c341" fill-rule="evenodd"/><path d="M600.3 259.3L604.0 258.8L606.0 259.3L606.8 260.1L607.2 265.2L607.0 268.2L606.3 269.1L603.3 269.3L601.2 269.0L598.8 266.8L599.6 265.2L599.5 263.0L600.1 261.5L599.9 260.1L600.3 259.3ZM609.1 274.9L616.0 274.4L620.5 274.8L628.7 276.3L629.7 277.9L628.5 279.4L624.9 278.6L622.7 279.4L600.3 279.4L598.8 276.4L600.3 275.4L609.1 274.9Z" fill="#2ebda8" fill-rule="evenodd"/><path d="M602.8 260.8L604.0 260.4L604.8 260.5L605.7 261.5L605.7 266.0L605.3 266.7L604.0 267.3L602.5 267.2L601.3 265.2L601.4 263.0L602.8 260.8ZM609.5 275.6L615.2 275.2L619.7 275.6L623.5 277.1L622.9 277.9L622.0 278.2L615.2 279.1L608.5 278.9L605.5 277.9L603.3 278.1L601.3 277.1L602.6 276.4L605.5 276.7L607.0 276.0L609.5 275.6Z" fill="#16acd0" fill-rule="evenodd"/><path d="M609.5 276.4L615.2 275.9L619.4 277.1L615.2 278.4L609.3 278.1L608.3 277.9L607.5 277.1L609.5 276.4Z" fill="#2a8ce6" fill-rule="evenodd"/><path d="M614.6 277.1L615.7 277.1L614.6 277.1Z" fill="#3a5ef0" fill-rule="evenodd"/>
<rect x="500.0" y="305.0" width="47.8" height="28.2" fill="#fcbc38"/><path d="M505.0 311.7L507.5 311.7L508.8 312.4L509.9 315.4L509.7 319.8L511.6 320.6L512.2 321.3L511.9 322.4L511.3 322.8L511.4 323.6L514.9 324.3L517.9 324.4L519.4 325.8L520.2 328.2L523.9 329.6L532.9 328.3L536.6 329.0L537.8 330.2L537.6 333.2L509.2 333.2L509.3 330.2L509.8 328.7L509.3 328.0L500.0 328.3L500.0 320.9L502.1 320.6L503.0 319.8L501.4 318.4L501.4 316.1L500.8 313.9L501.5 312.6L502.2 312.1L505.0 311.7Z" fill="#96c341" fill-rule="evenodd"/><path d="M501.1 323.6L502.2 323.3L505.7 324.3L505.0 326.5L501.5 327.4L500.0 326.9L500.0 323.7L501.1 323.6ZM513.3 329.5L514.2 329.0L517.2 329.0L517.9 329.1L518.8 330.2L517.2 330.4L515.7 331.6L513.4 331.5L512.8 331.0L513.3 329.5ZM532.8 329.5L536.0 330.2L536.4 331.0L536.0 333.2L531.6 333.2L531.4 332.9L530.5 331.7L530.5 331.0L530.9 330.2L532.8 329.5ZM523.4 332.5L525.4 331.8L527.0 333.2L523.0 333.2L523.4 332.5ZM517.3 333.2L518.1 333.2L517.3 333.2Z" fill="#2ebda8" fill-rule="evenodd"/><path d="M501.4 325.8L501.6 325.8L501.4 325.8Z" fill="#16acd0" fill-rule="evenodd"/>
<rect x="549.4" y="305.0" width="47.8" height="28.2" fill="#fcbc38"/><path d="M549.4 313.2L553.9 312.7L561.3 313.6L562.8 313.3L564.3 313.9L564.5 316.9L564.0 318.4L565.1 321.1L566.3 322.8L566.6 325.9L573.3 327.6L578.5 327.1L582.3 327.6L583.3 330.2L582.9 333.2L556.3 333.2L555.7 329.5L556.0 325.8L555.5 325.0L553.1 324.8L551.6 324.1L549.4 324.3L549.4 313.2Z" fill="#96c341" fill-rule="evenodd"/><path d="M549.4 314.6L549.4 314.3L550.9 314.1L557.7 314.6L559.1 316.4L560.9 317.6L561.0 320.6L561.3 321.0L563.6 321.1L564.4 323.6L563.6 324.2L561.3 323.2L560.6 323.4L559.4 324.3L559.2 325.0L560.6 325.8L564.3 325.9L566.6 327.3L573.3 329.0L575.5 328.7L579.3 329.1L580.9 330.2L580.9 333.2L577.8 332.7L576.6 333.2L566.0 333.2L564.3 332.1L557.6 330.3L556.9 329.5L556.8 328.7L558.3 325.8L558.4 325.0L557.8 324.3L556.1 323.5L553.9 323.5L550.9 322.6L549.4 322.7L549.4 314.6Z" fill="#2ebda8" fill-rule="evenodd"/><path d="M551.6 316.1L553.1 315.6L555.4 315.8L556.1 315.9L557.3 316.9L557.8 317.6L558.1 319.8L556.9 322.1L553.9 322.5L552.7 322.1L550.8 320.6L550.2 319.1L550.6 317.6L551.6 316.1ZM563.0 327.3L565.1 327.4L567.3 328.9L571.8 329.5L573.3 330.0L575.5 330.1L576.6 331.0L576.0 331.7L574.8 332.3L571.1 331.7L569.6 332.2L567.3 331.4L562.1 330.3L559.1 328.7L559.9 327.6L563.0 327.3Z" fill="#16acd0" fill-rule="evenodd"/><path d="M553.0 316.9L555.4 317.0L556.3 317.6L557.0 319.8L556.1 321.1L553.9 321.4L552.1 319.8L551.5 318.4L553.0 316.9ZM563.3 328.7L564.5 328.7L563.3 328.7Z" fill="#2a8ce6" fill-rule="evenodd"/><path d="M553.1 318.4L555.1 318.4L555.7 319.1L555.5 319.8L553.9 320.1L553.0 319.1L553.1 318.4Z" fill="#3a5ef0" fill-rule="evenodd"/>
<rect x="598.8" y="305.0" width="47.8" height="28.2" fill="#fcbc38"/><path d="M599.4 313.2L604.8 312.7L612.2 313.3L613.1 313.9L613.3 314.6L613.6 319.8L615.7 322.8L615.8 325.0L616.7 326.5L618.2 327.1L622.0 326.9L624.2 327.3L630.2 327.4L631.6 329.5L631.5 333.2L605.7 333.2L605.5 325.8L604.8 324.9L598.8 323.5L598.8 313.3L599.4 313.2Z" fill="#96c341" fill-rule="evenodd"/><path d="M605.4 313.9L607.8 315.4L609.3 315.6L609.8 316.1L609.6 318.4L610.3 320.6L611.5 321.6L613.1 322.1L613.3 322.8L611.5 324.3L612.2 325.8L613.0 326.5L615.2 326.9L617.5 328.0L622.0 327.9L626.4 328.6L629.0 329.5L629.0 330.2L626.2 333.2L621.2 332.9L617.9 333.2L613.7 332.2L610.8 332.5L608.5 331.7L607.8 331.0L606.7 328.0L607.0 327.2L608.9 325.8L608.6 325.0L604.8 323.3L601.8 322.7L598.8 321.5L598.8 316.8L599.5 315.9L601.0 314.9L605.4 313.9Z" fill="#2ebda8" fill-rule="evenodd"/><path d="M604.0 316.1L605.5 316.6L606.4 317.6L607.4 319.8L607.0 321.7L608.3 322.8L602.5 321.8L600.7 320.6L600.0 318.4L600.3 317.3L601.0 316.7L604.0 316.1ZM610.5 328.0L613.7 327.6L616.7 328.8L622.7 329.0L625.7 330.2L626.0 331.0L624.9 331.8L622.7 331.6L619.0 332.1L613.7 331.2L610.8 329.5L610.3 328.7L610.5 328.0Z" fill="#16acd0" fill-rule="evenodd"/><path d="M603.0 319.1L604.0 318.4L604.8 318.7L605.1 319.8L604.8 320.4L603.3 320.4L602.5 320.1L603.0 319.1ZM613.5 328.7L614.5 328.7L615.2 329.5L614.5 330.2L613.7 329.9L613.3 329.5L613.5 328.7ZM617.5 330.2L619.5 330.2L619.0 331.0L617.5 330.2Z" fill="#2a8ce6" fill-rule="evenodd"/>
<rect x="500.0" y="335.25" width="47.8" height="28.2" fill="#fcbc38"/><path d="M500.0 343.4L504.5 342.8L513.4 343.7L514.2 344.2L514.5 344.9L514.8 347.1L514.2 351.5L511.9 352.3L506.0 353.1L500.0 352.3L500.0 343.4ZM500.0 356.0L500.0 355.8L504.5 355.3L513.4 356.2L516.4 355.8L518.7 356.1L520.9 357.0L524.6 355.9L528.5 356.0L529.9 356.7L530.9 358.3L531.4 361.2L531.2 363.4L500.0 363.4L500.0 356.0Z" fill="#96c341" fill-rule="evenodd"/><path d="M502.5 344.2L505.2 344.4L506.7 345.6L508.9 346.4L509.2 347.1L509.1 348.6L508.0 350.8L506.7 351.4L503.0 351.7L500.0 350.8L500.0 344.8L502.5 344.2ZM503.1 356.8L510.5 357.1L514.2 357.9L516.4 357.4L520.9 358.6L524.6 357.8L525.9 361.2L523.5 363.4L502.7 363.4L501.5 362.7L500.0 362.7L500.0 357.5L503.1 356.8ZM526.8 362.0L528.4 361.4L528.7 362.0L528.4 363.4L527.3 363.4L526.8 362.0Z" fill="#2ebda8" fill-rule="evenodd"/><path d="M502.1 345.6L503.7 345.2L505.2 345.6L507.8 347.9L507.8 348.6L506.1 350.1L503.7 350.7L502.2 350.5L500.9 349.4L500.7 347.9L502.1 345.6ZM502.3 358.3L503.7 357.9L505.2 358.4L517.2 359.0L520.9 359.9L521.8 360.5L521.7 361.2L520.9 362.5L520.2 362.9L518.7 362.8L515.4 363.4L508.2 363.4L506.0 362.5L503.7 362.5L503.0 362.0L501.8 359.7L501.7 359.0L502.3 358.3Z" fill="#16acd0" fill-rule="evenodd"/><path d="M502.8 347.1L504.5 346.5L505.8 347.9L505.7 348.6L503.7 349.4L503.0 349.1L502.5 347.9L502.8 347.1ZM506.1 359.7L511.2 359.4L515.7 359.7L517.9 360.2L518.5 361.2L517.2 362.3L515.8 362.7L510.5 362.9L508.2 362.4L505.0 360.5L506.1 359.7Z" fill="#2a8ce6" fill-rule="evenodd"/><path d="M510.2 360.5L512.7 360.1L515.3 360.5L516.5 361.2L514.9 362.1L511.2 362.2L508.8 361.2L510.2 360.5Z" fill="#3a5ef0" fill-rule="evenodd"/>
<rect x="549.4" y="335.25" width="47.8" height="28.2" fill="#fcbc38"/><path d="M549.4 343.4L553.1 342.8L556.1 343.1L559.1 344.0L561.3 343.4L562.8 343.8L563.8 344.9L564.5 350.8L565.1 351.9L567.3 352.8L568.5 353.8L568.2 356.0L568.5 356.8L569.6 357.5L572.6 358.1L574.8 357.7L579.3 357.8L580.0 358.3L580.4 359.7L580.5 363.4L549.4 363.4L549.4 357.7L556.9 357.3L557.8 356.8L558.5 355.3L558.3 354.5L556.9 353.1L552.4 352.8L549.4 352.1L549.4 343.4Z" fill="#96c341" fill-rule="evenodd"/><path d="M553.9 344.2L556.1 344.6L560.2 346.4L560.7 347.1L559.5 349.4L557.6 350.8L554.6 351.8L552.9 351.6L550.9 350.3L549.4 350.4L549.4 344.6L551.6 344.9L553.9 344.2ZM561.0 351.6L561.3 351.2L562.1 351.3L563.0 352.3L562.1 355.1L561.1 353.1L561.0 351.6ZM559.5 357.5L560.6 357.2L563.6 357.4L565.8 358.6L568.1 358.5L571.1 360.4L571.0 361.2L569.8 363.4L549.4 363.4L549.4 359.2L550.9 359.4L553.1 358.7L557.6 358.4L559.5 357.5ZM577.5 363.4L578.5 363.4L577.5 363.4Z" fill="#2ebda8" fill-rule="evenodd"/><path d="M552.4 346.4L553.9 345.8L555.4 346.1L556.7 347.1L557.1 347.9L556.9 348.6L555.4 350.2L553.9 350.5L553.1 350.2L552.1 348.6L552.0 347.1L552.4 346.4ZM558.6 359.0L559.9 358.7L563.6 358.8L565.8 360.1L567.3 360.2L568.3 361.2L565.1 362.8L557.6 363.4L553.9 362.8L550.7 361.2L553.9 359.5L558.6 359.0Z" fill="#16acd0" fill-rule="evenodd"/><path d="M558.9 359.7L562.8 359.9L564.2 360.5L564.8 361.2L563.9 362.0L559.1 362.7L554.6 362.1L553.3 361.2L553.9 360.4L558.9 359.7Z" fill="#2a8ce6" fill-rule="evenodd"/><path d="M557.5 360.5L560.6 360.5L561.7 361.2L560.0 362.0L558.0 362.0L556.7 361.2L557.5 360.5Z" fill="#3a5ef0" fill-rule="evenodd"/>
<rect x="598.8" y="335.25" width="47.8" height="28.2" fill="#fcbc38"/><path d="M602.4 343.4L608.5 343.5L611.5 344.0L612.3 344.9L612.5 346.4L612.0 349.4L610.0 351.2L608.5 351.9L604.8 352.0L601.8 351.1L598.8 350.7L598.8 343.4L602.4 343.4ZM610.1 352.3L611.5 351.9L613.7 352.3L615.2 353.1L616.7 354.7L628.8 355.3L629.7 356.0L630.3 360.5L630.1 363.4L598.8 363.4L598.8 354.5L601.8 355.0L607.0 354.6L608.5 352.9L610.1 352.3Z" fill="#96c341" fill-rule="evenodd"/><path d="M598.8 346.4L598.8 346.0L599.5 346.4L599.5 347.1L598.8 347.8L598.8 346.4ZM606.1 347.1L607.8 346.4L608.5 346.7L610.1 348.6L608.5 350.3L605.5 351.0L604.0 350.8L602.8 349.4L603.2 347.9L606.1 347.1ZM609.2 355.3L610.8 354.9L614.5 355.8L615.2 356.3L616.0 357.6L618.2 358.5L620.5 358.6L622.7 357.9L624.2 358.1L627.9 362.7L627.8 363.4L624.7 363.4L624.2 362.9L622.5 363.4L622.0 362.6L619.7 363.2L618.2 362.8L614.5 362.9L612.1 363.4L604.5 363.4L603.3 363.2L598.8 363.4L599.3 362.0L598.8 360.9L598.8 358.9L599.6 358.3L599.8 357.5L598.8 356.0L600.3 356.2L603.3 357.8L604.0 358.1L605.5 357.6L607.0 358.4L607.8 358.2L609.2 355.3Z" fill="#2ebda8" fill-rule="evenodd"/><path d="M604.2 349.4L604.8 348.9L606.5 349.4L604.8 350.1L604.2 349.4ZM602.8 359.7L604.8 359.3L608.5 359.7L611.5 359.5L612.5 359.7L614.3 361.2L610.0 362.5L604.8 362.6L602.2 361.2L602.8 359.7ZM615.2 360.5L618.2 360.0L620.3 360.5L620.3 361.2L619.0 361.6L614.8 361.2L615.2 360.5Z" fill="#16acd0" fill-rule="evenodd"/><path d="M604.4 360.5L606.3 360.3L609.1 361.2L607.0 361.8L604.8 361.5L604.1 361.2L604.4 360.5Z" fill="#2a8ce6" fill-rule="evenodd"/>
<rect x="500.0" y="365.5" width="47.8" height="28.2" fill="#fcbc38"/><path d="M500.0 368.5L506.0 367.9L508.2 368.5L509.7 368.2L512.0 368.5L514.1 369.2L514.3 370.0L514.0 370.7L514.7 372.9L514.4 378.9L516.8 380.3L516.9 383.3L517.8 385.5L519.4 386.2L522.4 386.1L524.6 386.6L527.6 386.3L529.9 387.0L530.4 387.8L531.1 390.7L531.4 393.7L500.0 393.7L500.0 386.4L503.0 386.6L506.7 386.1L507.6 385.5L508.4 381.8L508.2 380.9L507.5 380.7L500.0 380.1L500.0 368.5Z" fill="#96c341" fill-rule="evenodd"/><path d="M500.0 370.7L504.5 370.4L506.0 371.2L507.5 371.2L510.5 372.6L511.0 373.7L510.1 375.1L510.2 376.6L509.4 378.1L510.5 378.4L511.9 379.8L514.2 381.1L514.9 383.3L517.9 388.5L518.7 388.6L520.2 387.8L522.4 387.9L523.9 390.0L527.6 393.2L528.4 393.6L529.1 393.3L529.9 393.7L519.4 393.4L502.7 393.7L501.5 392.7L500.5 393.0L500.5 393.7L500.0 393.7L500.0 390.1L500.7 389.0L501.5 388.7L503.0 389.1L506.7 388.6L509.0 386.3L509.8 381.1L509.0 378.8L500.0 378.0L500.0 373.8L501.5 373.7L501.9 372.9L501.5 371.9L500.0 371.7L500.0 370.7Z" fill="#2ebda8" fill-rule="evenodd"/><path d="M504.2 375.1L505.3 375.1L505.0 375.9L503.7 376.1L504.2 375.1ZM511.1 384.1L511.2 383.6L511.9 383.7L514.2 385.8L516.7 389.2L520.3 391.5L518.7 392.6L515.7 393.0L514.2 393.7L508.2 393.3L504.7 392.2L504.1 391.5L504.3 390.7L509.0 389.2L509.9 388.5L510.6 387.0L510.5 385.5L511.1 384.1Z" fill="#16acd0" fill-rule="evenodd"/><path d="M511.0 389.2L512.0 388.6L513.4 388.7L517.8 391.5L517.2 392.0L513.4 393.0L508.2 392.5L507.1 392.2L506.3 391.5L507.5 390.4L511.0 389.2Z" fill="#2a8ce6" fill-rule="evenodd"/><path d="M510.6 390.7L512.7 390.2L514.2 390.7L514.7 391.5L513.4 392.2L509.2 391.5L510.6 390.7Z" fill="#3a5ef0" fill-rule="evenodd"/>
<rect x="549.4" y="365.5" width="47.8" height="28.2" fill="#fcbc38"/><path d="M549.4 373.7L556.1 373.3L562.8 373.8L563.5 374.4L563.9 375.9L563.8 382.6L564.2 386.3L564.7 387.0L568.1 387.9L571.1 387.7L572.6 388.0L576.3 387.5L579.1 387.8L580.0 388.5L581.0 393.7L553.4 393.7L552.0 391.5L552.0 390.0L553.9 388.1L557.0 387.0L557.5 386.3L557.2 384.1L556.9 383.3L556.1 383.0L553.9 382.7L551.6 383.1L549.4 382.5L549.4 373.7Z" fill="#96c341" fill-rule="evenodd"/><path d="M552.9 375.1L559.3 375.9L559.7 377.4L559.3 380.3L558.4 380.7L556.9 379.9L554.6 381.1L553.1 381.2L549.4 380.0L549.4 375.4L551.6 375.5L552.9 375.1ZM560.2 382.6L560.7 382.6L560.2 382.6ZM558.1 387.8L559.9 387.3L563.6 388.1L565.2 389.2L567.3 389.4L569.6 389.0L570.8 389.2L572.3 390.0L573.6 391.5L573.3 393.6L555.2 393.7L553.2 391.5L553.6 390.0L555.4 388.6L558.1 387.8Z" fill="#2ebda8" fill-rule="evenodd"/><path d="M553.1 377.4L554.4 377.4L553.9 378.9L553.1 379.0L552.4 378.5L552.3 378.1L553.1 377.4ZM555.7 389.2L558.4 388.6L562.1 388.9L564.3 389.9L568.8 390.5L569.4 391.5L568.8 392.4L565.8 393.0L561.3 392.8L557.6 393.1L555.4 392.7L554.1 391.5L554.1 390.7L554.6 390.0L555.7 389.2Z" fill="#16acd0" fill-rule="evenodd"/><path d="M555.6 390.0L557.6 389.4L561.3 389.7L566.2 391.5L563.6 392.2L556.9 392.2L554.9 391.5L554.9 390.7L555.6 390.0Z" fill="#2a8ce6" fill-rule="evenodd"/><path d="M556.0 390.7L557.6 390.3L559.3 390.7L558.4 391.5L556.9 391.3L556.0 390.7Z" fill="#3a5ef0" fill-rule="evenodd"/>
<rect x="598.8" y="365.5" width="47.8" height="28.2" fill="#fcbc38"/><path d="M600.2 372.9L604.0 372.7L612.2 374.1L613.4 376.6L613.6 381.8L613.5 383.3L612.1 384.8L612.1 385.5L616.0 386.6L628.7 386.4L629.4 387.0L630.2 390.0L630.1 393.7L598.8 393.7L598.8 386.7L603.3 386.0L603.6 385.5L600.8 384.1L598.8 383.9L598.8 373.2L600.2 372.9Z" fill="#96c341" fill-rule="evenodd"/><path d="M600.0 374.4L601.0 374.0L605.5 374.2L607.2 375.1L608.0 376.6L608.6 379.6L610.6 381.8L610.6 383.3L609.2 384.8L609.2 385.5L610.8 387.4L616.0 389.5L617.5 388.9L618.2 389.0L619.7 390.0L622.0 389.7L622.7 390.0L622.9 390.7L622.6 391.5L621.2 392.7L619.0 393.0L617.5 393.7L598.8 393.7L598.8 389.1L601.0 388.5L602.5 388.9L605.5 388.3L606.5 387.8L607.3 385.5L607.2 384.8L605.5 383.6L600.0 382.6L599.2 381.8L598.8 380.5L598.8 375.8L600.0 374.4ZM626.1 390.7L627.9 390.2L628.2 393.7L626.3 393.7L625.8 391.5L626.1 390.7Z" fill="#2ebda8" fill-rule="evenodd"/><path d="M600.9 375.9L601.8 375.2L602.5 375.2L604.8 375.3L606.2 375.9L607.0 379.6L606.8 381.1L606.3 381.6L604.0 382.1L601.6 381.1L600.4 378.9L600.9 375.9ZM607.6 389.2L613.0 389.6L616.3 390.7L617.3 391.5L616.7 392.3L614.5 392.5L612.2 393.7L607.0 393.6L601.8 393.1L600.4 392.2L600.1 391.5L601.0 390.4L607.6 389.2Z" fill="#16acd0" fill-rule="evenodd"/><path d="M602.3 376.6L603.3 376.4L604.8 376.8L605.4 378.9L604.8 380.1L603.3 380.3L602.4 379.6L601.7 378.1L602.3 376.6ZM607.3 390.0L613.0 390.4L614.1 391.5L612.2 392.8L610.8 393.0L604.0 392.6L602.6 392.2L602.2 391.5L604.0 390.4L607.3 390.0Z" fill="#2a8ce6" fill-rule="evenodd"/><path d="M607.1 390.7L608.9 390.7L612.1 391.5L610.8 392.0L607.8 392.1L604.3 391.5L607.1 390.7Z" fill="#3a5ef0" fill-rule="evenodd"/>
<rect x="500.0" y="395.75" width="47.8" height="28.2" fill="#fcbc38"/><path d="M503.4 403.2L509.0 403.5L513.4 404.0L514.2 404.5L514.7 406.1L514.2 407.6L514.3 411.3L515.2 413.6L515.3 416.5L515.7 417.2L524.6 418.0L529.9 417.8L531.3 419.5L531.2 422.5L531.5 423.9L500.0 423.9L500.0 403.7L503.4 403.2Z" fill="#96c341" fill-rule="evenodd"/><path d="M503.1 404.7L506.0 404.5L509.7 405.7L510.7 406.9L510.0 411.3L513.7 413.6L514.2 414.5L514.2 417.3L514.9 418.1L516.4 418.6L521.7 419.1L524.5 420.2L525.0 421.0L525.0 423.9L521.7 423.6L521.0 423.9L503.5 423.9L501.6 422.5L500.7 421.1L500.0 421.3L500.0 420.2L501.2 419.5L503.0 419.4L506.7 418.2L507.5 417.3L506.0 415.1L505.2 415.0L503.7 415.7L500.0 414.1L500.0 405.2L502.2 405.1L503.1 404.7Z" fill="#2ebda8" fill-rule="evenodd"/><path d="M502.8 406.9L503.7 406.3L504.5 406.3L508.2 407.1L508.8 409.1L508.2 412.8L508.6 414.3L509.9 415.8L508.7 415.8L508.1 414.3L507.0 413.6L503.0 412.7L501.0 410.6L500.6 409.9L500.9 409.1L502.8 406.9ZM511.1 418.0L512.7 417.7L515.7 419.2L519.6 420.2L520.1 421.0L519.4 422.1L517.9 423.0L515.7 423.7L513.4 423.3L508.2 423.8L504.0 421.7L503.8 421.0L504.5 420.1L509.0 418.1L511.1 418.0Z" fill="#16acd0" fill-rule="evenodd"/><path d="M503.3 408.4L504.5 407.9L506.7 408.6L507.2 409.1L506.7 410.7L506.0 411.4L504.3 411.3L503.2 409.9L503.3 408.4ZM508.3 419.5L513.4 418.9L516.8 420.2L517.5 421.0L517.2 421.9L515.7 422.7L509.0 422.8L506.3 421.7L505.7 421.0L508.3 419.5Z" fill="#2a8ce6" fill-rule="evenodd"/><path d="M511.3 420.2L513.4 419.8L515.9 421.0L515.7 421.7L514.2 422.0L509.2 421.7L509.1 421.0L511.3 420.2Z" fill="#3a5ef0" fill-rule="evenodd"/>
<rect x="549.4" y="395.75" width="47.8" height="28.2" fill="#fcbc38"/><path d="M550.0 403.9L555.4 403.2L562.8 403.9L564.0 405.4L564.0 409.1L564.5 412.1L563.8 415.0L564.3 417.5L565.5 418.0L568.1 418.3L571.1 417.9L579.3 418.1L580.3 418.8L581.0 420.2L580.8 424.0L549.4 423.9L549.4 418.6L551.6 418.1L555.4 417.9L556.2 417.3L556.2 416.5L555.6 415.8L554.6 415.4L552.4 415.4L549.4 414.5L549.4 404.0L550.0 403.9Z" fill="#96c341" fill-rule="evenodd"/><path d="M551.1 405.4L552.4 404.8L554.6 404.7L558.4 405.5L559.1 406.0L559.9 407.8L561.5 409.1L561.9 410.6L561.2 411.3L561.2 412.1L562.2 412.8L562.4 413.6L561.3 414.6L559.9 415.2L550.8 413.6L549.4 411.1L549.4 406.5L551.1 405.4ZM557.4 418.0L558.4 417.6L559.9 417.7L562.8 418.3L566.6 419.6L570.3 420.1L572.6 419.9L573.4 421.0L571.8 423.5L571.1 423.9L550.4 423.9L549.4 423.6L549.4 420.1L555.4 419.2L557.4 418.0ZM577.9 421.0L578.7 421.0L578.5 421.3L577.9 421.0ZM576.6 421.7L577.8 421.2L577.9 421.7L576.3 423.0L576.0 422.5L576.6 421.7Z" fill="#2ebda8" fill-rule="evenodd"/><path d="M553.0 406.1L555.4 406.1L558.4 408.5L558.8 410.6L557.6 413.3L556.1 413.6L552.4 412.7L551.6 412.2L551.8 407.6L553.0 406.1ZM557.0 419.5L558.4 419.0L561.3 419.0L566.6 420.5L568.8 420.7L570.2 421.7L569.4 422.5L567.3 423.3L564.3 423.3L561.3 423.8L556.9 423.7L553.3 421.7L555.2 420.2L557.0 419.5Z" fill="#16acd0" fill-rule="evenodd"/><path d="M553.8 407.6L554.9 407.6L556.9 409.1L557.1 410.6L556.1 412.1L555.2 412.1L553.1 411.0L553.0 409.1L553.8 407.6ZM558.0 420.2L562.1 420.0L564.3 420.5L566.6 421.7L565.9 422.5L562.1 423.1L557.6 422.9L556.4 422.5L555.7 421.7L556.1 421.0L558.0 420.2Z" fill="#2a8ce6" fill-rule="evenodd"/><path d="M559.2 421.0L562.1 420.8L563.1 421.0L563.9 421.7L561.3 422.5L557.9 421.7L559.2 421.0Z" fill="#3a5ef0" fill-rule="evenodd"/>
<rect x="598.8" y="395.75" width="47.8" height="28.2" fill="#fcbc38"/><path d="M598.8 403.9L609.3 403.9L612.2 404.4L612.9 405.4L613.6 408.4L613.0 412.1L607.0 414.0L603.3 414.5L598.8 413.4L598.8 403.9ZM598.8 418.0L604.8 418.1L607.0 417.7L613.7 418.1L616.0 417.6L619.7 418.2L626.4 418.2L627.2 418.5L627.8 419.5L627.7 423.9L598.8 423.9L598.8 418.0Z" fill="#96c341" fill-rule="evenodd"/><path d="M599.4 405.4L601.0 406.0L604.0 405.5L609.3 408.0L610.8 406.6L611.5 407.4L611.6 408.4L609.9 409.1L606.3 412.6L603.3 413.3L601.8 413.2L598.8 412.1L598.8 405.8L599.4 405.4ZM601.8 419.5L607.0 418.9L614.5 419.3L616.7 418.9L619.7 419.8L622.0 419.6L623.0 420.2L623.3 421.0L621.5 423.9L601.5 423.9L598.8 422.9L598.8 419.6L601.8 419.5Z" fill="#2ebda8" fill-rule="evenodd"/><path d="M601.7 407.6L604.0 407.1L606.3 408.4L606.9 409.1L606.9 409.9L606.0 411.3L604.8 412.1L603.3 412.4L601.8 412.2L600.2 411.3L599.6 410.6L599.6 409.1L600.3 408.3L601.7 407.6ZM604.4 420.2L609.3 419.7L616.7 420.0L618.9 421.7L617.5 423.4L615.2 423.4L613.9 423.9L607.8 423.9L603.3 422.8L602.0 421.7L602.5 420.6L604.4 420.2Z" fill="#16acd0" fill-rule="evenodd"/><path d="M603.1 408.4L604.0 408.2L605.2 409.1L605.1 410.6L604.0 411.3L602.8 411.3L601.9 410.6L602.1 409.1L603.1 408.4ZM606.2 421.0L609.3 420.4L613.0 420.5L615.5 421.0L616.7 421.7L613.0 423.2L611.5 423.3L607.8 423.0L606.3 422.5L605.3 421.7L606.2 421.0Z" fill="#2a8ce6" fill-rule="evenodd"/><path d="M608.2 421.7L611.5 421.2L613.3 421.7L612.4 422.5L611.5 422.6L610.0 422.5L608.2 421.7Z" fill="#3a5ef0" fill-rule="evenodd"/>
<defs><linearGradient id="cb21" x1="0" y1="1" x2="0" y2="0"><stop offset="0" stop-color="#3e26a8"/><stop offset="0.1" stop-color="#4748e6"/><stop offset="0.2" stop-color="#3e6ff8"/><stop offset="0.3" stop-color="#2996e6"/><stop offset="0.4" stop-color="#0fb2d2"/><stop offset="0.5" stop-color="#33c2a0"/><stop offset="0.6" stop-color="#80c85c"/><stop offset="0.7" stop-color="#cdbe34"/><stop offset="0.8" stop-color="#fbbd3c"/><stop offset="0.9" stop-color="#f8d22c"/><stop offset="1" stop-color="#f8fa14"/></linearGradient></defs>
<rect x="651.4" y="21.7" width="7.2" height="114.89999999999999" fill="url(#cb21)" stroke="#707070" stroke-width="0.5"/>
<line x1="657.4" y1="136.6" x2="658.6" y2="136.6" stroke="#555" stroke-width="0.5"/>
<text x="660.6" y="138.5" font-size="6.6" fill="#3a3a3a">0.1</text>
<line x1="657.4" y1="124.03" x2="658.6" y2="124.03" stroke="#555" stroke-width="0.5"/>
<text x="660.6" y="125.93" font-size="6.6" fill="#3a3a3a">0.2</text>
<line x1="657.4" y1="111.46" x2="658.6" y2="111.46" stroke="#555" stroke-width="0.5"/>
<text x="660.6" y="113.36" font-size="6.6" fill="#3a3a3a">0.3</text>
<line x1="657.4" y1="98.88999999999999" x2="658.6" y2="98.88999999999999" stroke="#555" stroke-width="0.5"/>
<text x="660.6" y="100.78999999999999" font-size="6.6" fill="#3a3a3a">0.4</text>
<line x1="657.4" y1="86.32" x2="658.6" y2="86.32" stroke="#555" stroke-width="0.5"/>
<text x="660.6" y="88.22" font-size="6.6" fill="#3a3a3a">0.5</text>
<line x1="657.4" y1="73.75" x2="658.6" y2="73.75" stroke="#555" stroke-width="0.5"/>
<text x="660.6" y="75.65" font-size="6.6" fill="#3a3a3a">0.6</text>
<line x1="657.4" y1="61.17999999999999" x2="658.6" y2="61.17999999999999" stroke="#555" stroke-width="0.5"/>
<text x="660.6" y="63.07999999999999" font-size="6.6" fill="#3a3a3a">0.7</text>
<line x1="657.4" y1="48.609999999999985" x2="658.6" y2="48.609999999999985" stroke="#555" stroke-width="0.5"/>
<text x="660.6" y="50.509999999999984" font-size="6.6" fill="#3a3a3a">0.8</text>
<line x1="657.4" y1="36.03999999999999" x2="658.6" y2="36.03999999999999" stroke="#555" stroke-width="0.5"/>
<text x="660.6" y="37.93999999999999" font-size="6.6" fill="#3a3a3a">0.9</text>
<defs><linearGradient id="cb164" x1="0" y1="1" x2="0" y2="0"><stop offset="0" stop-color="#3e26a8"/><stop offset="0.1" stop-color="#4748e6"/><stop offset="0.2" stop-color="#3e6ff8"/><stop offset="0.3" stop-color="#2996e6"/><stop offset="0.4" stop-color="#0fb2d2"/><stop offset="0.5" stop-color="#33c2a0"/><stop offset="0.6" stop-color="#80c85c"/><stop offset="0.7" stop-color="#cdbe34"/><stop offset="0.8" stop-color="#fbbd3c"/><stop offset="0.9" stop-color="#f8d22c"/><stop offset="1" stop-color="#f8fa14"/></linearGradient></defs>
<rect x="651.3" y="164.2" width="7.2" height="114.40000000000003" fill="url(#cb164)" stroke="#707070" stroke-width="0.5"/>
<line x1="657.3" y1="278.6" x2="658.5" y2="278.6" stroke="#555" stroke-width="0.5"/>
<text x="660.5" y="280.5" font-size="6.6" fill="#3a3a3a">0.1</text>
<line x1="657.3" y1="266.03000000000003" x2="658.5" y2="266.03000000000003" stroke="#555" stroke-width="0.5"/>
<text x="660.5" y="267.93" font-size="6.6" fill="#3a3a3a">0.2</text>
<line x1="657.3" y1="253.46000000000004" x2="658.5" y2="253.46000000000004" stroke="#555" stroke-width="0.5"/>
<text x="660.5" y="255.36000000000004" font-size="6.6" fill="#3a3a3a">0.3</text>
<line x1="657.3" y1="240.89000000000001" x2="658.5" y2="240.89000000000001" stroke="#555" stroke-width="0.5"/>
<text x="660.5" y="242.79000000000002" font-size="6.6" fill="#3a3a3a">0.4</text>
<line x1="657.3" y1="228.32000000000002" x2="658.5" y2="228.32000000000002" stroke="#555" stroke-width="0.5"/>
<text x="660.5" y="230.22000000000003" font-size="6.6" fill="#3a3a3a">0.5</text>
<line x1="657.3" y1="215.75000000000003" x2="658.5" y2="215.75000000000003" stroke="#555" stroke-width="0.5"/>
<text x="660.5" y="217.65000000000003" font-size="6.6" fill="#3a3a3a">0.6</text>
<line x1="657.3" y1="203.18" x2="658.5" y2="203.18" stroke="#555" stroke-width="0.5"/>
<text x="660.5" y="205.08" font-size="6.6" fill="#3a3a3a">0.7</text>
<line x1="657.3" y1="190.61" x2="658.5" y2="190.61" stroke="#555" stroke-width="0.5"/>
<text x="660.5" y="192.51000000000002" font-size="6.6" fill="#3a3a3a">0.8</text>
<line x1="657.3" y1="178.04000000000002" x2="658.5" y2="178.04000000000002" stroke="#555" stroke-width="0.5"/>
<text x="660.5" y="179.94000000000003" font-size="6.6" fill="#3a3a3a">0.9</text>
<defs><linearGradient id="cb309" x1="0" y1="1" x2="0" y2="0"><stop offset="0" stop-color="#3e26a8"/><stop offset="0.1" stop-color="#4748e6"/><stop offset="0.2" stop-color="#3e6ff8"/><stop offset="0.3" stop-color="#2996e6"/><stop offset="0.4" stop-color="#0fb2d2"/><stop offset="0.5" stop-color="#33c2a0"/><stop offset="0.6" stop-color="#80c85c"/><stop offset="0.7" stop-color="#cdbe34"/><stop offset="0.8" stop-color="#fbbd3c"/><stop offset="0.9" stop-color="#f8d22c"/><stop offset="1" stop-color="#f8fa14"/></linearGradient></defs>
<rect x="648.8" y="309.2" width="7.2" height="114.60000000000002" fill="url(#cb309)" stroke="#707070" stroke-width="0.5"/>
<line x1="654.8" y1="423.8" x2="656.0" y2="423.8" stroke="#555" stroke-width="0.5"/>
<text x="658.0" y="425.7" font-size="6.6" fill="#3a3a3a">0.1</text>
<line x1="654.8" y1="411.23" x2="656.0" y2="411.23" stroke="#555" stroke-width="0.5"/>
<text x="658.0" y="413.13" font-size="6.6" fill="#3a3a3a">0.2</text>
<line x1="654.8" y1="398.66" x2="656.0" y2="398.66" stroke="#555" stroke-width="0.5"/>
<text x="658.0" y="400.56" font-size="6.6" fill="#3a3a3a">0.3</text>
<line x1="654.8" y1="386.09000000000003" x2="656.0" y2="386.09000000000003" stroke="#555" stroke-width="0.5"/>
<text x="658.0" y="387.99" font-size="6.6" fill="#3a3a3a">0.4</text>
<line x1="654.8" y1="373.52" x2="656.0" y2="373.52" stroke="#555" stroke-width="0.5"/>
<text x="658.0" y="375.41999999999996" font-size="6.6" fill="#3a3a3a">0.5</text>
<line x1="654.8" y1="360.95" x2="656.0" y2="360.95" stroke="#555" stroke-width="0.5"/>
<text x="658.0" y="362.84999999999997" font-size="6.6" fill="#3a3a3a">0.6</text>
<line x1="654.8" y1="348.38" x2="656.0" y2="348.38" stroke="#555" stroke-width="0.5"/>
<text x="658.0" y="350.28" font-size="6.6" fill="#3a3a3a">0.7</text>
<line x1="654.8" y1="335.81" x2="656.0" y2="335.81" stroke="#555" stroke-width="0.5"/>
<text x="658.0" y="337.71" font-size="6.6" fill="#3a3a3a">0.8</text>
<line x1="654.8" y1="323.24" x2="656.0" y2="323.24" stroke="#555" stroke-width="0.5"/>
<text x="658.0" y="325.14" font-size="6.6" fill="#3a3a3a">0.9</text></svg>
</body></html>
